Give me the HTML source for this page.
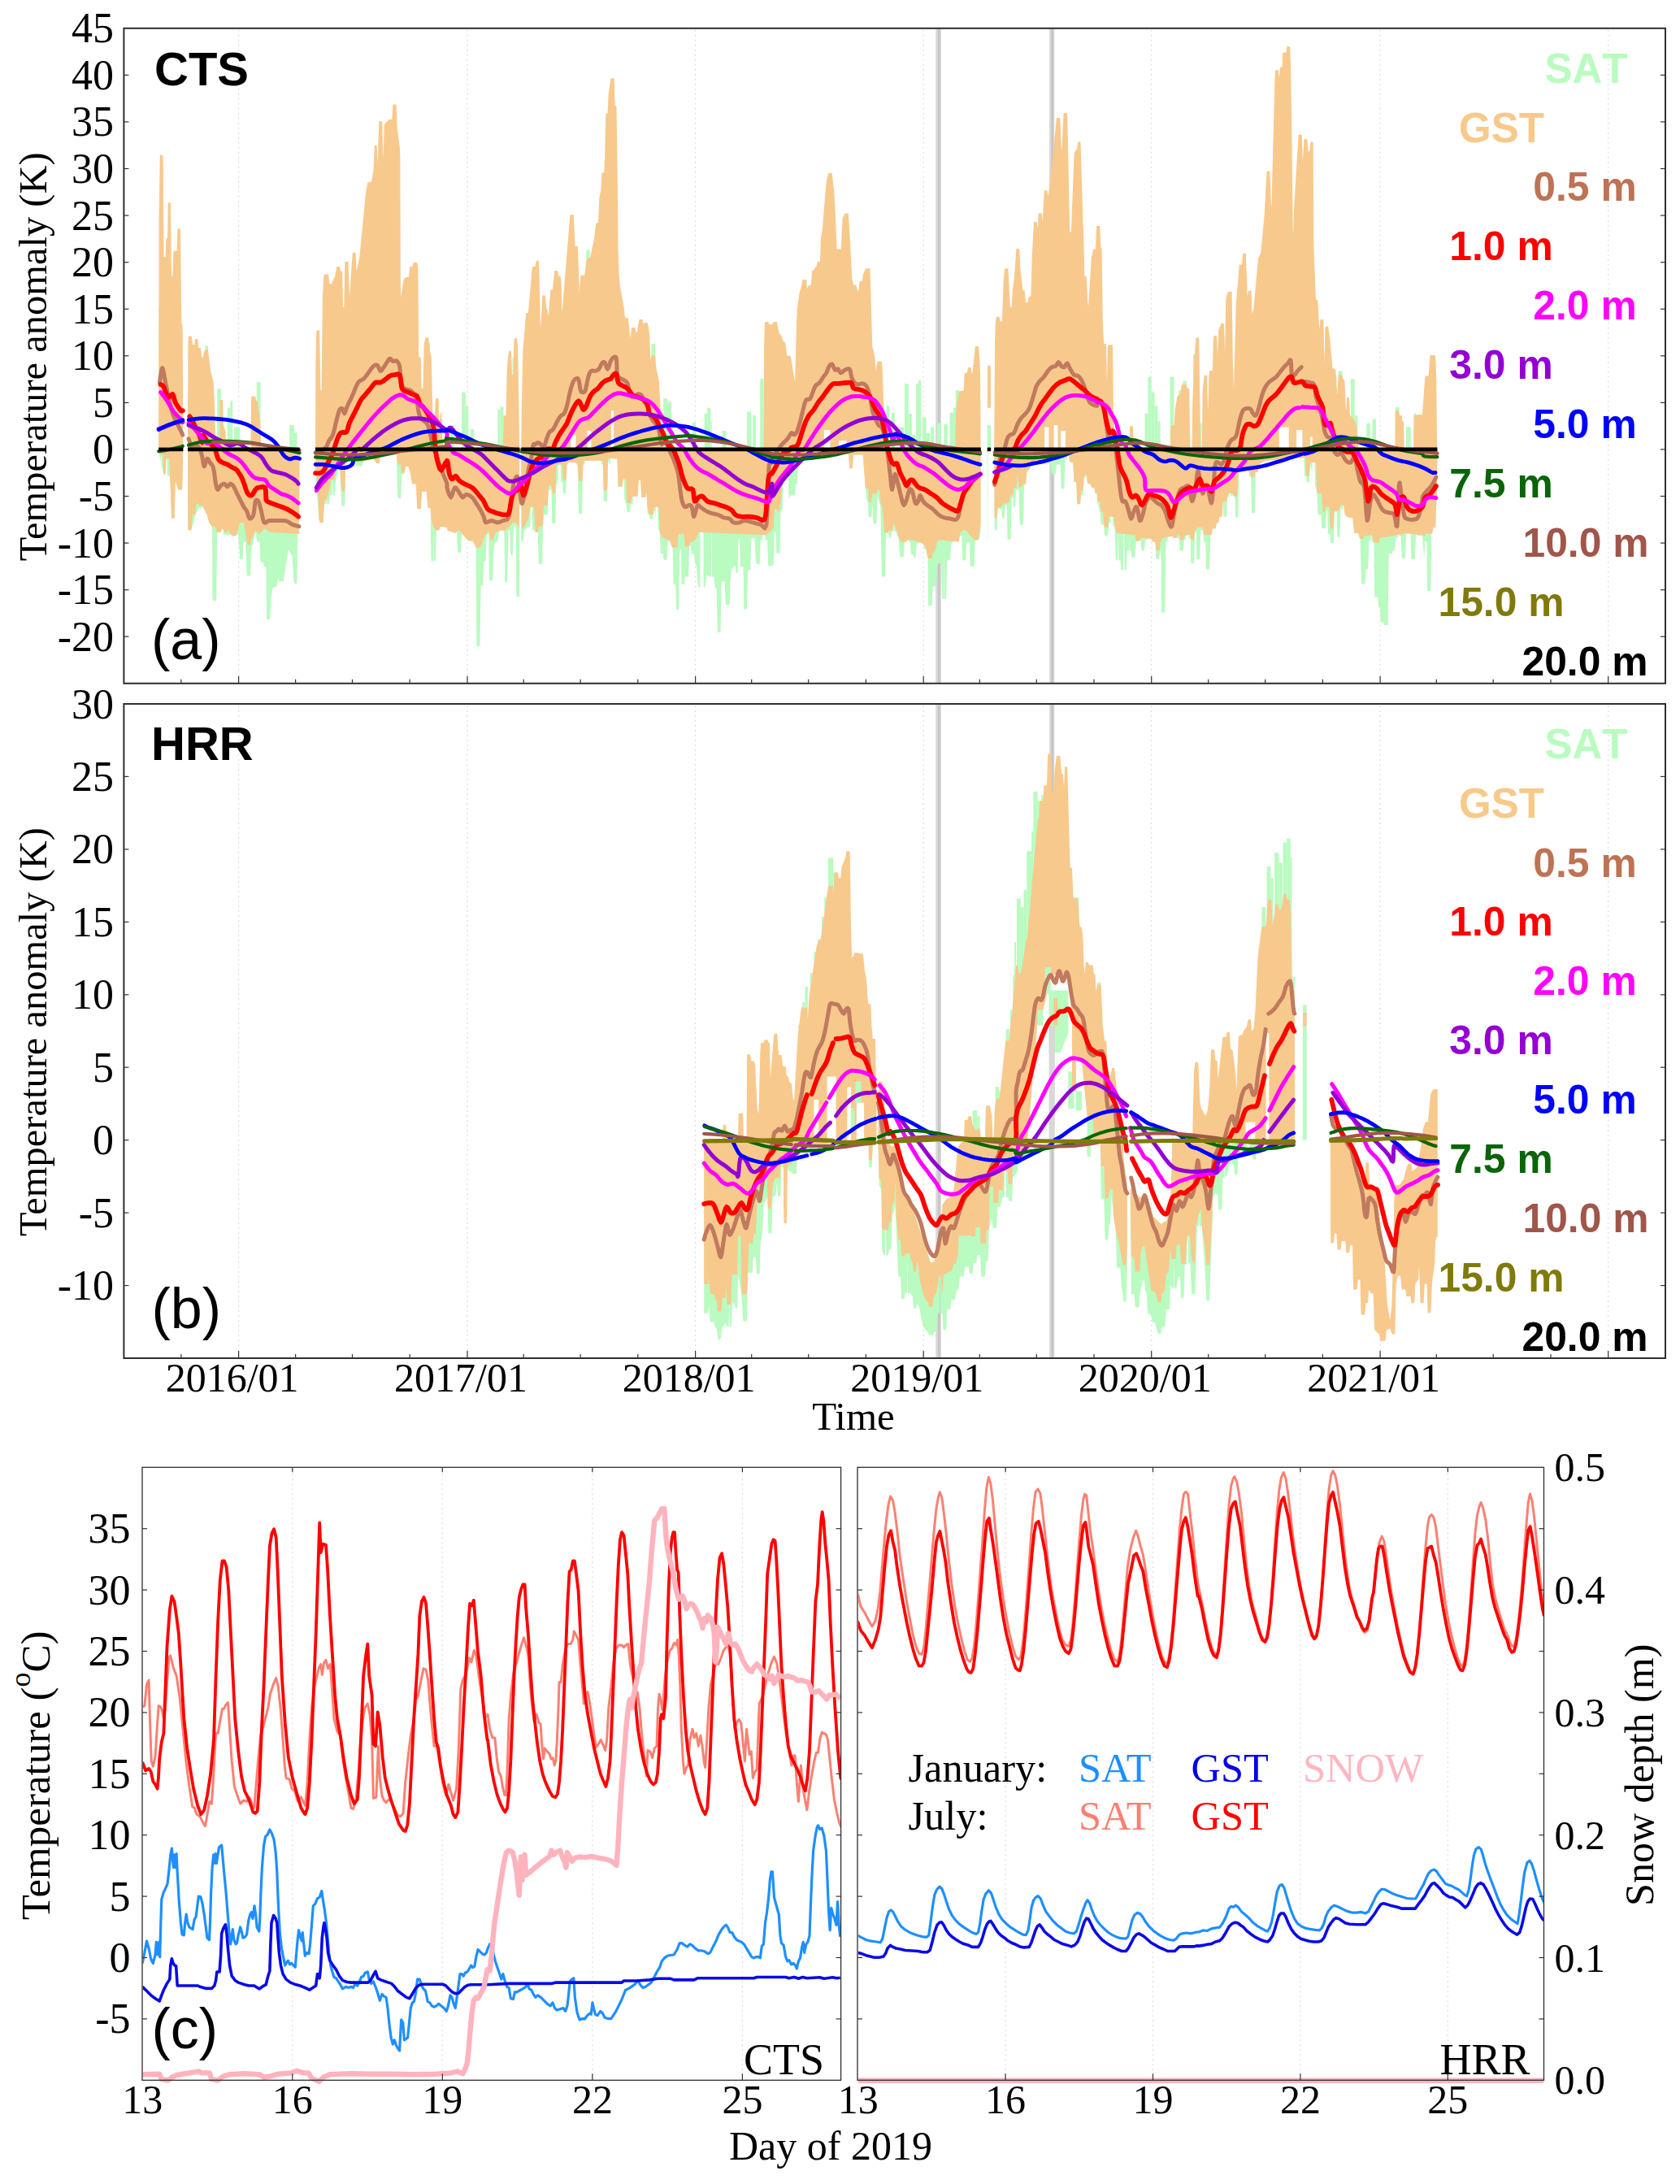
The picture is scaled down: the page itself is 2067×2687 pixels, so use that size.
<!DOCTYPE html>
<html lang="en"><head><meta charset="utf-8"><title>Temperature anomaly figure</title>
<style>html,body{margin:0;padding:0;background:#fff}svg{display:block}</style></head>
<body>
<svg width="2067" height="2687" viewBox="0 0 2067 2687" role="img" aria-label="Temperature anomaly time series for CTS and HRR sites">
<rect width="2067" height="2687" fill="#fff"/>
<line x1="293.6" y1="36.8" x2="293.6" y2="838.8" stroke="#dedede" stroke-width="1.2" stroke-dasharray="2,4"/>
<line x1="575" y1="36.8" x2="575" y2="838.8" stroke="#dedede" stroke-width="1.2" stroke-dasharray="2,4"/>
<line x1="855.6" y1="36.8" x2="855.6" y2="838.8" stroke="#dedede" stroke-width="1.2" stroke-dasharray="2,4"/>
<line x1="1136.2" y1="36.8" x2="1136.2" y2="838.8" stroke="#dedede" stroke-width="1.2" stroke-dasharray="2,4"/>
<line x1="1416.7" y1="36.8" x2="1416.7" y2="838.8" stroke="#dedede" stroke-width="1.2" stroke-dasharray="2,4"/>
<line x1="1698.1" y1="36.8" x2="1698.1" y2="838.8" stroke="#dedede" stroke-width="1.2" stroke-dasharray="2,4"/>
<line x1="1978.7" y1="36.8" x2="1978.7" y2="838.8" stroke="#dedede" stroke-width="1.2" stroke-dasharray="2,4"/>
<rect x="1151.2" y="35.8" width="6.7" height="804" fill="#dadada"/>
<rect x="1153.9" y="35.8" width="2.8" height="804" fill="#c6c6c6"/>
<rect x="1291" y="35.8" width="6.3" height="804" fill="#dadada"/>
<rect x="1293.3" y="35.8" width="2.8" height="804" fill="#c6c6c6"/>
<g id="data_a">
<path d="M195.2,552.9 L225.2,552.9 L225.2,555.5 L224.4,596.5 L224,602.4 L219.2,602.4 L216,591.5 L215.6,596.2 L215.2,610 L209.6,595.4 L208.4,586.2 L208,585.6 L206,584.9 L205.6,564.3 L204.4,564.3 L203.6,584.1 L201.2,583.3 L198.8,572.8 L198.4,559.5 L198,559.5 L197.6,567.5 L195.6,558.7 L195.2,552.9Z M231,552.9 L368.6,552.9 L368.6,552.9 L368.2,657.1 L366.2,657.1 L365.4,717.9 L362.2,717.9 L361.8,716.4 L359.4,684.3 L355,676.6 L354.6,677.3 L348.6,715.5 L344.2,715.5 L341.8,709.9 L340.6,721.3 L340.2,722.6 L335.8,722.6 L333.4,735.3 L332.2,761.9 L328.2,761.9 L327.4,699.3 L327,697.6 L325,697.6 L323.8,691.7 L320.6,691.7 L319.4,666.7 L317,666.7 L316.6,666.3 L314.2,655.1 L309,677.8 L308.2,704.8 L307.8,708.3 L303.8,708.3 L303.4,702.3 L302.2,666.7 L299.8,666.7 L299.4,670.4 L298.6,688.1 L295.4,688.1 L293,659 L292.6,657.2 L287,659.5 L284.6,659.1 L284.2,657.7 L283,656.6 L282.6,658.7 L275,657.5 L274.6,651.3 L273.8,650 L271.4,654.8 L269.8,654.8 L269.4,655.5 L267.4,654.9 L267,667.4 L266.2,738.4 L265.8,739.3 L261.8,739.3 L261.4,733.8 L261,656.8 L260.6,647.6 L257,642.2 L254.6,633 L249.8,623.7 L247.8,622.7 L247.4,627.2 L245.4,624.1 L245,624.3 L240.6,633.1 L237,647.2 L236.6,647.9 L231.4,652.3 L231,651.3Z M388,552.9 L639.2,552.9 L639.2,734 L635.6,734 L635.2,727.1 L634.8,654.5 L634.4,647.6 L632,647.6 L630.8,683.3 L628.4,683.3 L628,677.1 L627.6,652.4 L625.6,652.4 L625.2,654.9 L624.4,708.5 L624,716.2 L621.2,716.2 L620.4,652.4 L614.4,652.4 L612,666.1 L611.6,666.7 L608.8,666.7 L608.4,668.4 L607.2,680.4 L606,714.3 L602,714.3 L601.2,657.9 L600.8,657.1 L598.8,657.1 L598.4,663.1 L597.6,690.5 L595.6,690.5 L595.2,691.7 L594.4,716.7 L594,720.2 L591.6,720.2 L590.4,795.2 L586.4,795.2 L585.6,666.7 L580.8,666.5 L568.4,655 L568,657.3 L567.2,678.3 L566.8,679.8 L563.2,679.8 L562,654.6 L561.6,652.4 L550.4,652.4 L550,648.8 L547.6,649.5 L547.2,648.4 L541.6,647.9 L540.8,651.1 L540.4,651.4 L537.2,652.3 L536.8,655.7 L535.6,690.5 L533.6,690.5 L533.2,648.2 L532.8,690.5 L530.8,690.5 L530.4,683.5 L529.6,624.8 L526,620.5 L524.8,604.8 L519.2,604.8 L518.4,611.3 L512.4,604 L512,597.7 L511.6,595.2 L507.2,595.2 L504.8,581.2 L502.4,573.9 L499.2,573.8 L497.6,582.1 L496.8,582.1 L496.4,584.7 L494.4,582.3 L493.2,613.1 L489.6,613.1 L489.2,609.2 L488,559.5 L485.6,560 L485.2,559.5 L468,561.9 L467.6,563.1 L447.6,566.7 L445.2,573.8 L438,573 L437.6,567.3 L428,567.1 L427.6,569.8 L425.6,569.2 L425.2,571.2 L424.4,616.2 L424,622.6 L420.4,622.6 L418,574.5 L417.6,572.5 L412.8,593.9 L412,607.9 L411.6,609.5 L409.6,609.5 L409.2,590.5 L408.8,590.5 L408.4,609.5 L406,609.5 L404.8,619.9 L404.4,620.2 L402.4,620.2 L402,614 L401.6,615.3 L401.2,620.2 L399.2,620.2 L397.6,642.8 L392.4,639.3 L388.4,587.3 L388,552.9Z M641.3,552.9 L1206.5,552.9 L1206.5,655.6 L1204.9,663.6 L1204.5,664.3 L1202.5,664.8 L1202.1,664.3 L1201.7,665 L1199.7,665.4 L1198.5,697.1 L1194.1,697.1 L1193.7,693.6 L1192.9,668 L1192.5,666.7 L1189.3,666.7 L1188.9,670.2 L1188.1,689.2 L1184.5,689.3 L1184.1,683.2 L1183.3,658.4 L1172.9,666.7 L1170.5,668.8 L1170.1,671.4 L1168.9,689.3 L1165.3,689.3 L1164.1,736.9 L1162.1,736.9 L1161.7,665.1 L1161.3,736.9 L1159.3,736.9 L1158.9,730.1 L1158.1,693.1 L1157.7,692.9 L1154.9,692.9 L1152.9,695.2 L1151.7,721.4 L1147.7,721.4 L1146.5,745.2 L1142.1,745.2 L1141.7,696.1 L1141.3,686.3 L1139.3,676.3 L1136.9,674.5 L1136.5,670.1 L1135.7,669 L1130.5,667.3 L1130.1,669.6 L1127.7,667.9 L1126.5,685.7 L1124.5,685.7 L1124.1,685 L1123.3,682.1 L1121.3,682.1 L1120.9,681 L1120.1,666.7 L1118.1,666.7 L1117.7,664.3 L1116.9,664.3 L1115.7,665.3 L1115.3,666.7 L1112.9,666.7 L1111.7,685.2 L1107.3,685.2 L1105.7,663.5 L1102.5,653.9 L1102.1,653.6 L1100.1,653.6 L1099.7,643.4 L1099.3,653.6 L1097.3,653.6 L1096.1,661.9 L1094.5,661.9 L1094.1,661.1 L1092.9,656.1 L1092.5,656.1 L1090.1,657.1 L1088.9,709.5 L1084.9,709.5 L1083.3,623.7 L1079.7,610.2 L1078.5,644 L1074.5,644 L1074.1,639.2 L1073.3,619.6 L1072.5,634 L1072.1,636.2 L1068.9,636.2 L1068.5,633.6 L1068.1,619.2 L1065.7,612.8 L1065.3,601.2 L1064.9,601.2 L1061.7,559.5 L1050.1,559.5 L1049.3,570.1 L1045.3,559.7 L1042.9,559.8 L1042.5,558.4 L984.5,563.6 L984.1,566.4 L982.1,566.6 L980.9,595.2 L979.3,595.2 L978.9,597.5 L978.1,609.5 L972.9,609.5 L970.5,613.4 L970.1,579 L964.5,580.9 L964.1,582.3 L963.3,588.3 L962.9,625.8 L960.5,629.7 L959.7,671.1 L959.3,680.5 L955.3,680.5 L954.9,662.2 L954.5,654.8 L952.5,654.8 L951.7,695.2 L950.1,695.2 L949.7,696.4 L945.3,696.4 L944.1,665.7 L943.7,664.3 L941.7,664.3 L941.3,658.3 L938.5,658.3 L938.1,664.3 L936.1,664.3 L935.7,664.7 L934.9,689.7 L934.5,694 L930.9,693.8 L929.7,688.8 L928.5,661.9 L924.5,661.9 L924.1,669.6 L923.3,701.2 L920.1,701.2 L918.9,749.5 L915.3,749.5 L914.9,712.7 L914.5,697.6 L911.3,697.6 L910.9,695.7 L910.1,665.7 L909.7,661.9 L908.9,661.9 L908.5,665.1 L907.7,701.1 L907.3,704.8 L905.3,704.8 L904.9,698 L904.5,695.5 L900.1,699.9 L898.5,716.5 L897.7,741.5 L897.3,744 L892.9,744 L891.7,715.5 L887.7,715.5 L886.5,778.1 L882.9,778.1 L881.7,723.8 L879.7,723.8 L878.5,709.5 L876.1,709.5 L875.7,655.6 L875.3,655.6 L874.9,709.5 L872.9,709.5 L869.3,707.3 L868.9,709.1 L867.7,722.6 L865.7,722.6 L865.3,655.1 L861.7,654.9 L861.3,722.6 L859.3,722.6 L858.9,720.7 L856.9,696.9 L854.9,690.9 L853.7,682 L853.3,681 L851.3,681 L850.9,680.4 L850.1,672.4 L849.7,671.4 L848.1,671.4 L847.3,703.2 L846.9,709.5 L842.9,709.5 L841.7,719 L838.9,719 L838.5,712.6 L838.1,676.6 L837.7,676.2 L836.5,676.2 L836.1,683.2 L835.3,745.2 L834.9,750 L832.1,750 L831.3,719 L828.9,719 L828.5,715.7 L827.7,677.7 L827.3,673.3 L825.3,670.2 L824.9,667.2 L824.1,665.1 L823.7,667.8 L821.7,664.7 L821.3,667.6 L820.5,688.2 L820.1,688.8 L816.9,688.8 L816.5,687.4 L815.7,681 L812.9,681 L811.7,656.3 L809.7,648.2 L809.3,623.8 L806.9,623.8 L806.5,635.2 L804.5,627.1 L804.1,628.7 L803.3,638.8 L799.7,638.8 L798.9,634 L798.5,633.1 L796.5,631.9 L796.1,618.6 L795.3,605.8 L794.9,606.8 L794.1,611.6 L793.7,611.9 L789.3,611.9 L788.1,590.6 L785.7,590.7 L784.5,610.7 L778.9,610.7 L778.5,620.5 L776.5,619.2 L776.1,620.1 L775.3,629.1 L774.9,629.8 L771.7,629.8 L771.3,628.3 L770.5,619.3 L768.1,613.5 L767.7,589.3 L766.9,589.3 L766.5,590.6 L765.3,598.8 L761.7,598.5 L760.5,595.7 L759.7,570.7 L759.3,564.3 L750.9,564.3 L750.5,572.3 L748.1,566.7 L747.3,608.4 L746.9,616.7 L742.9,616.7 L741.7,571.4 L739.7,571.4 L739.3,566.7 L719.7,566.7 L719.3,571.4 L717.3,571.4 L716.1,632.1 L712.1,632.1 L710.5,571.4 L708.5,571.4 L708.1,569 L699.7,569 L699.3,571.4 L697.3,571.4 L696.1,607.1 L692.9,607.1 L692.5,596.4 L692.1,592.9 L690.1,593.5 L689.7,571.4 L686.9,571.4 L686.5,594.6 L684.5,595.2 L684.1,604.8 L683.3,644 L679.3,644 L678.5,602.4 L675.3,602.4 L674.9,605 L673.7,633.3 L669.3,633.3 L668.9,636.3 L668.1,652.3 L667.3,687.2 L666.9,694 L662.9,694 L661.7,654.7 L654.9,650.9 L654.5,623.8 L652.9,623.8 L652.5,649.3 L650.1,647.7 L645.3,652.3 L644.1,663.8 L643.7,664.6 L641.7,666.6 L641.3,672.5Z M1214.7,552.9 L1217.5,552.9 L1217.9,501.7 L1219.1,501.7 L1219.1,501.7 L1217.9,501.7 L1217.5,552.9 L1215.5,552.9 L1215.1,664.3 L1214.7,664.3Z M1223.2,552.9 L1768.4,552.9 L1768.4,552.9 L1768,616.7 L1761.2,655.8 L1760.4,720.3 L1760,727.1 L1756,727.1 L1755.6,671.1 L1755.2,665.7 L1753.2,665.7 L1752.4,683.8 L1752,684.3 L1750,659.5 L1742,658.3 L1740.8,688.1 L1736.4,688.1 L1735.6,657.1 L1733.2,657.1 L1732.8,656.4 L1732.4,657.1 L1730,657.1 L1729.2,682.1 L1728.8,686.9 L1724.8,686.9 L1723.6,659.6 L1721.6,660.3 L1721.2,657.2 L1720,657.4 L1719.6,661 L1717.2,661.9 L1716,677.4 L1714,677.4 L1712.8,681 L1708.8,681 L1708.4,696.8 L1707.6,769 L1703.6,769 L1703.2,768.5 L1702.4,765.5 L1698.8,765.5 L1698,747.6 L1696.4,747.6 L1696,745 L1695.2,734.5 L1691.2,734.5 L1690.4,667.8 L1687.6,666.2 L1687.2,658.4 L1686.8,658.5 L1686.4,665.5 L1684.4,664.4 L1683.2,700 L1680.8,700 L1680.4,701.5 L1679.6,717.1 L1679.2,718.6 L1675.6,718.6 L1675.2,717.1 L1673.6,663.9 L1671.6,660.6 L1671.2,656 L1668.8,655.9 L1665.6,650 L1664.4,638 L1664,636.9 L1659.6,636.9 L1654.8,632.6 L1653.2,621.4 L1652.4,621.4 L1652,627.9 L1649.6,623.9 L1648.4,660.7 L1645.6,660.7 L1645.2,658.2 L1644.8,632.2 L1644.4,629.8 L1642,629.8 L1640.8,667.9 L1637.2,667.9 L1636.8,660.1 L1636.4,657.1 L1634,657.1 L1633.2,628.6 L1632,628.6 L1630.8,650 L1626.4,650 L1626,646.7 L1625.2,633.3 L1621.6,633.3 L1620.4,606.8 L1618,596.5 L1617.6,569 L1614.8,569 L1614.4,581 L1612,570.6 L1610.8,593.3 L1607.6,593 L1607.2,586.6 L1606.8,585.7 L1604.8,585.5 L1604.4,563.2 L1557.2,566.7 L1548.8,571.3 L1548.4,573.1 L1547.6,581 L1547.2,581.1 L1544.8,581 L1544,631 L1540,631 L1539.2,586.9 L1536.8,585.9 L1536.4,579.5 L1526.8,578.6 L1526.4,581.8 L1524.4,581 L1523.2,636.2 L1520,636.2 L1519.6,615.8 L1519.2,611.6 L1516.8,609.6 L1514.4,610.3 L1514,607.1 L1512.8,607.1 L1512.4,611 L1510,611.9 L1509.2,631.9 L1508.8,635.7 L1505.6,635.7 L1505.2,634.4 L1504.8,620.4 L1504.4,620.3 L1495.6,650.2 L1493.6,653 L1493.2,650 L1492,650 L1491.6,651.8 L1491.2,656.4 L1489.2,659.3 L1488,700.5 L1484,700.5 L1483.2,666.7 L1481.2,666.7 L1480.4,652.4 L1477.2,652.4 L1476,688.1 L1472.4,688.1 L1472,661.4 L1471.6,654.8 L1470,654.8 L1469.2,686.8 L1468.8,692.9 L1465.6,692.9 L1465.2,690.4 L1464.8,664.4 L1464.4,662 L1462.4,662.6 L1462,657.9 L1459.2,658.8 L1458.8,663.7 L1456.8,664.2 L1455.6,677.4 L1451.6,677.4 L1450.8,661.9 L1448.8,662.5 L1448.4,659 L1447.6,661.9 L1444,661.8 L1442.8,659.5 L1436.8,660 L1436.4,666.1 L1434.4,666.6 L1433.2,753.6 L1429.2,753.6 L1428.4,678.6 L1427.2,678.6 L1426,688.1 L1422.4,688.1 L1421.6,670.5 L1421.2,666.6 L1418,666 L1416.8,663.4 L1416.4,663.1 L1411.6,662.6 L1411.2,664.7 L1409.2,664.3 L1408,677.4 L1404.4,677.4 L1403.6,664.4 L1397.6,667 L1396.8,683 L1396.4,685.7 L1392.4,685.7 L1392,679 L1391.6,677.4 L1389.6,677.4 L1389.2,657.4 L1388.8,677.4 L1386.8,677.4 L1385.6,701.2 L1383.6,701.2 L1383.2,657.1 L1382.4,657.1 L1382,701.2 L1379.6,701.2 L1378.4,689.3 L1376.4,689.3 L1376,656.5 L1375.6,656.4 L1375.2,689.3 L1373.2,689.3 L1372.8,687.6 L1371.6,652.6 L1371.2,647.5 L1369.2,646.1 L1368.8,635.7 L1366.8,635.7 L1366.4,644.3 L1364.4,642.9 L1363.2,659 L1359.2,659 L1358,645.2 L1354.4,645.2 L1353.6,630.2 L1350,616.7 L1349.6,606.6 L1347.2,603.5 L1346.4,600 L1344.4,599.9 L1342.4,597.4 L1341.6,595.2 L1340.8,595.2 L1337.6,590.8 L1336.8,584.5 L1336,584.5 L1335.6,588.6 L1333.6,586.1 L1333.2,589 L1332.4,609 L1332,609.5 L1330,609.5 L1329.2,619.5 L1328.8,620.6 L1324.8,607.3 L1324.4,596.1 L1324,592.9 L1321.6,592.9 L1320.4,572.3 L1320,569 L1316.8,569 L1314.4,557.7 L1314,557.1 L1313.2,557.1 L1312.8,567.3 L1310.8,560.6 L1310.4,562.9 L1309.6,597.9 L1309.2,601.2 L1306,601.2 L1305.6,597.6 L1304.8,572.6 L1304.4,571.4 L1300,571.4 L1298.8,583.3 L1294.4,583.3 L1294,582.8 L1292.8,570.3 L1290.4,571.1 L1290,569 L1269.2,569 L1266.8,576.9 L1266.4,577.5 L1266,577.6 L1265.6,580.1 L1263.6,580.9 L1263.2,583.1 L1262.4,596.1 L1262,596.4 L1260,596.4 L1259.2,637.8 L1258.8,645.7 L1254.8,645.7 L1253.6,603.4 L1253.2,602.4 L1250,602.4 L1249.2,620.4 L1248.8,623.8 L1247.2,623.8 L1246.4,611.9 L1244.8,611.9 L1243.6,663.8 L1239.6,663.8 L1238.8,621.4 L1236.8,621.4 L1235.6,637.6 L1233.2,637.6 L1232.8,636.2 L1232.4,626.6 L1232,626.2 L1228,626.2 L1227.6,626.7 L1226.8,648.7 L1226.4,652.4 L1224,652.4 L1223.6,646.1 L1223.2,552.9Z" fill="#b9fbc0"/>
<rect x="195.2" y="377.9" width="1.4" height="175.1" fill="#b9fbc0"/>
<rect x="252.4" y="425.5" width="3.6" height="127.5" fill="#b9fbc0"/>
<rect x="267.1" y="478.3" width="4.8" height="74.6" fill="#b9fbc0"/>
<rect x="279.8" y="501.7" width="3.6" height="51.3" fill="#b9fbc0"/>
<rect x="283.3" y="493.3" width="2.9" height="59.6" fill="#b9fbc0"/>
<rect x="288.1" y="525.5" width="7.1" height="27.5" fill="#b9fbc0"/>
<rect x="315.7" y="470.2" width="4.8" height="82.7" fill="#b9fbc0"/>
<rect x="356.2" y="523.1" width="5.7" height="29.8" fill="#b9fbc0"/>
<rect x="361.9" y="532.6" width="3.6" height="20.3" fill="#b9fbc0"/>
<rect x="344" y="549.3" width="4.8" height="3.7" fill="#b9fbc0"/>
<rect x="476.7" y="505.2" width="3.3" height="47.7" fill="#b9fbc0"/>
<rect x="485.7" y="535" width="2.9" height="17.9" fill="#b9fbc0"/>
<rect x="527.1" y="420.7" width="1.9" height="132.2" fill="#b9fbc0"/>
<rect x="554.3" y="523.1" width="4.3" height="29.8" fill="#b9fbc0"/>
<rect x="568.1" y="482.6" width="4.8" height="70.3" fill="#b9fbc0"/>
<rect x="572.9" y="499.3" width="3.3" height="53.7" fill="#b9fbc0"/>
<rect x="579" y="527.9" width="4.3" height="25.1" fill="#b9fbc0"/>
<rect x="612.4" y="504" width="3.1" height="48.9" fill="#b9fbc0"/>
<rect x="615.5" y="500.5" width="4" height="52.5" fill="#b9fbc0"/>
<rect x="630.5" y="439.8" width="1.4" height="113.2" fill="#b9fbc0"/>
<rect x="721.4" y="307.6" width="4.3" height="245.3" fill="#b9fbc0"/>
<rect x="801.4" y="423.1" width="4.8" height="129.8" fill="#b9fbc0"/>
<rect x="816.2" y="490.2" width="4.8" height="62.7" fill="#b9fbc0"/>
<rect x="821" y="494.5" width="5.2" height="58.4" fill="#b9fbc0"/>
<rect x="826.2" y="516" width="1.4" height="37" fill="#b9fbc0"/>
<rect x="851.9" y="519.5" width="4.3" height="33.4" fill="#b9fbc0"/>
<rect x="866.7" y="508.8" width="3.6" height="44.1" fill="#b9fbc0"/>
<rect x="870.2" y="501.7" width="4" height="51.3" fill="#b9fbc0"/>
<rect x="874.3" y="518.3" width="1.4" height="34.6" fill="#b9fbc0"/>
<rect x="888.6" y="530.2" width="4.8" height="22.7" fill="#b9fbc0"/>
<rect x="919" y="506.4" width="5.2" height="46.5" fill="#b9fbc0"/>
<rect x="926.2" y="511.2" width="3.8" height="41.8" fill="#b9fbc0"/>
<rect x="935.2" y="466" width="4.3" height="87" fill="#b9fbc0"/>
<rect x="988.1" y="344" width="4.8" height="208.9" fill="#b9fbc0"/>
<rect x="1090.5" y="499.3" width="3.8" height="53.7" fill="#b9fbc0"/>
<rect x="1096.7" y="507.6" width="4.3" height="45.3" fill="#b9fbc0"/>
<rect x="1107.1" y="525.5" width="4.8" height="27.5" fill="#b9fbc0"/>
<rect x="1112.9" y="471.9" width="4.8" height="81" fill="#b9fbc0"/>
<rect x="1117.6" y="508.8" width="4.3" height="44.1" fill="#b9fbc0"/>
<rect x="1121.9" y="535" width="4.3" height="17.9" fill="#b9fbc0"/>
<rect x="1127.1" y="471.9" width="2.9" height="81" fill="#b9fbc0"/>
<rect x="1130" y="467.9" width="3.3" height="85.1" fill="#b9fbc0"/>
<rect x="1134.8" y="513.6" width="4.8" height="39.4" fill="#b9fbc0"/>
<rect x="1139.5" y="532.6" width="4.8" height="20.3" fill="#b9fbc0"/>
<rect x="1145.2" y="525.5" width="3.8" height="27.5" fill="#b9fbc0"/>
<rect x="1152.9" y="520.7" width="4.8" height="32.2" fill="#b9fbc0"/>
<rect x="1161.4" y="521.9" width="4.3" height="31" fill="#b9fbc0"/>
<rect x="1168.6" y="507.6" width="4.3" height="45.3" fill="#b9fbc0"/>
<rect x="1172.9" y="501.7" width="3.3" height="51.3" fill="#b9fbc0"/>
<rect x="1175.7" y="480.2" width="4.8" height="72.7" fill="#b9fbc0"/>
<rect x="1214.8" y="523.1" width="4.3" height="29.8" fill="#b9fbc0"/>
<rect x="1291" y="513.6" width="2.9" height="39.4" fill="#b9fbc0"/>
<rect x="1301.4" y="505.2" width="3.3" height="47.7" fill="#b9fbc0"/>
<rect x="1311" y="511.2" width="1.9" height="41.8" fill="#b9fbc0"/>
<rect x="1408.6" y="508.8" width="3.8" height="44.1" fill="#b9fbc0"/>
<rect x="1412.4" y="463.6" width="4.3" height="89.4" fill="#b9fbc0"/>
<rect x="1416.7" y="482.6" width="3.8" height="70.3" fill="#b9fbc0"/>
<rect x="1420.5" y="499.3" width="3.8" height="53.7" fill="#b9fbc0"/>
<rect x="1424.3" y="518.3" width="3.3" height="34.6" fill="#b9fbc0"/>
<rect x="1439.5" y="463.6" width="4.8" height="89.4" fill="#b9fbc0"/>
<rect x="1450" y="480.2" width="3.8" height="72.7" fill="#b9fbc0"/>
<rect x="1455.2" y="468.8" width="4.8" height="84.1" fill="#b9fbc0"/>
<rect x="1468.1" y="436.2" width="2.4" height="116.8" fill="#b9fbc0"/>
<rect x="1476.2" y="520.7" width="2.4" height="32.2" fill="#b9fbc0"/>
<rect x="1646.7" y="456.4" width="4.8" height="96.5" fill="#b9fbc0"/>
<rect x="1661.9" y="466.4" width="4.8" height="86.5" fill="#b9fbc0"/>
<rect x="1666.7" y="511.2" width="3.8" height="41.8" fill="#b9fbc0"/>
<rect x="1681.4" y="520.7" width="4.3" height="32.2" fill="#b9fbc0"/>
<rect x="1688.6" y="516" width="4.3" height="37" fill="#b9fbc0"/>
<rect x="1716.7" y="501.2" width="4.8" height="51.8" fill="#b9fbc0"/>
<rect x="1730" y="525.5" width="5.7" height="27.5" fill="#b9fbc0"/>
<rect x="1739.5" y="508.8" width="3.3" height="44.1" fill="#b9fbc0"/>
<rect x="1690" y="515.5" width="2.6" height="37.4" fill="#b9fbc0"/>
<rect x="1717.1" y="500.9" width="4" height="52.1" fill="#b9fbc0"/>
<rect x="1729.9" y="525.6" width="5.5" height="27.3" fill="#b9fbc0"/>
<path d="M195.2,552.9 L195.6,267 L196.8,191 L200.4,191 L200.8,206 L201.6,316 L203.6,316 L204.4,293.3 L206,293.3 L206.8,249.3 L210,249.3 L210.8,325.3 L211.2,339.8 L212,339.8 L212.4,339.1 L213.2,313.1 L213.6,308.8 L217.6,308.8 L218.4,281.4 L222,281.4 L223.2,386.1 L223.6,399.3 L224.4,399.3 L224.8,411.6 L225.2,540.6 L225.2,555.5 L224.4,596.5 L224,602.4 L219.2,602.4 L216,591.5 L215.6,596.2 L214.8,636.2 L214.4,638.1 L211.2,638.1 L210.8,633.3 L208.4,565.9 L208,564.3 L204.4,564.3 L203.6,583.3 L201.2,583.3 L200.4,559.5 L197.6,559.5 L195.6,557.5 L195.2,552.9Z M231,538.9 L231.4,421.9 L231.8,413.6 L235.4,413.6 L235.8,414.2 L237,423.2 L237.4,424.3 L239,424.3 L240.2,417.1 L243,417.1 L243.4,417.9 L244.2,426.9 L244.6,427.9 L247,427.9 L248.2,439.8 L249.8,439.8 L251,432.6 L253,430.2 L255.8,429.1 L259,456.1 L262.6,469.8 L263,474.8 L265.8,552.9 L270.2,552.9 L270.6,492.1 L274.2,492.1 L275,523.7 L277.4,530.6 L278.6,552.9 L308.2,552.9 L308.6,548.9 L309,493.9 L309.4,487.4 L314.2,487.4 L315,493.3 L316.6,493.3 L320.2,518.7 L321.4,551.9 L321.8,552.9 L368.6,552.9 L368.6,552.9 L367.8,657.1 L331,654.8 L326.2,650 L319,657.1 L314.2,652.6 L309,664.6 L308.2,669.6 L307.8,670.2 L305,670.2 L304.6,669.4 L299.8,642.9 L295.4,642.9 L290.6,659.2 L290.2,659.5 L287,659.5 L283.4,657.2 L280.6,652.6 L280.2,652.7 L277.4,655.9 L273.8,650 L271.4,654.8 L266.6,654.6 L264.2,647.6 L260.6,647.6 L257.4,643.2 L254.6,633 L249.8,623.7 L241.8,619.3 L241.4,619.5 L240.6,631.5 L240.2,633.3 L237,633.3 L236.6,634.7 L235.8,650.7 L235.4,652.4 L231.8,652.4 L231.4,646.5 L231,563.5Z M388,552.9 L388.4,446.3 L389.2,410.3 L389.6,406.4 L393.2,406.4 L394.4,480.2 L395.6,480.2 L396.8,367.3 L398.4,340.3 L398.8,337.4 L404,337.4 L404.4,338.8 L405.2,348.8 L405.6,349.3 L407.6,349.3 L412,340.4 L414.4,327.9 L418,327.9 L419.2,333.8 L421.2,333.8 L422,377.9 L423.2,377.9 L424.4,321.9 L428.4,321.9 L430,364.8 L433.6,313.9 L434,310.7 L437.6,310.7 L438.4,330.6 L438.8,333.5 L442.4,315.8 L450,237.4 L452.4,224.3 L455.6,224.3 L456.8,223.4 L457.2,222.8 L459.2,210.8 L459.6,206.9 L460.8,179 L463.6,179 L464.8,200.3 L466,156.3 L466.4,149.3 L470,149.3 L470.4,156.1 L471.2,189.7 L471.6,192.6 L472.8,152.7 L478.8,146.9 L482,146.9 L482.4,146.5 L483.2,131.1 L483.6,128.6 L487.6,128.6 L488.8,157.9 L492,183.6 L492.4,194.6 L492.8,346.6 L493.2,365.8 L496.8,343.2 L500,341 L502.8,341 L504.4,327.9 L506.8,327.9 L507.2,327.7 L508.4,323.7 L508.8,323.1 L512.4,323.1 L514,325.1 L514.4,339.2 L515.2,435.2 L515.6,439.8 L517.6,439.8 L518,447.4 L518.4,468.7 L518.8,477.9 L520.4,477.9 L521.6,424.6 L523.2,416 L523.6,415.2 L526.8,415.2 L527.2,415.8 L528.8,431.2 L530.8,439.2 L532.4,511.5 L533.6,531.5 L534,530.5 L535.6,492.9 L536,490.2 L539.2,490.2 L539.6,492.7 L540.4,518.3 L540.8,517.7 L542,507.6 L543.2,507.6 L544.4,536.4 L545.6,551.4 L546,552.9 L618.8,552.9 L619.6,511.2 L622.4,511.2 L622.8,498.5 L623.6,457.4 L625.2,436.7 L626.8,431.4 L628.8,431.4 L629.2,436.2 L630,461.2 L631.2,461.2 L631.6,453.5 L632.4,418.3 L634,416 L636,416 L636.8,423.6 L637.2,430.6 L639.2,552.9 L639.2,552.9 L638.8,649.7 L634.4,642.9 L630.8,643 L621.2,653.5 L616.8,652.4 L609.6,654.7 L607.2,664.1 L606.8,664.3 L603.6,664.3 L601.2,652.4 L594.4,663.6 L591.6,673.8 L585.6,673.5 L582,665.5 L576.4,665.5 L564.4,652.5 L559.6,655.9 L550.4,652.5 L550,648.8 L541.6,647.9 L540.4,652.4 L535.6,652.2 L532.8,647.4 L531.2,641.4 L529.6,625 L526.4,625 L524.8,604.8 L519.2,604.8 L518,623.6 L517.6,626.2 L513.2,626.2 L512,597.7 L511.6,595.2 L507.2,595.2 L504.8,581.2 L502.4,573.9 L499.2,573.8 L497.6,582.1 L494.4,582.1 L494,581.7 L492.8,571.4 L489.6,571.4 L489.2,570.6 L488,559.5 L468,561.9 L466.8,569.3 L466.4,570.2 L463.2,570.2 L459.6,564.4 L459.2,564.4 L442.8,569 L428.8,566.7 L425.6,568.8 L425.2,570.5 L424.4,600.5 L424,604.8 L420.4,604.8 L418,573.4 L417.6,571.4 L414,571.4 L413.6,573.5 L412,589.5 L411.6,590.5 L407.2,590.5 L404.8,604.5 L401.2,616.6 L399.2,614.5 L397.6,642.9 L393.6,642.9 L393.2,642.2 L392.4,638.2 L390.4,583.3 L388.4,583.3 L388,552.9Z M641.3,552.9 L641.7,507.1 L643.3,431.7 L647.3,385 L649.7,385 L650.1,383.3 L654.9,327.9 L658.5,327.9 L659.7,320.7 L662.5,320.7 L662.9,321.8 L663.7,341.8 L664.9,404.6 L666.1,388.6 L667.3,363.6 L670.9,363.6 L672.1,378.3 L673.7,382.3 L674.5,387.8 L674.9,388.2 L677.3,356.4 L679.7,356.4 L680.1,355.1 L682.1,335.1 L682.5,333.1 L686.1,333.1 L687.3,339.8 L689.3,339.8 L690.1,342.6 L690.5,345.6 L691.3,381.6 L691.7,382.9 L701.3,265.9 L701.7,264.3 L705.7,264.3 L707.7,302.9 L710.9,302.9 L712.9,360.5 L714.1,341.5 L714.5,338.6 L718.1,338.6 L718.9,340.6 L721.3,321.6 L722.9,317.1 L726.1,317.1 L730.9,294.8 L733.3,274.6 L736.1,274.3 L737.3,243.7 L739.3,233.7 L740.5,212.4 L743.3,212.4 L744.1,194.2 L745.3,139.8 L747.3,139.8 L747.7,137.6 L748.5,116.6 L751.3,97 L751.7,96.2 L755.7,96.2 L756.5,124.3 L756.9,130.2 L758.5,130.2 L759.7,209 L760.5,304.9 L761.7,339.1 L762.9,351.9 L767.7,378.6 L768.9,389.6 L769.3,391 L772.5,391 L772.9,391.4 L775.3,415.5 L777.3,402.9 L781.3,402.9 L782.5,408.8 L784.1,408.8 L785.3,399 L786.5,393.6 L786.9,392.9 L790.5,393 L791.7,398.4 L792.1,398.8 L792.9,396.9 L796.5,396.9 L798.1,402.9 L799.3,413.9 L800.5,444.3 L801.3,438.3 L801.7,437.4 L806.1,437.4 L807.7,454.4 L809.7,462.4 L810.9,470.4 L815.7,552.6 L939.3,552.9 L940.1,426.6 L940.9,397.8 L941.3,396 L945.3,396.1 L946.5,398.9 L946.9,399.3 L949.7,399.3 L950.1,399.1 L952.1,396 L955.7,396 L958.9,410.5 L961.7,413.4 L963.7,420.3 L966.5,421.8 L968.1,437.4 L972.5,438.1 L972.9,438.4 L978.1,470.5 L980.1,394.9 L980.9,378.9 L983.7,359.5 L985.7,354.1 L987.3,344.5 L991.7,344.5 L992.9,355.1 L994.5,351.6 L998.1,350.4 L998.9,335.4 L999.3,332.6 L1001.3,332.6 L1002.9,329 L1004.5,328 L1004.9,327 L1005.7,322 L1008.9,321.9 L1010.1,291.6 L1011.7,283.6 L1016.5,225 L1018.9,213.7 L1019.3,213.1 L1023.7,213.1 L1026.1,234.2 L1027.7,258.9 L1029.3,301.4 L1029.7,306.4 L1034.5,306.4 L1034.9,303.3 L1036.5,271.3 L1036.9,267.8 L1039.7,262.4 L1043.7,262.4 L1044.9,278.6 L1048.5,343.6 L1050.1,350.5 L1053.3,350.5 L1054.9,357.6 L1056.5,357.6 L1057.7,345.7 L1060.9,345.7 L1062.1,337 L1065.3,330.2 L1070.1,330.2 L1070.5,331.1 L1073.3,426.6 L1076.1,437.1 L1077.7,455.9 L1079.3,445.9 L1079.7,444.5 L1084.5,444.5 L1084.9,445.9 L1085.7,453.9 L1088.5,533.2 L1090.5,552.9 L1174.9,552.9 L1176.5,504.3 L1176.9,497.7 L1180.1,481.4 L1185.7,480.2 L1186.5,462.6 L1186.9,458.8 L1189.7,458.8 L1190.1,458.1 L1190.9,452.5 L1191.3,452.1 L1194.5,452.1 L1194.9,453.5 L1195.7,461.1 L1196.9,455.3 L1199.7,428.1 L1200.1,426 L1204.1,426 L1205.3,441.3 L1206.1,461.3 L1206.5,521.6 L1206.5,644.2 L1203.7,663.6 L1203.3,664.3 L1198.9,664.3 L1188.1,652.4 L1184.5,652.4 L1180.9,657.6 L1179.7,666.7 L1156.1,664.3 L1152.9,666.6 L1150.9,676.6 L1147.7,680.8 L1146.5,686.5 L1146.1,686.9 L1141.7,686.9 L1139.3,673.9 L1135.7,669 L1124.1,664.4 L1116.9,664.3 L1114.1,666.7 L1108.1,666.7 L1099.7,643.4 L1099.3,645.1 L1098.5,652.4 L1094.1,652.7 L1092.9,654.7 L1088.1,654.8 L1085.7,623.8 L1083.3,618.5 L1082.5,604.5 L1082.1,602.4 L1080.1,602.4 L1078.5,607.1 L1073.3,607.4 L1071.7,617.9 L1069.3,617.9 L1068.9,615.3 L1068.1,601.3 L1064.9,601.2 L1061.7,559.5 L1050.1,559.5 L1048.9,576.2 L1045.3,576.2 L1044.1,559.1 L1043.7,558.3 L972.9,566.6 L972.5,567.9 L971.3,578.6 L964.5,580.9 L964.1,582.3 L959.7,626.2 L959.3,628.6 L956.1,628.3 L955.3,626.3 L952.9,626.2 L951.7,650 L950.1,650 L949.7,652.6 L942.9,658.3 L859.7,654.8 L855.7,664.4 L848.9,667.8 L847.7,672.3 L847.3,672.6 L842.9,672.6 L841.7,657.6 L841.3,657.1 L834.9,657.1 L834.5,657.5 L833.3,673.8 L827.3,673.6 L823.7,664.2 L816.9,662 L812.1,657.3 L810.5,623.8 L804.9,623.8 L803.7,632.3 L803.3,633.3 L798.9,633.3 L796.5,624.1 L795.3,605.8 L794.9,606.8 L794.1,611.6 L793.7,611.9 L789.3,611.9 L788.1,590.6 L785.7,590.7 L784.5,610.7 L777.7,610.7 L777.3,611.3 L776.1,619 L771.7,619 L771.3,615.8 L770.1,589.3 L766.9,589.3 L766.5,590.6 L765.3,598.8 L760.5,598.8 L759.7,570.7 L759.3,564.3 L748.1,564.3 L747.3,597.1 L746.9,603.6 L742.9,603.6 L741.7,567.7 L741.3,566.7 L718.1,566.7 L717.7,570 L716.5,591.7 L712.1,591.7 L710.5,569 L697.7,569 L696.5,589.2 L696.1,590.5 L692.9,590.5 L691.7,572 L691.3,571.4 L684.9,571.4 L684.5,572.1 L683.3,607.1 L680.1,607.1 L679.7,606.6 L678.5,597.6 L675.3,597.6 L674.9,599.6 L673.7,621.4 L669.3,621.4 L668.9,624.7 L667.7,647.6 L663.3,647.6 L661.7,654.8 L658.5,654.8 L657.3,627.9 L656.9,623.8 L652.5,623.8 L649.7,638.7 L645.3,647.5 L641.7,652 L641.3,552.9Z M1214.7,552.9 L1215.1,449.8 L1218.7,449.8 L1219.1,461.2 L1219.1,501.7 L1215.1,501.7 L1214.7,552.9Z M1223.2,552.9 L1224,422.1 L1224.8,398.9 L1225.6,390.9 L1226,389.8 L1229.2,389.8 L1229.6,390.1 L1230.8,395.1 L1231.2,395.7 L1232.8,395.7 L1234.8,344.1 L1236,332.1 L1236.4,330.2 L1240.4,330.2 L1242.8,376.5 L1243.2,377.9 L1244.4,377.9 L1244.8,377 L1245.6,359 L1247.6,344.6 L1250.4,306.7 L1250.8,306 L1254,306 L1254.4,308.9 L1255.2,329.3 L1258.4,356 L1258.8,357.6 L1260.8,357.6 L1262,371.9 L1264.4,371.9 L1264.8,371.6 L1265.6,365.6 L1266,364.8 L1268.4,364.8 L1269.6,319.4 L1272,273.1 L1275.6,273.1 L1276.4,280 L1276.8,279.8 L1277.6,262.8 L1278,262.4 L1281.6,262.4 L1282,263.5 L1282.8,272.5 L1284.8,234.5 L1288.4,234.5 L1289.6,241.6 L1292,224.3 L1300,145 L1304,145 L1304.4,147.8 L1306,183.6 L1306.4,183.2 L1308.4,142.6 L1308.8,139 L1313.2,139 L1316,276.9 L1316.4,286.1 L1318,285.1 L1321.2,198 L1322,187.2 L1325.2,182.7 L1326,176.1 L1326.4,174.5 L1329.2,174.5 L1329.6,176.7 L1332.4,273.5 L1333.2,289.5 L1334.4,339.8 L1336.4,339.8 L1336.8,342.4 L1338.4,371.4 L1338.8,375.4 L1339.2,375.6 L1342.8,316.7 L1345.2,306.6 L1348,306.4 L1349.2,277.9 L1353.2,277.9 L1354.4,304.2 L1355.6,306.2 L1356.8,395 L1358,421 L1358.4,423.1 L1360.8,423.1 L1362,470.5 L1362.8,428.5 L1363.2,425.3 L1364.8,424.3 L1368.8,424.3 L1369.2,438.2 L1370,511.2 L1371.6,552.9 L1389.6,552.9 L1390,524.3 L1394,524.3 L1394.8,552.9 L1440,552.9 L1440.4,527.9 L1440.8,523.1 L1444.4,523.1 L1444.8,522.2 L1445.6,504.2 L1448.4,488.2 L1448.8,487.2 L1452.4,484.8 L1453.6,474.8 L1454,473.1 L1459.2,473.1 L1459.6,473.3 L1460.8,477.3 L1461.2,477.9 L1463.2,477.9 L1464.4,552.9 L1466.4,552.9 L1466.8,537.9 L1467.2,497.4 L1468.8,448.5 L1471.2,417.9 L1471.6,415.5 L1475.2,415.5 L1477.2,552.9 L1478.8,552.9 L1479.6,481.8 L1481.6,461.7 L1485.2,461.7 L1486,501.3 L1486.4,503.5 L1487.6,459.5 L1488.4,456.5 L1488.8,456 L1491.6,456 L1492,452 L1492.8,418.4 L1493.2,414.9 L1494,413.1 L1496.8,413.1 L1497.2,414.7 L1498,437.1 L1499.2,406.1 L1502.4,398.1 L1506,398.1 L1507.2,435.5 L1508,375.5 L1508.4,367.1 L1509.6,362.2 L1511.6,358.8 L1515.6,358.8 L1516.8,443.5 L1518,477.5 L1520.8,373.4 L1524.8,325.5 L1528,325.5 L1529.2,311.7 L1532.8,311.7 L1534.8,364.6 L1536,358.6 L1536.4,357.6 L1539.2,357.6 L1539.6,359.9 L1540.4,383.9 L1540.8,385.2 L1542.4,380 L1548,318 L1551.2,311.6 L1555.6,265.1 L1558.4,214 L1558.8,210.5 L1562,210.5 L1562.4,211 L1564,252.4 L1564.4,254.8 L1568.4,100 L1569.2,86.2 L1572.8,86.2 L1573.6,94.5 L1574,94 L1574.8,82.6 L1577.6,82.6 L1578,68.3 L1578.4,64.8 L1582.4,64.6 L1583.2,58.2 L1583.6,57.1 L1586.8,57.1 L1587.2,58.7 L1588,80.1 L1589.2,149.5 L1590.8,284.5 L1591.2,286.1 L1592,257.1 L1597.6,165.7 L1601.6,165.5 L1602,169.1 L1602.8,199.5 L1604.4,171.2 L1608.4,171.2 L1609.6,186.2 L1611.2,186.2 L1611.6,184.1 L1612.4,174.5 L1615.6,174.5 L1616.4,303.2 L1618.8,364 L1619.2,368.4 L1621.2,369.4 L1621.6,373.6 L1623.2,404.4 L1623.6,402.8 L1624.4,393.3 L1628.4,393.3 L1629.6,447.7 L1630.4,405.7 L1630.8,401.7 L1634,401.7 L1634.4,402.7 L1636.8,422.7 L1639.6,452.9 L1642.8,454 L1644,461.7 L1645.2,486.4 L1646.8,461.2 L1651.2,461.2 L1651.6,462.3 L1652.4,467.1 L1654,467.1 L1654.4,469.6 L1656,504.5 L1656.4,504.5 L1657.2,489 L1660,489 L1660.8,507.6 L1661.2,511.4 L1664.4,513.8 L1668.8,522.6 L1671.6,552.9 L1716.4,552.9 L1716.8,505.2 L1721.2,505.2 L1722,511.2 L1724.4,511.2 L1724.8,511.8 L1725.2,517.8 L1725.6,518.3 L1726.8,518.3 L1727.2,526.6 L1727.6,552.9 L1739.2,552.9 L1739.6,511.2 L1742.8,511.2 L1743.6,510 L1750,510 L1753.2,465.1 L1753.6,462.4 L1757.6,462.4 L1759.6,437.1 L1765.2,437.1 L1765.6,437.8 L1766.4,441.5 L1767.2,468 L1768,542.6 L1768.4,552.9 L1768.4,552.9 L1768,614.4 L1767.2,614.4 L1766.4,649.2 L1763.6,649.2 L1763.2,649.7 L1762.4,656.1 L1762,656.6 L1754,656.8 L1752.4,660 L1752,660 L1750,658.3 L1731.2,656 L1697.6,662 L1696.4,667.9 L1690.4,667.6 L1688,658.3 L1678.8,659.5 L1677.2,663.1 L1674,663.1 L1671.2,656 L1666.4,656 L1666,654 L1664.4,638 L1664,636.9 L1659.6,636.9 L1654.8,633.4 L1653.2,621.4 L1649.2,621.4 L1647.6,628.6 L1641.6,628.6 L1640.4,650.5 L1637.2,650.5 L1636.8,648.1 L1635.6,623.8 L1631.2,623.8 L1630.8,624.8 L1630,629.8 L1627.6,629.5 L1626,607.1 L1620.8,607.1 L1620.4,605.1 L1619.2,573.1 L1618.8,569 L1612,569 L1610.8,585.7 L1607.2,585.7 L1606,563.1 L1557.2,566.7 L1548.8,571.3 L1548.4,573.1 L1547.6,581 L1544.4,581 L1543.2,586.9 L1539.6,586.9 L1539.2,586.4 L1538,579.7 L1524,578.6 L1523.6,583.3 L1522.4,610.3 L1522,610.7 L1518,610.5 L1516.8,607.5 L1516.4,607.1 L1511.2,607.1 L1510.8,608.2 L1509.6,616.2 L1509.2,616.7 L1504.8,616.7 L1503.6,635.7 L1500.8,635.7 L1500.4,636.3 L1499.6,642.3 L1499.2,642.9 L1496.8,642.9 L1495.6,650 L1492,650 L1490.4,658.3 L1481.2,658.3 L1480.8,657.1 L1479.6,648.8 L1473.6,649 L1470.4,653 L1469.2,663 L1468.8,664.3 L1465.2,664 L1464.4,658 L1464,657.2 L1457.2,659.5 L1456,664.1 L1455.6,664.3 L1452,664.3 L1450.8,658.3 L1448.8,658.3 L1448.4,659 L1447.6,661.9 L1444,661.8 L1442.8,659.5 L1430.8,662.1 L1427.6,666.9 L1426.8,675.9 L1426.4,677.4 L1422.8,677.4 L1421.6,668.2 L1421.2,666.7 L1418,666.4 L1416.8,663.4 L1416.4,663.1 L1404,661.9 L1403.6,662.4 L1402.4,665.4 L1397.6,665.3 L1396.8,659.3 L1396.4,658.3 L1374,656 L1373.6,655.2 L1371.6,648.2 L1370.4,635.7 L1364.4,635.7 L1363.2,648.8 L1358.8,648.8 L1358.4,646.5 L1357.2,630.5 L1356.8,629.8 L1354.4,629.8 L1353.2,616.7 L1350,616.7 L1349.6,607.1 L1347.6,607 L1346.4,600 L1342.8,599.8 L1341.6,595.2 L1338.4,595.2 L1338,594.4 L1336.8,584.5 L1334,584.5 L1332.8,602.4 L1330,604.8 L1329.2,617.8 L1328.8,620.2 L1325.6,620.2 L1325.2,619.1 L1324.4,596.1 L1324,592.9 L1321.6,592.9 L1320.4,572.3 L1320,569 L1316.8,569 L1314.4,557.7 L1314,557.1 L1292,557.1 L1290.4,569 L1269.2,569 L1266.8,576.9 L1266.4,577.5 L1263.6,578.5 L1263.2,580.1 L1262,594.1 L1261.6,595.2 L1258.8,595.2 L1258.4,595.7 L1257.2,598.7 L1253.6,600 L1252,582 L1250.4,600 L1247.6,600.2 L1246.4,609.5 L1243.2,609.5 L1242.8,609.9 L1241.6,617.9 L1233.2,620.6 L1232,623.8 L1227.6,624.1 L1226.8,635.1 L1226.4,636.9 L1223.6,636.9 L1223.2,552.9Z" fill="#f8c98d"/>
<rect x="702.4" y="535" width="6" height="17.9" fill="#fff"/>
<rect x="722.6" y="530.2" width="4.8" height="22.7" fill="#fff"/>
<rect x="751.9" y="505.2" width="3.3" height="47.7" fill="#fff"/>
<rect x="1013.8" y="529" width="7.6" height="23.9" fill="#fff"/>
<rect x="1032.1" y="542.1" width="9.5" height="10.8" fill="#fff"/>
<rect x="1285.2" y="525.5" width="5.2" height="27.5" fill="#fff"/>
<rect x="1296.7" y="523.1" width="4.8" height="29.8" fill="#fff"/>
<rect x="1305.2" y="530.2" width="5.7" height="22.7" fill="#fff"/>
<rect x="1573.8" y="525.5" width="11.9" height="27.5" fill="#fff"/>
<rect x="1595.2" y="529" width="7.1" height="23.9" fill="#fff"/>
<rect x="1611.9" y="537.4" width="2.9" height="15.6" fill="#fff"/>
<path d="M196.4,470.7 L197.1,466.2 L198,459.9 L198.8,455.2 L199.4,453.1 L199.8,452.6 L200.5,454 L201.3,458.1 L202.4,464.1 L203.6,470.7 L205.1,477.7 L206.7,485.2 L208.3,492.1 L209.7,498.2 L211,503.8 L212.4,508.8 L214.2,513.3 L216.1,517.3 L217.9,520.7 L219.2,523.4 L220.3,525.7 L221.4,527.9 L222.7,530.5 L223.9,533.1 L224.8,535" fill="none" stroke="#c07a5e" stroke-width="5" stroke-linejoin="round" stroke-linecap="round"/>
<path d="M232.1,539.8 L232.8,541.7 L233.6,544.3 L234.5,546.9 L235.3,549.4 L236,551.7 L236.9,552.9 L238,551.6 L239.2,549.1 L240.5,547.6 L242,547.9 L243.7,549.1 L245.2,551.2 L246.6,554.2 L247.8,558 L248.8,561.9 L249.6,566.6 L250.4,571.4 L251.2,573.8 L252.3,571.7 L253.5,567.2 L254.8,564.3 L256,564.8 L257.1,566.9 L258.3,569 L259.6,570.5 L260.8,571.9 L261.9,573.8 L262.7,576.5 L263.3,579.8 L263.8,583.3 L264.4,587.3 L264.9,591.5 L265.5,595.2 L266.2,598.4 L266.9,601.1 L267.9,602.4 L268.9,601.6 L270.1,599.5 L271.4,597.6 L273,596.4 L274.6,595.5 L276.2,595.2 L277.5,596.3 L278.6,597.9 L279.8,598.8 L281,597.9 L282.1,596.3 L283.3,595.2 L284.5,595.4 L285.7,596.3 L286.9,597.6 L288.1,599.6 L289.2,602 L290.5,604.8 L292,607.8 L293.6,611 L295.2,614.3 L296.9,617.6 L298.5,621 L300,623.8 L301.3,625.6 L302.4,626.8 L303.6,628.6 L304.7,631.9 L305.9,635.8 L307.1,638.1 L308.7,638 L310.4,636.3 L311.9,633.3 L312.8,628 L313.5,621.4 L314.3,616.7 L315.4,615 L316.6,615.2 L317.9,616.7 L319,619.7 L320.2,624 L321.4,628.6 L322.5,633.8 L323.6,639.2 L325,642.9 L326.7,643.2 L328.6,641.7 L331,640.5 L333.8,640.3 L337,640.4 L340.5,640.5 L344.4,640.5 L348.7,640.5 L352.4,641 L355.1,642.2 L357.2,643.8 L359.5,645.2 L362.5,646.3 L365.7,647.1 L367.9,647.6" fill="none" stroke="#c07a5e" stroke-width="5" stroke-linejoin="round" stroke-linecap="round"/>
<path d="M388.1,557.1 L391.4,555.9 L396.1,554 L400,551.7 L402.1,548.7 L403.4,545.3 L404.8,542.1 L406.3,540 L407.9,538.2 L409.5,535 L411.2,529.3 L412.8,522.2 L414.3,516 L415.6,511.1 L416.7,507 L417.9,504 L419.1,502.6 L420.3,502.3 L421.4,502.9 L422.3,504.9 L423,507.7 L423.8,508.8 L424.8,506.9 L426,503.2 L427.4,499.3 L429.1,495.7 L431.2,491.8 L433.3,487.4 L435.6,481.7 L438.1,475.6 L440.5,470.7 L442.9,468.4 L445.2,467.5 L447.6,466 L450.1,463 L452.6,459.5 L454.8,456.4 L456.5,454 L458,452 L459.5,450.5 L461.2,449.4 L462.8,448.9 L464.3,449.3 L465.6,451.4 L466.7,454.5 L467.9,456.4 L469,456.2 L470.1,454.7 L471.4,452.9 L473,450.7 L474.6,448.1 L476.2,445.7 L477.5,443.6 L478.6,441.8 L479.8,441 L480.9,441.7 L482.1,443.3 L483.3,444.5 L484.9,444.4 L486.6,443.8 L488.1,444 L489.5,445.4 L490.7,447.6 L491.7,450.5 L492.2,454.4 L492.5,459 L492.9,463.6 L493.5,467.9 L494.2,472.2 L495.2,475.5 L496.6,477.4 L498.3,478.3 L500,479 L501.6,479.5 L503.2,479.7 L504.8,480.2 L506.4,481.4 L508,482.9 L509.5,485 L510.8,487.6 L512,490.8 L513.1,494.5 L513.9,499.2 L514.6,504.4 L515.5,508.8 L516.5,511.8 L517.6,514 L519,516 L520.9,517.5 L523.1,518.9 L525,520.7 L526.3,523.1 L527.4,526 L528.6,530.2 L530.1,537 L531.8,545.1 L533.3,551.7 L534.6,555.1 L535.8,557.1 L536.9,559.5 L538.1,563.2 L539.2,567.3 L540.5,571.4 L542,575.4 L543.6,579.4 L545.2,583.3 L547,587.6 L548.8,591.8 L550,595.2 L550.2,597.1 L549.8,598.1 L550,600 L551.2,604.3 L553,609.4 L554.8,611.9 L556.3,609.1 L557.9,603.6 L559.5,600 L561.1,600.3 L562.7,602.4 L564.3,604.8 L565.9,607.4 L567.5,610.2 L569,611.9 L570.5,611.2 L572,609.4 L573.8,608.3 L576.1,608.9 L578.7,610.2 L581,611.9 L582.7,614 L584.2,616.5 L585.7,619 L587.3,621.3 L588.9,623.6 L590.5,626.2 L592.2,629.3 L593.8,632.6 L595.2,635.7 L596,638.6 L596.6,641.3 L597.6,642.9 L599.6,642.6 L602.2,641.3 L604.8,640.5 L607.1,641.1 L609.5,642.2 L611.9,642.9 L614.3,642.5 L616.7,641.6 L619,640.5 L621.6,639.9 L624.1,639.2 L626.2,635.7 L627.6,627.5 L628.7,616.7 L629.8,607.1 L631,600.2 L632.1,594.6 L633.3,590.5 L634.6,587.6 L635.8,586.2 L636.9,586.9 L637.8,590.6 L638.5,596.4 L639.3,602.4 L640.1,608.6 L640.9,615 L641.7,619 L642.4,619.6 L643.2,617.7 L644,614.3 L645.2,608.9 L646.5,601.9 L647.6,595.2 L648.5,589.4 L649.2,583.9 L650,578.6 L651.1,573.7 L652.4,569.1 L653.6,564.3 L654.5,558.3 L655.2,552.1 L656,547.6 L656.7,546.3 L657.5,546.7 L658.3,546.9 L659.4,546.1 L660.7,545 L661.9,544.5 L663.1,544.9 L664.3,545.8 L665.5,546.9 L666.7,548.5 L667.9,550.3 L669,550.5 L670.2,547.9 L671.4,543.7 L672.6,539.8 L673.8,536.6 L675,533.7 L676.2,531.4 L677.4,530.3 L678.6,529.9 L679.8,529 L681,527.4 L682.1,525.3 L683.3,523.1 L684.5,520.7 L685.7,518.2 L686.9,516 L688.1,514.1 L689.3,512.5 L690.5,511.2 L691.7,510.5 L692.9,510 L694,508.8 L695.2,506.4 L696.4,503.3 L697.6,499.3 L698.8,494.1 L700,488.1 L701.2,482.6 L702.4,478 L703.6,474 L704.8,470.7 L706,468.4 L707.1,466.8 L708.3,466 L709.6,465.5 L710.8,465.6 L711.9,467.1 L712.8,471 L713.5,476.2 L714.3,480.2 L715,482 L715.8,482.6 L716.7,482.6 L717.8,482.7 L719,482.3 L720.2,480.2 L721.4,475.4 L722.6,469 L723.8,463.6 L725,460.2 L726.1,457.9 L727.4,456.4 L728.9,456 L730.5,456.3 L732.1,456.4 L733.8,456 L735.4,455.3 L736.9,454 L738.2,451.8 L739.3,449 L740.5,446.9 L741.7,445.7 L742.9,445.2 L744,445.7 L745.2,448.4 L746.4,452.2 L747.6,454 L748.8,452 L750,448 L751.2,444.5 L752.4,442.4 L753.6,440.7 L754.8,439.8 L756,439 L757.3,438.9 L758.3,441 L758.8,446.9 L759,454.9 L759.5,461.2 L760.8,464 L762.6,465.1 L764.3,466 L765.9,466.8 L767.5,467.5 L769,468.3 L770.4,469.5 L771.6,470.9 L772.6,473.1 L773.5,476.8 L774.2,481.4 L775,485 L776,487.1 L777.2,488.2 L778.6,488.6 L780.4,487.7 L782.5,486.1 L784.5,485 L786.2,484.8 L787.8,485.1 L789.3,486.2 L790.5,488.5 L791.6,491.6 L792.9,494.5 L794.4,496.9 L796.2,499.2 L797.6,501.7 L798.6,504.8 L799.3,508.3 L800,511.2 L800.7,513.1 L801.5,514.5 L802.4,516 L803.5,517.5 L804.7,519.1 L806,520.7 L807.2,522.1 L808.4,523.5 L809.5,525.5 L810.4,528.2 L811.2,531.5 L811.9,535 L812.6,539.4 L813.3,544 L814.3,546.9 L815.7,546.1 L817.4,543.6 L819,542.9 L820.7,545.8 L822.3,550.6 L823.8,554.8 L825.1,557.4 L826.2,559.5 L827.4,561.9 L828.6,564.8 L829.8,568 L831,571.4 L832.2,575 L833.4,578.7 L834.5,583.3 L835.4,589.3 L836.2,596.1 L836.9,602.4 L837.7,607.8 L838.4,612.6 L839.3,616.7 L840.3,619.9 L841.5,622.4 L842.9,623.8 L844.4,623.5 L846.1,622.2 L847.6,621.4 L848.9,621.5 L850.1,622.1 L851.2,623.8 L852.1,627.8 L852.8,632.8 L853.6,635.7 L854.4,634.7 L855.2,631.7 L856,628.6 L856.7,625.8 L857.5,623.1 L858.3,621.4 L859.4,621.5 L860.6,622.6 L861.9,623.8 L863.3,624.9 L864.9,626.1 L866.7,627.4 L868.8,628.6 L871.2,629.9 L873.8,631 L876.9,631.8 L880.2,632.5 L883.3,633.3 L885.9,634.5 L888.2,635.8 L890.5,636.9 L892.9,637.3 L895.4,637.5 L897.6,638.1 L899.3,639.6 L900.7,641.5 L902.4,642.9 L904.6,643.3 L907.1,643.2 L909.5,642.9 L911.8,642.1 L914.1,641 L916.7,640.5 L919.7,640.9 L922.9,641.9 L926.2,642.9 L929.5,643.7 L932.7,644.5 L935.7,645.2 L938.4,647.7 L940.9,650 L942.9,646.4 L944,632.2 L944.7,612.2 L945.2,595.2 L945.6,584.5 L945.9,576.8 L946.4,571.4 L947.4,569.3 L948.7,569.6 L950,569 L951.2,566.3 L952.4,562.7 L953.6,559.5 L954.7,557.3 L955.9,555.5 L957.1,553.6 L958.6,551.4 L960.1,549.2 L961.9,546.9 L964.2,544.6 L966.8,542.2 L969,539.8 L970.9,537 L972.4,534.3 L973.8,532.6 L975.1,533 L976.2,534.4 L977.4,535 L978.6,534.2 L979.8,532.6 L981,530.2 L982.1,526.9 L983.3,522.7 L984.5,518.3 L985.7,513.7 L986.9,508.7 L988.1,504 L989.2,499.5 L990.4,495.2 L991.7,492.1 L993.2,491.2 L994.9,491.5 L996.4,491 L997.7,488.7 L998.9,485.7 L1000,482.6 L1001.1,479.7 L1002.3,476.7 L1003.6,474.3 L1005.1,472.9 L1006.7,472 L1008.3,470.7 L1010,468.5 L1011.6,465.9 L1013.1,463.6 L1014.4,461.9 L1015.5,460.6 L1016.7,458.8 L1017.9,456.1 L1019,452.9 L1020.2,450.5 L1021.4,448.9 L1022.6,448 L1023.8,448.1 L1025,450.1 L1026.2,453.1 L1027.4,455.2 L1028.6,455.2 L1029.8,454.3 L1031,454 L1032.1,455.5 L1033.2,457.6 L1034.5,458.8 L1036,458.1 L1037.6,456.6 L1039.3,455.2 L1041.3,454.3 L1043.5,453.6 L1045.2,454 L1046.3,456.5 L1046.9,460.2 L1047.6,463.6 L1048.7,466.3 L1049.9,468.8 L1051.2,470.7 L1052.7,472 L1054.3,472.7 L1056,473.1 L1057.5,472.8 L1059.1,472.2 L1060.7,471.9 L1062.3,472.2 L1064,472.9 L1065.5,474.3 L1066.8,476.5 L1068,479.4 L1069,482.6 L1069.9,485.9 L1070.7,489.5 L1071.4,493.3 L1072.2,497.7 L1072.9,502.2 L1073.8,506.4 L1074.9,510 L1076.1,513.1 L1077.4,516 L1078.6,518.7 L1079.8,521.2 L1081,523.1 L1082.1,524 L1083.3,524.3 L1084.5,525.5 L1085.8,528 L1087,531.4 L1088.1,535 L1089,538.6 L1089.7,542.4 L1090.5,546.9 L1091.3,552.2 L1092.1,558.2 L1092.9,564.3 L1093.7,570.5 L1094.4,576.9 L1095.2,583.3 L1096,591.1 L1096.7,598.9 L1097.6,602.4 L1098.7,597.7 L1100,588.8 L1101.2,583.3 L1102.4,584.9 L1103.6,589.9 L1104.8,595.2 L1106,599.9 L1107.1,604.9 L1108.3,609.5 L1109.5,614.4 L1110.7,619 L1111.9,621.4 L1113.1,620.6 L1114.3,617.7 L1115.5,614.3 L1116.7,610.1 L1117.9,605.5 L1119,602.4 L1120.2,601.7 L1121.4,602.6 L1122.6,604.8 L1123.8,609.3 L1125,615.1 L1126.2,619 L1127.4,619.7 L1128.7,618.4 L1129.8,616.7 L1130.6,614.1 L1131.3,611 L1132.1,609.5 L1133.2,610.9 L1134.4,613.9 L1135.7,616.7 L1137.1,618.4 L1138.7,619.9 L1140.5,621.4 L1142.7,622.9 L1145.1,624.4 L1147.6,626.2 L1150,628.5 L1152.4,631.1 L1154.8,633.3 L1157.1,634.9 L1159.5,636 L1161.9,636.9 L1164.3,637.5 L1166.7,637.8 L1169,638.1 L1171.6,638.8 L1174.1,639.4 L1176.2,639.3 L1177.7,638.1 L1178.8,636.2 L1179.8,633.3 L1180.6,629.1 L1181.3,623.9 L1182.1,619 L1183.2,614.9 L1184.4,611 L1185.7,607.1 L1187.2,603 L1188.8,598.9 L1190.5,595.2 L1192.1,592.3 L1193.7,589.9 L1195.2,588.1 L1196.8,586.9 L1198.3,586.3 L1200,585.7 L1202.1,584.8 L1204.4,584 L1206,583.3" fill="none" stroke="#c07a5e" stroke-width="5" stroke-linejoin="round" stroke-linecap="round"/>
<path d="M1223.8,596.4 L1224.7,592.5 L1226.1,586.9 L1227.4,581 L1228.5,574.5 L1229.7,567.6 L1231,561.9 L1232.5,558.3 L1234.2,555.8 L1235.7,552.9 L1237,548.5 L1238.1,543.7 L1239.3,539.8 L1240.4,537.5 L1241.6,536.1 L1242.9,535 L1244.4,534.4 L1246,534 L1247.6,532.6 L1249.2,529.2 L1250.8,524.7 L1252.4,520.7 L1254,517.9 L1255.6,515.6 L1257.1,513.6 L1258.7,511.9 L1260.3,510.5 L1261.9,508.8 L1263.5,506.9 L1265.1,504.7 L1266.7,501.7 L1268.3,497.3 L1269.9,492.2 L1271.4,487.4 L1272.7,483.1 L1273.8,479 L1275,475.5 L1276.5,472.7 L1278.1,470.4 L1279.8,468.3 L1281.3,466.7 L1282.9,465.2 L1284.5,463.6 L1286.1,461.3 L1287.7,458.7 L1289.3,456.4 L1290.9,454.5 L1292.5,452.9 L1294,451.7 L1295.7,451.1 L1297.3,451 L1298.8,450.5 L1300.1,448.8 L1301.2,446.7 L1302.4,445.7 L1303.6,446.7 L1304.8,448.8 L1306,450.5 L1307.1,451.4 L1308.3,451.8 L1309.5,451.7 L1310.7,450.1 L1311.9,447.8 L1313.1,446.9 L1314.2,448.4 L1315.4,451.2 L1316.7,454 L1318.2,456.6 L1319.8,459.3 L1321.4,461.2 L1323,461.9 L1324.6,461.9 L1326.2,462.4 L1327.8,463.8 L1329.4,465.7 L1331,468.3 L1332.6,471.9 L1334.2,476 L1335.7,480.2 L1337,484.5 L1338.1,488.7 L1339.3,492.1 L1340.3,494.3 L1341.4,495.8 L1342.9,496.9 L1345.2,498.2 L1348,499.2 L1350,499.3 L1350.4,497.7 L1349.9,495.2 L1350,493.3 L1351.3,492.6 L1353.1,492.5 L1354.8,493.3 L1356.1,495.2 L1357.3,498 L1358.3,501.7 L1359.2,506.6 L1360,512.5 L1360.7,518.3 L1361.5,524.2 L1362.3,530 L1363.1,535 L1363.9,539.3 L1364.7,542.8 L1365.5,544.5 L1366.2,543.1 L1367,539.8 L1367.9,538.1 L1369,539.1 L1370.3,541.6 L1371.4,545.2 L1372.3,549.9 L1373.1,555.6 L1373.8,561.9 L1374.6,568.7 L1375.4,576 L1376.2,583.3 L1377,590.8 L1377.8,598.3 L1378.6,604.8 L1379.3,609.9 L1380.1,613.9 L1381,616.7 L1382.1,617.2 L1383.3,616.4 L1384.5,616.7 L1385.7,619 L1386.9,622.5 L1388.1,626.2 L1389.3,630.8 L1390.5,635.6 L1391.7,638.1 L1392.9,636.3 L1394,632.2 L1395.2,628.6 L1396.4,625.8 L1397.6,623.6 L1398.8,623.8 L1400,628.7 L1401.2,635.9 L1402.4,640.5 L1403.6,640.1 L1404.8,637.1 L1406,633.3 L1407.1,628.8 L1408.2,623.5 L1409.5,619 L1411,615.8 L1412.7,613.3 L1414.3,611.9 L1415.9,611.9 L1417.5,613 L1419,614.3 L1420.6,615.8 L1422.2,617.5 L1423.8,619 L1425.4,619.8 L1427,620.4 L1428.6,621.4 L1430.2,623.2 L1431.7,625.5 L1433.3,628.6 L1435,633.2 L1436.6,638.5 L1438.1,642.9 L1439.4,646 L1440.5,648.1 L1441.7,647.6 L1442.9,642.9 L1444,635.6 L1445.2,628.6 L1446.4,622.6 L1447.6,616.8 L1448.8,611.9 L1450,607.9 L1451.1,604.8 L1452.4,602.4 L1453.9,601.1 L1455.5,600.5 L1457.1,600 L1458.8,598.9 L1460.5,597.7 L1461.9,597.6 L1462.9,599.1 L1463.6,601.7 L1464.3,604.8 L1465,609.3 L1465.8,614.3 L1466.7,616.7 L1467.8,615 L1469,610.7 L1470.2,604.8 L1471.5,595.7 L1472.7,585 L1473.8,578.6 L1474.6,579.5 L1475.4,584.7 L1476.2,590.5 L1477.3,596.6 L1478.5,603.4 L1479.8,607.1 L1481,605.3 L1482.1,600.5 L1483.3,597.6 L1484.5,598.5 L1485.7,601.2 L1486.9,604.8 L1488.1,610.2 L1489.4,616.5 L1490.5,619 L1491.4,615.5 L1492.1,608.3 L1492.9,600 L1493.6,590.2 L1494.4,579.4 L1495.2,571.4 L1496.3,568.5 L1497.6,568.5 L1498.8,569 L1500,569.8 L1501.2,571 L1502.4,571.4 L1503.6,570.7 L1504.8,569.2 L1506,566.7 L1507.1,562.5 L1508.2,557.2 L1509.5,552.4 L1511.1,548.4 L1512.7,544.8 L1514.3,542.1 L1515.6,540.9 L1516.7,540.4 L1517.9,539.8 L1519,538.8 L1520.2,537.6 L1521.4,535 L1522.6,530.1 L1523.8,524 L1525,518.3 L1526.2,513.7 L1527.4,509.6 L1528.6,506.4 L1529.7,504.5 L1530.8,503.5 L1532.1,502.9 L1534,502.4 L1536.2,502.3 L1538.1,502.9 L1539.5,504.5 L1540.6,506.9 L1541.7,508.8 L1542.9,510.3 L1544,511.4 L1545.2,511.2 L1546.4,509.1 L1547.6,505.6 L1548.8,501.7 L1550,497.1 L1551.2,492 L1552.4,487.4 L1553.5,483.8 L1554.7,480.7 L1556,477.9 L1557.5,475.2 L1559.1,472.7 L1560.7,470.7 L1562.3,469.3 L1563.9,468.2 L1565.5,467.1 L1567.1,466 L1568.7,464.9 L1570.2,463.6 L1571.8,461.8 L1573.4,459.7 L1575,457.6 L1576.6,455.6 L1578.2,453.6 L1579.8,451.7 L1581.4,449.9 L1583,448.4 L1584.5,446.9 L1585.9,444.8 L1587.1,442.9 L1588.1,443.3 L1588.6,448.4 L1588.8,455.8 L1589.3,461.2 L1590.3,462.7 L1591.6,462.2 L1592.9,461.2 L1594,460 L1595.1,458.2 L1596.4,456.4 L1598.1,454.7 L1599.9,452.9 L1601.2,451.7" fill="none" stroke="#c07a5e" stroke-width="5" stroke-linejoin="round" stroke-linecap="round"/>
<path d="M1606,469.5 L1607.5,469.8 L1609.8,470.2 L1611.9,470.7 L1613.7,471 L1615.3,471.4 L1616.7,473.1 L1617.6,477.1 L1618.3,482.4 L1619,487.4 L1620.1,491.5 L1621.4,495.4 L1622.6,499.3 L1623.8,503 L1625,506.7 L1626.2,511.2 L1627.4,517.5 L1628.6,524.5 L1629.8,530.2 L1630.9,533.7 L1632.1,535.8 L1633.3,537.4 L1634.9,538.1 L1636.6,538.4 L1638.1,539.8 L1639,543.6 L1639.6,548.6 L1640.5,552.9 L1641.9,555.9 L1643.6,558.2 L1645.2,559.5 L1646.8,559 L1648.3,557.4 L1650,557.1 L1651.9,559.7 L1653.9,563.6 L1656,566.7 L1658,568.3 L1660,569.2 L1661.9,569 L1663.6,566.5 L1665.2,562.9 L1666.7,561.9 L1667.9,565.8 L1669.1,572.3 L1670.2,578.6 L1671.4,583.8 L1672.5,588.7 L1673.8,592.9 L1675.4,594.5 L1677,595.4 L1678.6,600 L1679.9,613.3 L1681,630.3 L1682.1,640.5 L1683.3,637.5 L1684.5,627.7 L1685.7,619 L1686.9,614.1 L1688,610.3 L1689.3,608.3 L1690.8,609 L1692.5,611.6 L1694,614.3 L1695.3,616.6 L1696.4,619 L1697.6,621.4 L1699,624 L1700.6,626.5 L1702.4,628.6 L1704.6,629.7 L1707.1,630.3 L1709.5,631 L1711.7,631.3 L1713.7,631.7 L1715.5,633.3 L1716.9,639.7 L1718,647.4 L1719,647.6 L1719.9,632.7 L1720.7,610.4 L1721.4,595.2 L1722.2,593.9 L1722.9,599.7 L1723.8,607.1 L1724.9,615.6 L1726.1,625.7 L1727.4,633.3 L1728.4,636.6 L1729.5,637.6 L1731,638.1 L1733.1,638.9 L1735.6,639.4 L1738.1,639.3 L1740.6,639.1 L1743,638.4 L1745.2,635.7 L1747.2,629.2 L1748.8,620.8 L1750,614.3 L1750.3,611.9 L1750.1,611.5 L1750.4,610.8 L1751.7,608.8 L1753.3,606.5 L1755,604.4 L1756.6,602.7 L1758.1,601.3 L1759.6,599.8 L1760.9,598.1 L1762.1,596.3 L1763.3,594.3 L1764.6,591.7 L1766,588.9 L1766.9,587" fill="none" stroke="#c07a5e" stroke-width="5" stroke-linejoin="round" stroke-linecap="round"/>
<path d="M197.6,473.1 L198.5,473.4 L199.9,474.1 L201.2,475.5 L202.4,478.3 L203.6,482 L204.8,485 L205.9,486.9 L207.1,488.1 L208.3,488.6 L209.7,487.4 L211.1,485.5 L212.4,485 L213.5,487.3 L214.4,491.1 L215.5,494.5 L216.6,496.8 L217.8,498.7 L219,500.5 L220.3,502.3 L221.5,504 L222.6,505.2 L223.5,505.6 L224.3,505.4 L224.8,505.2" fill="none" stroke="#ff0000" stroke-width="5.8" stroke-linejoin="round" stroke-linecap="round"/>
<path d="M233.3,512.4 L233.9,513.1 L234.7,514.2 L235.7,516 L237.1,518.7 L238.8,522.1 L240.5,525.5 L242.1,528.7 L243.7,531.8 L245.2,535 L246.6,538.9 L247.8,542.7 L248.8,544.5 L249.3,542.4 L249.4,538.1 L250,535.7 L251.3,537 L253,540.1 L254.8,542.9 L256.7,544.7 L258.9,546.2 L260.7,547.6 L262.1,548.7 L263.3,549.7 L264.3,551.2 L265.2,553.7 L265.9,556.7 L266.7,559.5 L267.4,561.8 L268.1,563.8 L269,565.5 L270.4,566.9 L272,568 L273.8,569 L275.7,569.9 L277.7,570.6 L279.8,571.4 L281.8,572.6 L283.8,573.9 L285.7,575 L287.4,575.8 L289,576.5 L290.5,577.4 L291.8,578.7 L292.9,580.4 L294,582.1 L295.2,583.9 L296.4,585.8 L297.6,588.1 L298.8,591 L300,594.3 L301.2,597.6 L302.3,601.1 L303.5,604.5 L304.8,607.1 L306.3,608.8 L307.9,609.7 L309.5,609.5 L311.2,607.7 L312.8,604.8 L314.3,602.4 L315.4,601.1 L316.4,600.4 L317.9,600 L320.5,599.3 L323.8,598.9 L326.2,600 L327,604.1 L327.1,609.8 L327.4,614.3 L328.2,616.3 L329.2,617.1 L331,617.9 L333.7,619 L337.1,620.2 L340.5,621.4 L343.7,622.6 L347,623.8 L350,625 L352.6,626.1 L354.9,627.3 L357.1,628.6 L359.7,630.2 L362.2,631.9 L364.3,633.3 L365.7,634.4 L366.6,635.2 L367.1,635.7" fill="none" stroke="#ff0000" stroke-width="5.8" stroke-linejoin="round" stroke-linecap="round"/>
<path d="M388.1,582.1 L389.3,582.2 L391.1,582.3 L392.9,582.1 L394.4,581.7 L396,581.1 L397.6,579.8 L399.1,577.6 L400.6,574.9 L402.4,571.4 L404.7,567.1 L407.2,562.2 L409.5,557.1 L411.3,552 L412.8,546.8 L414.3,542.1 L415.8,538.3 L417.3,535 L419,532.6 L421.4,532 L424,532.2 L426.2,531.4 L427.6,528.5 L428.6,524.6 L429.8,520.7 L431.3,517.5 L432.9,514.3 L434.5,511.2 L436.1,508 L437.7,504.8 L439.3,501.7 L440.8,498.4 L442.4,495.1 L444,492.1 L445.9,489.6 L448,487.3 L450,485 L452,482.6 L454,480.2 L456,477.9 L457.9,475.2 L459.9,472.6 L461.9,470.7 L463.9,470.3 L465.9,470.7 L467.9,470.7 L469.8,469.8 L471.8,468.6 L473.8,467.1 L475.8,465.5 L477.8,463.7 L479.8,462.4 L481.7,461.7 L483.7,461.4 L485.7,461.2 L487.8,460.6 L489.9,460.1 L491.7,461.2 L492.7,465.2 L493.4,470.9 L494,475.5 L494.7,477.9 L495.4,479.2 L496.4,480.2 L498.2,481.2 L500.4,481.9 L502.4,482.6 L504,483.4 L505.5,484.2 L507.1,485 L509.1,485.5 L511.2,486.1 L513.1,487.4 L514.4,490.2 L515.5,493.8 L516.7,496.9 L518.1,498.6 L519.6,499.7 L521.4,501.7 L523.7,505.1 L526.3,509.3 L528.6,513.6 L530.4,517 L532,520.4 L533.3,525.5 L534.3,533.6 L535,543.2 L535.7,551.7 L536.4,557.6 L537.1,562.3 L538.1,566.7 L539.4,571.7 L541,576.5 L542.9,578.6 L545.2,575.4 L547.9,569.6 L550,566.7 L551.1,569.7 L551.7,575.7 L552.4,581 L553.4,584.6 L554.6,587.6 L556,589.3 L557.5,588.7 L559.2,586.7 L560.7,585.7 L561.9,586.7 L563.1,588.7 L564.3,590.5 L565.8,591.8 L567.4,593 L569,594 L570.5,594.9 L572,595.6 L573.8,596.4 L576.1,597.5 L578.7,598.7 L581,600 L582.7,601.5 L584.2,603 L585.7,604.8 L587.3,606.7 L588.9,608.7 L590.5,610.7 L592.1,612.6 L593.7,614.4 L595.2,616.7 L596.7,619.8 L598.2,623.3 L600,626.2 L602.2,627.9 L604.7,628.9 L607.1,629.8 L609.5,630.7 L611.9,631.5 L614.3,632.1 L616.8,632.8 L619.2,633.2 L621.4,633.3 L623.2,633.4 L624.8,633.1 L626.2,631 L627.5,625.4 L628.6,618 L629.8,611.9 L631,608.5 L632.1,606.3 L633.3,604.8 L634.5,603.8 L635.7,603.4 L636.9,602.4 L638.1,599.6 L639.3,596.2 L640.5,595.2 L641.7,599.3 L642.9,605.7 L644,609.5 L645.2,608.3 L646.4,604.4 L647.6,600 L648.8,595.5 L650,590.5 L651.2,585.7 L652.4,581.3 L653.6,577.2 L654.8,573.8 L656,571.3 L657.1,569.4 L658.3,567.9 L659.5,566.4 L660.6,565.3 L661.9,564.3 L663.3,563.7 L664.9,563.2 L666.7,561.9 L668.9,558.9 L671.4,555.1 L673.8,552.4 L676,552.1 L678,553 L679.8,552.9 L681.1,550.8 L682.1,547.7 L683.3,544.5 L684.8,541.3 L686.5,538 L688.1,535 L689.7,532.4 L691.3,530.1 L692.9,527.9 L694.4,525.7 L696,523.4 L697.6,520.7 L699.2,517 L700.8,512.8 L702.4,508.8 L704,505.3 L705.6,502.1 L707.1,499.3 L708.8,496.6 L710.4,494.3 L711.9,493.3 L713.2,494.5 L714.4,496.9 L715.5,499.3 L716.3,501.3 L717,503.2 L717.9,504 L718.9,503.4 L720.1,501.8 L721.4,499.3 L722.9,495.6 L724.6,491.2 L726.2,487.4 L727.8,484.9 L729.4,483 L731,481.4 L732.5,480.1 L734.1,479.1 L735.7,477.9 L737.3,476 L738.9,473.8 L740.5,471.9 L742,470.5 L743.6,469.3 L745.2,468.3 L747.2,467.5 L749.3,466.9 L751.2,466 L752.6,464.4 L753.7,462.6 L754.8,461.2 L756,460.1 L757.2,459.4 L758.3,460 L759.1,463 L759.8,467.2 L760.7,470.7 L762.1,472.5 L763.8,473.4 L765.5,474.3 L767.1,475.1 L768.7,475.8 L770.2,476.7 L771.5,477.7 L772.6,478.8 L773.8,480.2 L775.3,482.2 L776.9,484.4 L778.6,486.2 L780.5,487.2 L782.5,487.9 L784.5,488.6 L786.5,489.2 L788.5,489.9 L790.5,491 L792.6,492.5 L794.7,494.3 L796.4,496.9 L797.4,500.8 L798.1,505.3 L798.8,508.8 L799.9,510.2 L801.1,510.6 L802.4,511.2 L803.9,512.4 L805.5,513.9 L807.1,516 L808.7,518.8 L810.3,522.1 L811.9,525.5 L813.5,528.6 L815.1,531.6 L816.7,535 L818.3,539.2 L820,543.7 L821.4,546.9 L822.3,547.8 L822.9,547.4 L823.8,547.6 L825.3,549.1 L827,551.2 L828.6,553.6 L829.9,556.1 L831,559 L832.1,561.9 L833.3,564.8 L834.5,567.9 L835.7,571.4 L836.9,576 L838.1,581.1 L839.3,585.7 L840.5,589.4 L841.7,592.5 L842.9,595.2 L844,597.7 L845.1,599.7 L846.4,601.2 L848.4,601.5 L850.6,601.2 L852.4,602.4 L853.4,606.9 L853.9,612.8 L854.8,616.7 L856.2,616.4 L857.8,613.9 L859.5,611.9 L861.1,611 L862.6,610.4 L864.3,610.7 L866.1,612.3 L868,614.7 L870.2,616.7 L872.9,617.7 L875.8,618.4 L878.6,619 L881,619.8 L883.4,620.6 L885.7,621.4 L888.1,622.2 L890.5,622.9 L892.9,623.8 L895.3,624.8 L897.8,626 L900,627.4 L901.7,629.3 L903.1,631.5 L904.8,633.3 L906.9,634.5 L909.3,635.2 L911.9,635.7 L914.9,635.8 L918.2,635.7 L921.4,635.7 L924.6,636 L927.8,636.4 L931,636.9 L934.4,638.4 L937.8,640.1 L940.5,639.3 L942,634.5 L942.7,627.2 L943.3,619 L944,609.3 L944.6,598.7 L945.2,590.5 L946,586.3 L946.8,584.5 L947.6,583.3 L948.5,582.5 L949.4,582.2 L950,582.1 L950,582.4 L949.7,582.7 L950,582.1 L951.2,580 L953,577 L954.8,573.8 L956.3,570.6 L957.9,567.3 L959.5,564.3 L961,561.6 L962.5,559.2 L964.3,557.1 L966.7,555.7 L969.3,554.6 L971.4,553.6 L972.4,552.5 L972.8,551.4 L973.8,550.5 L975.9,550 L978.6,549.7 L981,548.1 L982.7,544.6 L984.2,539.9 L985.7,535 L987.3,530.1 L988.9,525.2 L990.5,520.7 L992,517.1 L993.6,514 L995.2,511.2 L997.1,508.7 L999.2,506.5 L1001.2,504 L1003.2,500.9 L1005.2,497.5 L1007.1,494.5 L1008.8,492.4 L1010.3,490.6 L1011.9,488.6 L1013.8,485.9 L1015.9,482.9 L1017.9,480.2 L1019.6,477.9 L1021.2,475.9 L1022.6,474.3 L1023.8,473.1 L1024.9,472.4 L1026.2,471.9 L1028,471.8 L1030.1,471.9 L1032.1,471.9 L1034.1,471.7 L1036.1,471.4 L1038.1,471.2 L1040.2,471 L1042.2,470.8 L1044,470.7 L1045.5,470.6 L1046.6,470.6 L1047.6,471.2 L1048.4,473 L1049,475.4 L1050,477.4 L1051.7,478.3 L1053.8,478.7 L1056,479 L1057.9,479.5 L1059.9,480 L1061.9,480.7 L1064,481.9 L1066,483.4 L1067.9,485 L1069.2,486.4 L1070.3,487.8 L1071.4,489.8 L1072.6,492.6 L1073.7,496 L1075,499.3 L1076.5,502.2 L1078.2,505.1 L1079.8,507.6 L1081,509.6 L1082.2,511.4 L1083.3,513.6 L1084.6,516.4 L1085.8,519.6 L1086.9,523.1 L1087.8,527 L1088.6,531.1 L1089.3,535 L1089.7,538.3 L1090,541.4 L1090.5,544.5 L1091.1,547.8 L1091.9,551.2 L1092.9,554.8 L1094,558.9 L1095.2,563.2 L1096.4,566.7 L1097.6,569 L1098.8,570.5 L1100,571.4 L1101.2,571 L1102.4,570 L1103.6,570.2 L1104.7,573 L1105.9,577 L1107.1,581 L1108.7,584.3 L1110.4,587.5 L1111.9,590.5 L1113.2,593.5 L1114.3,596.3 L1115.5,597.6 L1116.7,596.4 L1117.9,593.8 L1119,591.7 L1120.2,590.7 L1121.4,590.3 L1122.6,590.5 L1123.8,591.6 L1124.9,593.4 L1126.2,595.2 L1127.6,596.9 L1129.1,598.6 L1131,600 L1133.2,600.9 L1135.6,601.5 L1138.1,602.4 L1140.5,603.8 L1142.9,605.5 L1145.2,607.1 L1147.6,608.6 L1150,610.1 L1152.4,611.9 L1154.8,614.2 L1157.1,616.8 L1159.5,619 L1161.9,620.9 L1164.3,622.4 L1166.7,623.8 L1169.1,625.2 L1171.6,626.4 L1173.8,627.4 L1175.6,628.4 L1177.2,629.1 L1178.6,628.6 L1179.9,626.3 L1181,622.8 L1182.1,619 L1183.3,615.1 L1184.4,610.8 L1185.7,607.1 L1187.2,604.4 L1188.8,602.2 L1190.5,600 L1192.1,597.5 L1193.7,595.1 L1195.2,592.9 L1196.8,591.1 L1198.3,589.6 L1200,588.1 L1202.1,586.3 L1204.4,584.6 L1206,583.3" fill="none" stroke="#ff0000" stroke-width="5.8" stroke-linejoin="round" stroke-linecap="round"/>
<path d="M1223.8,592.9 L1225,589.2 L1226.8,583.9 L1228.6,578.6 L1230.2,573.6 L1231.7,568.7 L1233.3,564.3 L1234.7,560.5 L1236.2,557.2 L1238.1,554.8 L1241.1,553.9 L1244.6,553.9 L1247.6,552.9 L1249.6,549.8 L1251,545.8 L1252.4,542.1 L1254,539.4 L1255.6,537.1 L1257.1,535 L1258.7,533.4 L1260.2,532.1 L1261.9,530.2 L1263.8,527.4 L1265.8,524.1 L1267.9,520.7 L1269.8,517.6 L1271.8,514.5 L1273.8,511.2 L1275.8,507.3 L1277.8,503.1 L1279.8,499.3 L1281.7,496.2 L1283.7,493.6 L1285.7,491 L1287.7,488.1 L1289.7,485.3 L1291.7,482.6 L1293.7,480.1 L1295.6,477.6 L1297.6,475.5 L1299.6,473.6 L1301.6,472 L1303.6,470.7 L1305.6,469.7 L1307.5,469 L1309.5,468.3 L1311.5,467.3 L1313.5,466.3 L1315.5,466 L1317.4,466.6 L1319.4,467.9 L1321.4,469.5 L1323.8,471.4 L1326.2,473.5 L1328.6,475.5 L1330.6,477.1 L1332.6,478.6 L1334.5,480.2 L1336.5,482.2 L1338.5,484.3 L1340.5,486.2 L1342.5,487.6 L1344.6,488.8 L1346.4,489.8 L1347.9,490.3 L1349.2,490.6 L1350,491 L1350.1,491.3 L1349.8,491.7 L1350,492.1 L1351.3,492.6 L1353.1,493.2 L1354.8,494.5 L1356.1,496.7 L1357.3,499.5 L1358.3,502.9 L1359.2,507 L1360,511.7 L1360.7,516 L1361.5,519.5 L1362.3,522.6 L1363.1,525.5 L1363.8,528.4 L1364.6,531 L1365.5,532.6 L1366.6,532.3 L1367.9,530.9 L1369,530.2 L1369.9,531 L1370.7,532.6 L1371.4,535 L1372.3,538.6 L1373.1,543 L1373.8,546.9 L1374.3,549.5 L1374.6,551.6 L1375,554.8 L1375.7,559.9 L1376.5,566.1 L1377.4,571.4 L1378.4,575.1 L1379.6,578 L1381,581 L1382.5,584 L1384.2,586.9 L1385.7,590.5 L1387,595.1 L1388.1,600.4 L1389.3,604.8 L1390.4,608 L1391.6,610.5 L1392.9,611.9 L1394.4,611.6 L1396.1,610.1 L1397.6,609.5 L1398.9,610.5 L1400,612.3 L1401.2,614.3 L1402.3,617 L1403.5,620 L1404.8,621.4 L1406.3,620.1 L1408,617.1 L1409.5,614.3 L1410.7,611.9 L1411.8,609.7 L1413.1,608.3 L1414.9,608.2 L1416.9,608.8 L1419,609.5 L1421.4,610.1 L1423.9,610.9 L1426.2,611.9 L1428.3,613.2 L1430.3,614.8 L1432.1,616.7 L1433.9,618.7 L1435.4,620.9 L1436.9,623.8 L1438.2,628.5 L1439.3,633.9 L1440.5,636.9 L1441.7,635.8 L1442.9,632.4 L1444,628.6 L1445.2,624.8 L1446.3,620.6 L1447.6,616.7 L1449.1,613.1 L1450.7,609.9 L1452.4,607.1 L1454.3,605.1 L1456.3,603.6 L1458.3,602.4 L1460.4,601.2 L1462.4,600.4 L1464.3,600 L1466,600.8 L1467.6,602.1 L1469,602.4 L1470.3,600.7 L1471.5,597.9 L1472.6,595.2 L1473.8,592.6 L1475,590.2 L1476.2,589.3 L1477.3,591.3 L1478.4,594.9 L1479.8,597.6 L1481.6,598 L1483.7,597.4 L1485.7,597.6 L1487.4,600.2 L1489,603.5 L1490.5,604.8 L1491.7,601.9 L1492.8,597 L1494,592.9 L1495.5,590.7 L1497.2,589.4 L1498.8,588.1 L1500.4,586.6 L1502,585.1 L1503.6,583.3 L1505.2,581.2 L1506.8,578.8 L1508.3,576.2 L1509.6,573.3 L1510.8,570.1 L1511.9,566.7 L1512.9,562.5 L1513.8,558.1 L1515.5,554.8 L1518.4,554 L1522,554.3 L1525,552.9 L1526.6,547.9 L1527.5,541.1 L1528.6,535 L1530.1,530.2 L1531.7,526 L1533.3,523.1 L1534.9,521.8 L1536.5,521.6 L1538.1,521.9 L1539.7,522.6 L1541.3,523.7 L1542.9,524.3 L1544.4,524.2 L1546,523.5 L1547.6,521.9 L1549.2,519 L1550.8,515.2 L1552.4,511.2 L1554,507.1 L1555.6,502.9 L1557.1,499.3 L1558.6,496.5 L1560.1,494.3 L1561.9,492.1 L1564.2,490.1 L1566.7,488.2 L1569,486.2 L1571.1,483.9 L1573.1,481.6 L1575,479 L1577,476.3 L1579.1,473.4 L1581,470.7 L1582.7,468.4 L1584.3,466.3 L1585.7,464.8 L1587,463.7 L1588.2,463.2 L1589.3,463.6 L1590,465.6 L1590.7,468.6 L1591.7,470.7 L1593.4,471.1 L1595.6,470.7 L1597.6,470.2 L1599.3,469.8 L1600.9,469.4 L1602.4,469.5 L1603.6,470.8 L1604.6,472.8 L1606,474.3 L1607.8,474.9 L1609.8,475.2 L1611.9,475.5 L1614,475.6 L1616.1,475.7 L1617.9,476.7 L1618.9,478.9 L1619.5,482 L1620.2,485 L1621.3,487.8 L1622.6,490.6 L1623.8,493.3 L1625,495.7 L1626.3,498.1 L1627.4,501.7 L1628.2,507.8 L1628.9,515.2 L1629.8,520.7 L1630.9,522.9 L1632.1,523.3 L1633.3,523.1 L1634.6,522.2 L1635.8,520.8 L1636.9,520.7 L1637.7,523 L1638.4,526.6 L1639.3,530.2 L1640.4,533.4 L1641.6,536.6 L1642.9,539.8 L1644,543.2 L1645.1,546.6 L1646.4,549.3 L1647.9,550.8 L1649.5,551.6 L1651.2,552.4 L1653,553.6 L1655,554.9 L1657.1,556 L1659.5,556.1 L1661.9,556 L1664.3,557.1 L1666.4,560.4 L1668.4,564.9 L1670.2,569 L1671.9,572.2 L1673.5,575.1 L1675,578.6 L1676.6,582.6 L1678.3,587.2 L1679.8,592.9 L1681,601.6 L1682.2,611.4 L1683.3,616.7 L1684.4,613.5 L1685.5,605.8 L1686.9,600 L1688.7,598.5 L1690.8,598.9 L1692.9,600 L1694.8,601.9 L1696.8,604.7 L1698.8,607.1 L1700.7,608.9 L1702.7,610.4 L1704.8,611.9 L1707.1,613.5 L1709.7,615.1 L1711.9,616.7 L1713.8,618 L1715.3,619.3 L1716.7,621.4 L1717.6,626 L1718.3,631.4 L1719,633.3 L1720.1,628.7 L1721.3,620.5 L1722.6,614.3 L1724.2,611.7 L1725.8,611 L1727.4,611.9 L1728.6,615.1 L1729.6,619.8 L1731,623.8 L1732.8,626.1 L1734.8,627.6 L1736.9,628.6 L1738.8,629.1 L1740.8,629.1 L1742.9,628.6 L1745.3,627.6 L1747.9,626.1 L1750,623.8 L1751.3,620.3 L1752.1,616 L1753.2,612.6 L1754.9,610.9 L1756.8,610 L1758.7,608.9 L1760.3,607.2 L1761.8,605.3 L1763.3,603.4 L1764.7,601.4 L1766,599.4 L1766.9,597.9" fill="none" stroke="#ff0000" stroke-width="5.8" stroke-linejoin="round" stroke-linecap="round"/>
<path d="M197.6,482.6 L198.9,484.1 L200.6,486.3 L202.4,488.6 L204,490.8 L205.6,493.2 L207.1,495.7 L208.7,498.5 L210.3,501.4 L211.9,504 L213.5,506.3 L215.1,508.2 L216.7,510 L218.3,511.7 L219.9,513.2 L221.4,514.8 L222.8,516.5 L224,518.3 L224.8,519.5" fill="none" stroke="#ff00ff" stroke-width="5" stroke-linejoin="round" stroke-linecap="round"/>
<path d="M232.1,520.7 L234.3,522.9 L237.5,526 L240.5,529 L242.9,531.8 L245.3,534.6 L247.6,537.4 L250,540.6 L252.4,543.8 L254.8,545.7 L257.1,545.3 L259.5,543.6 L261.9,542.9 L264.3,544.2 L266.7,546.5 L269,548.8 L271.4,550.8 L273.8,552.9 L276.2,554.8 L278.6,556.5 L281,558.1 L283.3,559.5 L285.7,560.7 L288.1,561.8 L290.5,563.1 L292.9,564.8 L295.2,566.7 L297.6,569 L300,572 L302.4,575.4 L304.8,578.6 L307.1,581.7 L309.5,584.6 L311.9,586.9 L314.3,588.2 L316.7,588.8 L319,589.3 L321.5,589.6 L324,589.7 L326.2,590.5 L327.9,592.5 L329.3,595.2 L331,597.6 L333.2,599.4 L335.6,600.9 L338.1,602.4 L340.5,604.1 L342.9,605.7 L345.2,607.1 L347.6,608.1 L350,608.7 L352.4,609.5 L354.7,610.5 L357.1,611.7 L359.5,613.1 L362.3,615.1 L365.1,617.4 L367.1,619" fill="none" stroke="#ff00ff" stroke-width="5" stroke-linejoin="round" stroke-linecap="round"/>
<path d="M389.3,603.6 L391.4,600.7 L394.4,596.7 L397.6,592.9 L400.7,589.8 L403.9,586.8 L407.1,583.3 L410.3,578.9 L413.5,574 L416.7,569 L419.8,564.2 L423,559.4 L426.2,554.8 L429.4,550.4 L432.5,546.2 L435.7,542.1 L438.9,538.1 L442.1,534.2 L445.2,530.2 L448.4,526.2 L451.6,522.2 L454.8,518.3 L457.9,514.6 L461.1,511.1 L464.3,507.6 L467.5,504.3 L470.6,501.1 L473.8,498.1 L477.1,495.1 L480.3,492.1 L483.3,489.8 L486,488.1 L488.4,486.9 L490.5,486.2 L492.2,485.7 L493.6,485.7 L495.2,486.2 L497.4,487.5 L499.7,489.3 L502.4,491 L505.5,492.2 L508.8,493.3 L511.9,494.5 L514.5,495.9 L516.8,497.5 L519,499.3 L521.3,501.4 L523.6,503.8 L526.2,506.4 L529.2,509.3 L532.5,512.5 L535.7,516 L539.1,520 L542.4,524.3 L545.2,527.9 L547.4,529.8 L548.9,530.9 L550,532.6 L550.1,535.5 L549.6,539 L550,542.9 L551.9,547.4 L554.5,552.2 L557.1,556 L559.4,557.8 L561.7,558.5 L564.3,559.5 L567.3,561.3 L570.5,563.4 L573.8,565.5 L577,567.4 L580.2,569.4 L583.3,571.4 L586.5,573.6 L589.7,576 L592.9,578.6 L596,581.6 L599.2,584.8 L602.4,588.1 L605.6,591.4 L608.7,594.6 L611.9,597.6 L615.2,600.4 L618.5,602.8 L621.4,604.8 L623.7,606.1 L625.6,606.9 L627.4,607.1 L629,606.9 L630.5,606.1 L632.1,604.8 L634,602.7 L636,600.1 L638.1,597.6 L640.4,595.6 L642.8,593.8 L645.2,591.7 L647.6,589 L650,586.1 L652.4,583.3 L654.7,581 L657,578.7 L659.5,576.2 L662.5,573.2 L665.8,569.9 L669,566.7 L672.2,563.3 L675.3,559.9 L678.6,557.1 L682.1,555.6 L685.8,554.6 L689.3,552.9 L692.3,549.8 L695,546 L697.6,542.1 L700.1,538.2 L702.4,534.2 L704.8,530.2 L707.2,526.3 L709.7,522.5 L711.9,519.5 L713.6,517.8 L715,516.8 L716.7,516 L718.9,515.2 L721.3,514.7 L723.8,513.6 L726.1,511.6 L728.4,509.2 L731,506.4 L734,503.4 L737.2,500.1 L740.5,496.9 L743.7,493.9 L746.8,491 L750,488.6 L753.2,486.5 L756.3,484.8 L759.5,483.8 L762.7,483.7 L765.9,484.3 L769,485 L772.2,485.7 L775.4,486.5 L778.6,487.4 L781.7,488.1 L784.9,488.9 L788.1,489.8 L791.4,490.8 L794.6,491.9 L797.6,493.3 L800.2,495 L802.5,496.9 L804.8,499.3 L807.1,502.1 L809.5,505.3 L811.9,508.8 L814.3,512.6 L816.7,516.7 L819,520.7 L821.4,524.7 L823.8,528.7 L826.2,532.6 L828.6,536.8 L831,540.9 L833.3,544.5 L835.7,546.9 L838.1,548.8 L840.5,551.2 L842.9,554.9 L845.2,559.1 L847.6,563.1 L850,566.6 L852.4,569.8 L854.8,572.6 L857.1,574.9 L859.3,576.8 L861.9,578.6 L864.8,580.2 L868,581.6 L871.4,583.3 L875.2,585.5 L879.3,588 L883.3,590.5 L887.3,592.9 L891.3,595.2 L895.2,597.6 L899.2,600.1 L903.2,602.6 L907.1,604.8 L911.1,606.6 L915.1,608.1 L919,609.5 L923.1,610.8 L927.2,611.9 L931,613.1 L934.4,614.4 L937.7,615.7 L940.5,616.7 L942.8,617.5 L944.8,618 L946.4,616.7 L947.9,611.6 L949.2,604.6 L950,600 L950,600.6 L949.6,603.6 L950,604.8 L951.9,601.9 L954.5,597.3 L957.1,592.9 L959.4,589.6 L961.7,586.6 L964.3,583.3 L967.3,579.7 L970.5,575.8 L973.8,571.4 L977.1,565.7 L980.4,559.4 L983.3,554.8 L985.5,553.4 L987.3,553.8 L989.3,552.9 L991.8,549.4 L994.7,544.6 L997.6,539.8 L1000.7,535 L1003.9,530.2 L1007.1,525.5 L1010.3,520.9 L1013.5,516.5 L1016.7,512.4 L1019.8,508.5 L1023,505 L1026.2,501.7 L1029.4,498.6 L1032.5,495.8 L1035.7,493.3 L1038.9,491.3 L1042.1,489.8 L1045.2,488.6 L1048.4,487.8 L1051.6,487.5 L1054.8,487.4 L1057.9,487.6 L1061.1,488 L1064.3,488.6 L1067.6,489.1 L1070.9,489.9 L1073.8,491 L1076.1,492.5 L1077.9,494.5 L1079.8,496.9 L1081.8,499.7 L1083.8,502.9 L1085.7,506.4 L1087.4,510.2 L1088.9,514.3 L1090.5,518.3 L1092.1,522.3 L1093.7,526.3 L1095.2,530.2 L1096.5,535 L1097.7,539.7 L1098.8,542.1 L1099.9,540 L1101,535.5 L1102.4,533.3 L1104.2,535.8 L1106.3,540.5 L1108.3,545.2 L1110.3,549.3 L1112.2,553.4 L1114.3,557.1 L1116.6,560.3 L1119,563 L1121.4,565.5 L1123.8,567.8 L1126.2,569.8 L1128.6,571.4 L1131,572.6 L1133.3,573.3 L1135.7,574.3 L1138.1,575.6 L1140.5,577.1 L1142.9,578.6 L1145.2,580.1 L1147.6,581.6 L1150,583.3 L1152.4,585.2 L1154.8,587.3 L1157.1,589.3 L1159.5,591.3 L1161.9,593.3 L1164.3,595.2 L1166.7,597 L1169,598.6 L1171.4,600 L1173.8,601.1 L1176.2,602 L1178.6,602.4 L1181,602.1 L1183.3,601.2 L1185.7,600 L1188.1,598.3 L1190.5,596.2 L1192.9,594 L1195.3,592 L1197.7,590 L1200,588.1 L1202.3,586.2 L1204.5,584.5 L1206,583.3" fill="none" stroke="#ff00ff" stroke-width="5" stroke-linejoin="round" stroke-linecap="round"/>
<path d="M1223.8,581 L1225.7,580.1 L1228.3,578.9 L1231,577.4 L1233.3,575.7 L1235.7,573.8 L1238.1,571.4 L1240.4,568.5 L1242.8,565.2 L1245.2,561.9 L1247.9,558.9 L1250.7,555.9 L1253.6,552.9 L1256.3,549.8 L1259,546.7 L1261.9,543.3 L1265,539.6 L1268.2,535.6 L1271.4,531.4 L1274.6,527.1 L1277.8,522.7 L1281,518.3 L1284.1,514.2 L1287.3,510.2 L1290.5,506.4 L1293.7,503 L1296.8,499.8 L1300,496.9 L1303.2,494.2 L1306.3,491.8 L1309.5,489.8 L1312.7,488.3 L1315.9,487.3 L1319,486.7 L1322.2,486.4 L1325.4,486.4 L1328.6,486.7 L1331.8,487.1 L1335.1,487.7 L1338.1,488.6 L1340.7,489.7 L1343.1,491 L1345.2,492.1 L1347.2,493.1 L1348.9,494 L1350,494.5 L1350.1,494.6 L1349.6,494.4 L1350,494.5 L1351.9,495.1 L1354.6,495.8 L1357.1,496.9 L1359.3,498.2 L1361.2,499.7 L1363.1,501.7 L1364.8,504.2 L1366.3,507.1 L1367.9,510 L1369.5,512.6 L1371.1,515.3 L1372.6,518.3 L1373.9,521.9 L1375,526 L1376.2,530.2 L1377.3,535.2 L1378.5,540.5 L1379.8,544.5 L1381.3,546.1 L1382.9,546.3 L1384.5,547.6 L1386,551 L1387.5,555.4 L1389.3,559.5 L1391.5,562.9 L1394,566 L1396.4,569 L1398.9,572.2 L1401.4,575.4 L1403.6,578.6 L1405.5,581.6 L1407.1,584.6 L1408.3,588.1 L1408.8,593 L1408.8,598.4 L1409.5,602.4 L1411.4,603.8 L1413.9,603.7 L1416.7,603.6 L1419.7,603.6 L1423,603.5 L1426.2,603.6 L1429.2,603.7 L1432.1,604.1 L1434.5,604.8 L1436.4,606 L1437.8,607.5 L1439.3,609.5 L1440.8,612.5 L1442.4,615.8 L1444,617.9 L1445.9,617.6 L1447.9,616.1 L1450,614.3 L1452.3,612.4 L1454.7,610.2 L1457.1,608.3 L1459.5,606.9 L1461.9,605.7 L1464.3,604.8 L1466.7,604.2 L1469,603.9 L1471.4,603.6 L1473.8,603.2 L1476.2,602.8 L1478.6,602.4 L1481,601.9 L1483.3,601.5 L1485.7,601.2 L1488.1,601.2 L1490.6,601.4 L1492.9,601.2 L1494.9,600.3 L1496.8,599 L1498.8,597.6 L1501.1,596.1 L1503.5,594.5 L1506,592.9 L1508.4,591.3 L1510.9,589.8 L1513.1,588.1 L1514.8,586.2 L1516.3,584.2 L1517.9,582.1 L1519.7,580.2 L1521.7,578.4 L1523.8,576.2 L1526.1,573.7 L1528.5,571 L1531,567.9 L1533.4,563.8 L1535.9,559.4 L1538.1,556 L1539.8,554.3 L1541.2,553.6 L1542.9,552.9 L1545.1,551.8 L1547.5,550.8 L1550,549.3 L1552.4,547.2 L1554.8,544.7 L1557.1,542.1 L1559.5,539.5 L1561.9,536.6 L1564.3,533.8 L1566.7,531 L1569,528.3 L1571.4,525.5 L1573.8,522.7 L1576.2,519.9 L1578.6,517.1 L1581,514.3 L1583.3,511.4 L1585.7,508.8 L1588.1,506.5 L1590.6,504.4 L1592.9,502.9 L1595.1,502.1 L1597.3,501.8 L1598.8,501.7" fill="none" stroke="#ff00ff" stroke-width="5" stroke-linejoin="round" stroke-linecap="round"/>
<path d="M1602.4,500.5 L1604.9,500.7 L1608.4,500.9 L1611.9,501.2 L1615.3,501.4 L1618.6,501.6 L1621.4,502.1 L1623.4,503.1 L1624.8,504.5 L1626.2,506.4 L1627.8,509.2 L1629.4,512.6 L1631,516 L1632.5,519 L1634,522.1 L1635.7,525.5 L1637.7,529.4 L1639.7,533.5 L1641.7,537.4 L1643.3,541.3 L1644.9,545 L1646.4,546.9 L1647.9,545.4 L1649.3,542.2 L1651.2,540.5 L1653.7,541.9 L1656.5,544.7 L1659.5,547.6 L1662.7,549.9 L1666.1,552.2 L1669,554.8 L1671.3,557.8 L1673.2,561 L1675,564.3 L1676.7,567.4 L1678.3,570.5 L1679.8,573.8 L1681,577.5 L1682.1,581.3 L1683.3,584.5 L1684.7,587 L1686.1,588.9 L1688.1,590.5 L1691,591.4 L1694.4,592 L1697.6,592.9 L1700.2,594.3 L1702.5,595.9 L1704.8,597.6 L1707.2,599.2 L1709.6,600.8 L1711.9,602.4 L1714.1,603.9 L1716.1,605.4 L1717.9,607.1 L1719.1,609.6 L1720.1,612.3 L1721.4,614.3 L1723.5,615 L1726.1,615.1 L1728.6,615.5 L1731,616.5 L1733.3,617.8 L1735.7,619 L1738.1,620.4 L1740.5,621.8 L1742.9,622.6 L1745.4,622.8 L1747.8,622.4 L1750,621.4 L1751.5,619.4 L1752.7,616.7 L1754.1,614.4 L1755.8,613.1 L1757.6,612.2 L1759.6,611.7 L1762.2,611.8 L1765,612.2 L1766.9,612.6" fill="none" stroke="#ff00ff" stroke-width="5" stroke-linejoin="round" stroke-linecap="round"/>
<path d="M195.2,527.9 L197.7,526.9 L201.2,525.6 L204.8,524.3 L207.9,523.1 L211,521.8 L214.3,520.7 L218.1,519.7 L222,518.9 L224.8,518.3" fill="none" stroke="#9400d3" stroke-width="5" stroke-linejoin="round" stroke-linecap="round"/>
<path d="M232.1,523.1 L235.7,524.3 L240.7,526.1 L245.2,527.9 L248.7,529.4 L251.7,530.9 L254.8,532.6 L257.9,534.6 L261.1,536.6 L264.3,538.6 L267.5,540.2 L270.6,541.8 L273.8,543.3 L277,545.2 L280.2,547.1 L283.3,548.1 L286.5,547.4 L289.7,545.8 L292.9,545.2 L296,546.6 L299.2,549 L302.4,551.2 L305.6,552.8 L308.7,554.3 L311.9,556 L315.2,557.7 L318.5,559.6 L321.4,561.9 L323.7,564.9 L325.5,568.3 L327.4,571.4 L329.3,574.2 L331.3,576.6 L333.3,578.6 L335.5,579.7 L337.9,580.3 L340.5,581 L343.6,581.7 L346.9,582.5 L350,583.3 L352.6,584.4 L354.9,585.6 L357.1,586.9 L359.7,588.4 L362.2,590.1 L364.3,591.7 L365.7,593.1 L366.6,594.4 L367.1,595.2" fill="none" stroke="#9400d3" stroke-width="5" stroke-linejoin="round" stroke-linecap="round"/>
<path d="M389.3,600 L390.8,597.4 L392.9,593.8 L395.2,590.5 L397.4,587.9 L399.8,585.6 L402.4,583.3 L405.4,581 L408.6,578.6 L411.9,576.2 L415.1,573.8 L418.3,571.4 L421.4,569 L424.6,566.8 L427.8,564.5 L431,561.9 L434.3,558.5 L437.7,554.9 L440.5,552.4 L442.2,552.1 L443.5,553 L445.2,552.9 L448.1,550.7 L451.4,547.6 L454.8,544.5 L457.9,541.7 L461.1,538.9 L464.3,536.2 L467.5,533.7 L470.6,531.3 L473.8,529 L477,526.9 L480.2,524.9 L483.3,523.1 L486.5,521.3 L489.7,519.7 L492.9,518.3 L496,517.2 L499.2,516.2 L502.4,515.5 L505.6,515 L508.7,514.8 L511.9,514.8 L515.1,514.8 L518.3,515 L521.4,515.5 L524.6,516.2 L527.8,517.2 L531,518.3 L534.1,519.7 L537.3,521.3 L540.5,523.1 L543.8,525.3 L547.2,527.7 L550,529 L551.8,528.2 L553,526.4 L554.8,526.2 L557.6,529.2 L560.9,533.8 L564.3,538.1 L567.5,541.6 L570.6,544.8 L573.8,547.6 L577,549.9 L580.2,551.7 L583.3,553.6 L586.5,555.4 L589.7,557.3 L592.9,559.5 L596,562.4 L599.2,565.7 L602.4,569 L605.6,572.2 L608.7,575.4 L611.9,578.6 L615.3,582 L618.6,585.4 L621.4,588.1 L623.3,589.9 L624.6,591 L626.2,591.7 L628.2,592.1 L630.5,592.2 L633.3,591.7 L636.9,590.5 L641.1,588.8 L645.2,586.9 L649.2,585.1 L653.2,583.1 L657.1,581 L661.1,578.6 L665.1,576.1 L669,573.8 L673,571.7 L677,569.8 L681,567.9 L684.9,565.9 L688.9,563.9 L692.9,561.9 L696.8,560.1 L700.8,558.2 L704.8,556 L708.7,553.1 L712.7,549.8 L716.7,546.4 L720.6,542.9 L724.6,539.2 L728.6,535.7 L732.5,532.4 L736.5,529.2 L740.5,526.2 L744.4,523.2 L748.4,520.4 L752.4,517.9 L756.3,515.6 L760.3,513.5 L764.3,511.9 L768.3,510.8 L772.2,510 L776.2,509.5 L780.2,509.2 L784.1,509 L788.1,509 L792.1,509.2 L796,509.5 L800,510 L804,510.8 L807.9,511.9 L811.9,513.1 L815.9,514.5 L819.8,516 L823.8,517.9 L827.9,520 L831.9,522.4 L835.7,525 L839.2,527.6 L842.3,530.3 L845.2,533.3 L847.8,536.7 L850.1,540.3 L852.4,544 L854.7,548.1 L857,552.3 L859.5,556 L862.5,558.7 L865.8,561 L869,563.1 L872.2,565.2 L875.4,567.1 L878.6,569 L881.7,571 L884.9,572.9 L888.1,575 L891.3,577.3 L894.4,579.7 L897.6,582.1 L900.8,584.6 L904,587 L907.1,589.3 L910.3,591.4 L913.5,593.5 L916.7,595.2 L919.8,596.6 L923,597.6 L926.2,598.8 L929.4,600.4 L932.5,602.1 L935.7,603.6 L939.1,605 L942.4,606.2 L945.2,606 L947.4,602.4 L948.9,597.4 L950,595.2 L950.1,599.4 L949.6,606.5 L950,610.7 L951.9,609.1 L954.5,604.5 L957.1,600 L959.4,596.4 L961.7,592.9 L964.3,589.3 L967.3,585.7 L970.5,582.1 L973.8,578.6 L977,575.3 L980.2,572.2 L983.3,569 L986.5,565.8 L989.7,562.6 L992.9,559.5 L996,556.6 L999.2,553.7 L1002.4,551.2 L1005.6,549.1 L1008.7,547.2 L1011.9,545.2 L1015.1,542.9 L1018.3,540.5 L1021.4,538.1 L1024.6,535.7 L1027.8,533.2 L1031,531 L1034.1,528.8 L1037.3,526.9 L1040.5,525 L1043.7,523.3 L1046.8,521.7 L1050,520.2 L1053.2,518.9 L1056.3,517.7 L1059.5,516.7 L1062.7,515.9 L1065.9,515.2 L1069,514.8 L1072.2,514.4 L1075.4,514.2 L1078.6,514.3 L1081.8,514.7 L1085.1,515.3 L1088.1,516.2 L1090.7,517.3 L1092.9,518.6 L1095.2,520.2 L1097.6,522.3 L1100,524.8 L1102.4,527.4 L1104.8,530.1 L1107.1,532.9 L1109.5,535.7 L1111.9,538.5 L1114.3,541.4 L1116.7,544 L1119,546.6 L1121.4,548.9 L1123.8,551.2 L1126.1,553.4 L1128.4,555.4 L1131,557.1 L1134,558.5 L1137.4,559.6 L1140.5,560.7 L1143,561.9 L1145.3,563 L1147.6,564.3 L1150,565.7 L1152.4,567.2 L1154.8,569 L1157.1,571.3 L1159.5,573.7 L1161.9,576.2 L1164.3,578.7 L1166.7,581.1 L1169,583.3 L1171.4,585.2 L1173.8,586.8 L1176.2,588.1 L1178.6,589 L1181,589.7 L1183.3,590 L1185.7,590 L1188.1,589.7 L1190.5,589.3 L1192.8,588.7 L1195.1,587.8 L1197.6,586.9 L1200.6,585.7 L1203.7,584.3 L1206,583.3" fill="none" stroke="#9400d3" stroke-width="5" stroke-linejoin="round" stroke-linecap="round"/>
<path d="M1223.8,581 L1225.7,580.3 L1228.3,579.5 L1231,578.6 L1233.3,577.8 L1235.7,577.1 L1238.1,576.2 L1240.7,575 L1243.4,573.6 L1245.2,572.6" fill="none" stroke="#9400d3" stroke-width="5" stroke-linejoin="round" stroke-linecap="round"/>
<path d="M195.2,528.6 L197.7,527.3 L201.2,525.5 L204.8,523.8 L207.9,522.5 L211,521.4 L214.3,520.2 L218.1,518.9 L222,517.6 L224.8,516.7" fill="none" stroke="#0000ff" stroke-width="4.8" stroke-linejoin="round" stroke-linecap="round"/>
<path d="M232.1,516.7 L235.6,516.1 L240.5,515.3 L245.2,514.8 L249.3,514.6 L253.2,514.6 L257.1,514.8 L261,514.9 L264.9,515.1 L269,515.5 L273.6,515.9 L278.5,516.4 L283.3,517.1 L288.3,518.1 L293.2,519.1 L297.6,520.2 L301.1,521.3 L304.1,522.4 L307.1,523.8 L310.3,525.6 L313.5,527.7 L316.7,529.8 L319.8,531.7 L323,533.7 L326.2,535.7 L329.5,537.6 L332.7,539.5 L335.7,541.7 L338.4,544.3 L340.7,547.1 L342.9,550 L344.6,552.9 L346.1,555.8 L347.6,558.3 L349.2,560.3 L350.8,561.9 L352.4,563.1 L353.9,564 L355.5,564.6 L357.1,564.8 L359.1,564.3 L361.1,563.6 L363.1,563.1 L365.2,563.3 L367.2,563.9 L368.6,564.3" fill="none" stroke="#0000ff" stroke-width="4.8" stroke-linejoin="round" stroke-linecap="round"/>
<path d="M388.1,571.4 L390.4,571.3 L393.7,571.3 L397.6,571.4 L402.1,572.1 L407.1,573 L411.9,573.8 L416.1,574.7 L420.1,575.6 L423.8,575.7 L427.4,574.9 L430.8,573.3 L433.3,571.4 L434.4,569.1 L434.7,566.5 L435.7,564.3 L438.2,562.9 L441.4,561.9 L445.2,560.7 L449.6,559.2 L454.6,557.6 L459.5,556 L464.5,554.4 L469.4,552.8 L473.8,551.2 L477.2,549.6 L480.2,548.1 L483.3,546.4 L487.1,544.5 L491.2,542.4 L495.2,540.5 L499.2,538.8 L503.2,537.2 L507.1,535.7 L511.1,534.4 L515.1,533.1 L519,532.1 L522.8,531.4 L526.5,530.9 L531,530.5 L537.5,530.2 L544.8,530 L550,529.8 L551,529.2 L549.8,528.5 L550,528.6 L553.1,529.7 L557.5,531.5 L561.9,533.3 L565.9,534.9 L569.8,536.4 L573.8,538.1 L577.8,540 L581.7,542.1 L585.7,544 L589.7,545.8 L593.7,547.4 L597.6,548.8 L601.6,550.1 L605.6,551.2 L609.5,552.4 L613.5,553.6 L617.5,554.8 L621.4,556 L625.4,557.1 L629.4,558.2 L633.3,559.5 L637.5,561.1 L641.6,562.7 L645.2,564.3 L647.9,565.6 L650,566.9 L652.4,567.9 L655.3,568.6 L658.5,569.2 L661.9,569.5 L665.7,569.6 L669.8,569.4 L673.8,569 L677.8,568.4 L681.7,567.5 L685.7,566.7 L689.6,566 L693.5,565.3 L697.6,564.3 L702.2,562.9 L707.1,561.2 L711.9,559.5 L716.7,557.8 L721.4,556.1 L726.2,554.3 L731,552.5 L735.7,550.7 L740.5,548.8 L745.2,546.9 L750,544.9 L754.8,542.9 L759.5,540.8 L764.3,538.8 L769,536.9 L773.8,535.2 L778.6,533.6 L783.3,532.1 L788.1,530.7 L792.9,529.3 L797.6,528.1 L802.5,526.9 L807.3,525.9 L811.9,525 L816,524.3 L819.9,523.7 L823.8,523.3 L827.8,523.3 L831.7,523.5 L835.7,523.8 L839.7,524.3 L843.7,524.9 L847.6,525.7 L851.6,526.7 L855.6,527.8 L859.5,529 L863.5,530.4 L867.5,531.8 L871.4,533.3 L875.4,534.9 L879.4,536.5 L883.3,538.1 L887.3,539.8 L891.3,541.6 L895.2,543.3 L899.2,545 L903.2,546.5 L907.1,548.1 L911.1,549.6 L915.1,551.1 L919,552.9 L923,555 L927,557.3 L931,559.5 L935.1,561.7 L939.2,563.8 L942.9,565.5 L945.9,566.6 L948.3,567.4 L950,567.9 L950,568 L949.2,567.9 L950,567.9 L953.7,568.3 L959,568.9 L964.3,569 L968.9,568.6 L973.5,567.8 L978.6,566.7 L984.6,565.3 L991.1,563.7 L997.6,561.9 L1004,560 L1010.3,558 L1016.7,556 L1023.2,553.9 L1029.7,551.9 L1035.7,550 L1040.8,548.3 L1045.4,546.7 L1050,545.2 L1054.8,544 L1059.5,542.8 L1064.3,541.7 L1069,540.4 L1073.8,539.2 L1078.6,538.1 L1083.5,537.2 L1088.4,536.4 L1092.9,535.7 L1096.4,535.1 L1099.4,534.7 L1102.4,534.5 L1105.6,534.8 L1108.7,535.3 L1111.9,536.2 L1115.1,537.4 L1118.3,538.8 L1121.4,540.5 L1124.6,542.4 L1127.8,544.5 L1131,546.4 L1134.1,548.1 L1137.3,549.7 L1140.5,551.2 L1143.7,552.5 L1146.8,553.7 L1150,554.8 L1153.2,555.6 L1156.3,556.4 L1159.5,557.1 L1162.7,557.9 L1165.9,558.7 L1169,559.5 L1172.2,560.4 L1175.4,561.4 L1178.6,562.4 L1181.7,563.4 L1184.9,564.4 L1188.1,565.5 L1191.3,566.7 L1194.5,567.9 L1197.6,569 L1200.8,570 L1203.8,570.9 L1206,571.4" fill="none" stroke="#0000ff" stroke-width="4.8" stroke-linejoin="round" stroke-linecap="round"/>
<path d="M1223.8,569 L1226.9,569.7 L1231.3,570.6 L1235.7,571.4 L1239.7,572 L1243.7,572.4 L1247.6,572.6 L1251.6,572.8 L1255.6,572.8 L1259.5,572.6 L1263.5,572 L1267.5,571.1 L1271.4,570.2 L1275.4,569.5 L1279.4,568.7 L1283.3,567.9 L1287.3,566.8 L1291.3,565.5 L1295.2,564.3 L1299.2,563.1 L1303.2,562 L1307.1,560.7 L1311.1,559.2 L1315.1,557.6 L1319,556 L1323.1,554.3 L1327.2,552.7 L1331,551.2 L1334.3,549.9 L1337.4,548.8 L1340.5,547.6 L1344,546.3 L1347.5,545 L1350,544 L1350.3,543.9 L1349.5,544.2 L1350,544 L1353.1,543.1 L1357.5,541.7 L1361.9,540.5 L1365.9,539.5 L1369.8,538.7 L1373.8,538.1 L1378,537.7 L1382.1,537.5 L1385.7,538.1 L1388.4,540 L1390.7,542.8 L1392.9,545.2 L1395.1,547 L1397.4,548.4 L1400,550 L1403,552 L1406.3,554.1 L1409.5,556 L1412.8,557.2 L1416,558.2 L1419,559.5 L1421.6,561.5 L1423.9,563.7 L1426.2,565.5 L1428.6,566.7 L1431,567.5 L1433.3,567.9 L1435.7,567.5 L1438.1,566.6 L1440.5,566.2 L1442.9,566.3 L1445.2,566.9 L1447.6,567.9 L1450.1,569.7 L1452.6,571.9 L1454.8,573.8 L1456.5,575.1 L1458,576 L1459.5,576.2 L1460.9,575.2 L1462.3,573.6 L1464.3,572.6 L1467,573 L1470.3,574 L1473.8,575 L1477.6,575.7 L1481.7,576.3 L1485.7,576.7 L1489.6,576.8 L1493.5,576.7 L1497.6,576.7 L1502.4,576.8 L1507.4,577.1 L1511.9,577.4 L1515.3,577.9 L1518.3,578.4 L1521.4,578.6 L1525.2,578.2 L1529.3,577.4 L1533.3,576.7 L1537.3,576.1 L1541.3,575.6 L1545.2,575 L1549.2,574.3 L1553.2,573.5 L1557.1,572.6 L1561.1,571.5 L1565.1,570.3 L1569,569 L1573,567.9 L1577,566.7 L1581,565.5 L1585,564.1 L1589.1,562.7 L1592.9,561.4 L1596.6,560.2 L1600,559.1 L1602.4,558.3" fill="none" stroke="#0000ff" stroke-width="4.8" stroke-linejoin="round" stroke-linecap="round"/>
<path d="M1604.8,558.3 L1607.2,557.8 L1610.8,557 L1614.3,556 L1617.5,554.6 L1620.6,553 L1623.8,551.2 L1627,549.3 L1630.2,547.3 L1633.3,545.2 L1636.6,543.1 L1639.9,541 L1642.9,539.3 L1645.3,538.3 L1647.5,537.8 L1650,537.6 L1652.9,537.8 L1656.1,538.4 L1659.5,539.3 L1663.3,540.7 L1667.4,542.4 L1671.4,544 L1675.5,545.3 L1679.5,546.5 L1683.3,547.6 L1686.8,548.7 L1689.9,549.7 L1692.9,551.2 L1695.3,553.4 L1697.5,556 L1700,558.3 L1702.9,559.9 L1706.1,561.1 L1709.5,562.4 L1713.4,563.9 L1717.5,565.4 L1721.4,566.7 L1724.8,567.4 L1727.9,568 L1731,568.6 L1734.1,569.4 L1737.3,570.4 L1740.5,571.4 L1743.8,572.6 L1747.1,573.8 L1750,575 L1752.2,576 L1754.1,576.8 L1755.9,577.8 L1758.1,579.1 L1760.4,580.5 L1762.3,581.5 L1763.9,581.7 L1765.2,581.6 L1766,581.5" fill="none" stroke="#0000ff" stroke-width="4.8" stroke-linejoin="round" stroke-linecap="round"/>
<path d="M195.2,555.2 L199,554.6 L204.4,553.8 L209.5,552.9 L214,551.9 L218.2,550.8 L221.4,550 L223.3,549.4 L224.2,549.1 L224.8,548.8" fill="none" stroke="#0a640a" stroke-width="4.2" stroke-linejoin="round" stroke-linecap="round"/>
<path d="M232.1,547.6 L235.6,546.6 L240.5,545.2 L245.2,544 L249.1,543.4 L252.9,543.1 L257.1,542.9 L262.3,542.8 L267.9,542.8 L273.8,542.9 L280,542.9 L286.4,543.1 L292.9,543.3 L299.2,543.8 L305.6,544.4 L311.9,545.2 L318.3,546.3 L324.6,547.5 L331,548.8 L337.3,550.1 L343.7,551.5 L350,552.9 L356.9,554.4 L363.8,556 L368.6,557.1" fill="none" stroke="#0a640a" stroke-width="4.2" stroke-linejoin="round" stroke-linecap="round"/>
<path d="M388.1,562.4 L394.3,562.9 L403.1,563.6 L411.9,564.3 L419.8,564.9 L427.8,565.4 L435.7,565.5 L443.7,564.8 L451.6,563.7 L459.5,562.4 L467.5,560.8 L475.4,559 L483.3,557.1 L491.3,555.2 L499.2,553.2 L507.1,551.2 L515.3,549.1 L523.4,547 L531,545.2 L538.4,543.8 L545.2,542.7 L550,541.7 L550.5,540.6 L548.9,539.6 L550,539.3 L556.2,540 L565,541.4 L573.8,542.9 L581.7,544 L589.7,545.1 L597.6,546.4 L605.6,547.9 L613.5,549.6 L621.4,551.2 L629.4,552.8 L637.3,554.5 L645.2,556 L653.2,557.3 L661.1,558.6 L669,559.5 L677,560.2 L684.9,560.6 L692.9,560.7 L700.8,560.6 L708.7,560.2 L716.7,559.5 L724.6,558.6 L732.5,557.5 L740.5,556 L748.4,553.8 L756.3,551.2 L764.3,548.8 L772.2,546.6 L780.2,544.6 L788.1,542.9 L796,541.4 L804,540.3 L811.9,539.3 L820.3,538.3 L828.7,537.5 L835.7,536.9 L840.6,536.5 L844.1,536.2 L847.6,536.2 L851.1,536.4 L854.7,536.9 L859.5,537.6 L866.6,538.7 L875,540.1 L883.3,541.7 L891.3,543.4 L899.2,545.4 L907.1,547.6 L915.3,550.3 L923.4,553.2 L931,556 L938.4,558.5 L945.2,560.8 L950,562.4 L950.5,562.8 L948.9,562.4 L950,562.4 L956.2,563.1 L965,564.1 L973.8,564.8 L981.7,564.8 L989.7,564.4 L997.6,563.8 L1005.6,563 L1013.5,562 L1021.4,560.7 L1029.4,559.1 L1037.3,557.2 L1045.2,555.2 L1053.4,553.1 L1061.5,550.8 L1069,548.8 L1075.9,547.2 L1082.3,545.9 L1088.1,544.8 L1093.2,543.9 L1097.8,543.2 L1102.4,542.9 L1107.1,542.7 L1111.9,542.9 L1116.7,543.3 L1121.6,544.2 L1126.5,545.4 L1131,546.4 L1134.1,547.2 L1136.8,548 L1140.5,548.8 L1146.1,549.9 L1152.8,551.2 L1159.5,552.4 L1165.9,553.4 L1172.2,554.4 L1178.6,555.2 L1185.3,556 L1192.1,556.6 L1197.6,557.1 L1201.5,557.6 L1204.2,558.1 L1206,558.3" fill="none" stroke="#0a640a" stroke-width="4.2" stroke-linejoin="round" stroke-linecap="round"/>
<path d="M1223.8,559.5 L1230,560.3 L1238.8,561.5 L1247.6,562.4 L1255.6,562.9 L1263.5,563.2 L1271.4,563.1 L1279.4,562.6 L1287.3,561.8 L1295.2,560.7 L1303.4,559.3 L1311.6,557.6 L1319,556 L1325.2,554.4 L1330.6,552.8 L1335.7,551.2 L1341.2,549.4 L1346.4,547.6 L1350,546.4 L1350.5,546.6 L1349.5,547.4 L1350,547.6 L1353.6,546.8 L1358.8,545.4 L1364.3,544 L1369.7,542.8 L1375.3,541.7 L1381,541 L1386.7,540.8 L1392.4,541 L1397.6,541.7 L1401.9,543 L1405.7,544.7 L1409.5,546.4 L1413.4,548.1 L1417.3,549.7 L1421.4,551.2 L1426,552.4 L1430.9,553.3 L1435.7,554.3 L1440.3,555.3 L1444.9,556.2 L1450,557.1 L1455.8,558.1 L1462.2,559.1 L1469,560 L1476.6,560.9 L1484.7,561.7 L1492.9,562.4 L1500.8,563 L1508.7,563.5 L1516.7,563.8 L1524.8,564 L1532.9,564 L1540.5,563.8 L1547.2,563.4 L1553.4,562.7 L1559.5,561.9 L1565.7,560.9 L1571.9,559.7 L1578.6,558.3 L1586.4,556.8 L1594.8,555.2 L1602.4,553.6 L1608.5,552 L1613.8,550.4 L1619,548.8 L1624.7,547.2 L1630.3,545.5 L1635.7,544 L1640.6,542.7 L1645.1,541.4 L1650,540.5 L1655.4,539.8 L1661,539.4 L1666.7,539.3 L1672.3,539.5 L1678,540.1 L1683.3,541 L1688.3,542.2 L1692.9,543.6 L1697.6,545.2 L1702.4,547 L1707.1,548.8 L1711.9,550.5 L1716.7,551.9 L1721.4,553.2 L1726.2,554.3 L1731.1,555.2 L1736.1,556 L1740.5,556.7 L1744.3,557.2 L1747.5,557.7 L1750,558.3 L1750.8,559.3 L1750.8,560.4 L1752.3,561.3 L1757.2,561.8 L1763.7,562.1 L1768.4,562.2" fill="none" stroke="#0a640a" stroke-width="4.2" stroke-linejoin="round" stroke-linecap="round"/>
<path d="M261.9,544 L273.4,544.2 L289.3,544.4 L302.4,544.8 L308.7,545.2 L312.2,545.7 L316.7,546.4 L323.7,547.5 L331.9,548.7 L340.5,550 L350.6,551.3 L361.1,552.6 L368.6,553.6" fill="none" stroke="#a0564a" stroke-width="4.2" stroke-linejoin="round" stroke-linecap="round"/>
<path d="M388.1,557.1 L394.3,557.7 L403.1,558.4 L411.9,559 L419.8,559.4 L427.8,559.5 L435.7,559.5 L443.7,559.3 L451.6,558.9 L459.5,558.3 L467.5,557.6 L475.4,556.8 L483.3,556 L491.3,555.2 L499.2,554.4 L507.1,553.6 L515.3,552.8 L523.4,552 L531,551.2 L538.4,550.5 L545.2,549.8 L550,548.8 L550.5,547.2 L548.9,545.3 L550,544 L556.2,544 L565,544.5 L573.8,545.2 L581.7,545.9 L589.7,546.7 L597.6,547.6 L605.6,548.7 L613.5,550 L621.4,551.2 L629.4,552.3 L637.3,553.3 L645.2,554.3 L653.2,555.2 L661.1,556 L669,556.7 L677,557 L684.9,557.1 L692.9,557.1 L700.8,557.1 L708.7,556.9 L716.7,556.7 L724.6,556.3 L732.5,555.9 L740.5,555.2 L748.4,554.4 L756.3,553.4 L764.3,552.4 L772.2,551.2 L780.2,550 L788.1,548.8 L796,547.6 L804,546.3 L811.9,545.2 L819.8,544.3 L827.8,543.5 L835.7,542.9 L843.7,542.3 L851.6,541.8 L859.5,541.7 L867.5,541.9 L875.4,542.5 L883.3,543.3 L891.3,544.5 L899.2,546 L907.1,547.6 L915.3,549.5 L923.4,551.6 L931,553.6 L938.4,555.4 L945.2,557.1 L950,558.3 L950.5,558.6 L948.9,558.4 L950,558.3 L956.2,558.7 L965,559.2 L973.8,559.5 L981.7,559.5 L989.7,559.4 L997.6,559 L1005.6,558.6 L1013.5,557.9 L1021.4,557.1 L1029.4,556.3 L1037.3,555.3 L1045.2,554.3 L1053.2,553.1 L1061.1,551.7 L1069,550.5 L1077,549.3 L1084.9,548.1 L1092.9,547.1 L1101.1,546.3 L1109.4,545.7 L1116.7,545.2 L1122.1,544.9 L1126.5,544.7 L1131,544.8 L1135.5,545.1 L1140.1,545.7 L1145.2,546.4 L1151.1,547.5 L1157.4,548.7 L1164.3,550 L1172.1,551.2 L1180.4,552.5 L1188.1,553.6 L1195.1,554.5 L1201.5,555.4 L1206,556" fill="none" stroke="#a0564a" stroke-width="4.2" stroke-linejoin="round" stroke-linecap="round"/>
<path d="M1223.8,556.7 L1233.1,557.2 L1246.3,557.9 L1259.5,558.3 L1271.9,558.2 L1284.2,557.7 L1295.2,557.1 L1303.8,556.6 L1311,556.1 L1319,555.2 L1330,553.9 L1341.7,552.3 L1350,551.2 L1351.4,551 L1349.4,551.3 L1350,551.2 L1356.2,550.2 L1365,548.9 L1373.8,547.6 L1381.9,546.6 L1390,545.7 L1397.6,545.2 L1404.3,545.3 L1410.5,545.7 L1416.7,546.4 L1422.9,547.4 L1429.2,548.7 L1435.7,550 L1442.6,551.2 L1449.7,552.4 L1457.1,553.6 L1464.9,554.8 L1472.9,556 L1481,557.1 L1488.9,558.1 L1496.8,558.9 L1504.8,559.5 L1512.7,560.1 L1520.6,560.5 L1528.6,560.7 L1536.5,560.5 L1544.4,560.1 L1552.4,559.5 L1560.2,558.8 L1568.1,558 L1576.2,557.1 L1584.9,556.3 L1593.9,555.3 L1602.4,554.3 L1609.8,553.1 L1616.7,551.8 L1623.8,550.5 L1631.7,549.1 L1639.9,547.7 L1647.6,546.4 L1654.4,545.4 L1660.7,544.6 L1666.7,544 L1672.3,543.7 L1677.7,543.7 L1683.3,544 L1689.5,544.9 L1695.9,546.2 L1702.4,547.6 L1708.7,549 L1715.1,550.6 L1721.4,551.9 L1728.1,553 L1734.8,554 L1740.5,554.8 L1744,555.3 L1746.5,555.6 L1750,556 L1756.2,556.5 L1763.3,557.2 L1768.4,557.7" fill="none" stroke="#a0564a" stroke-width="4.2" stroke-linejoin="round" stroke-linecap="round"/>
<line x1="195.2" y1="552.9" x2="225.4" y2="552.9" stroke="#000" stroke-width="4.6"/>
<line x1="231" y1="552.9" x2="368.7" y2="552.9" stroke="#000" stroke-width="4.6"/>
<line x1="388" y1="552.9" x2="639.2" y2="552.9" stroke="#000" stroke-width="4.6"/>
<line x1="641.3" y1="552.9" x2="1206.8" y2="552.9" stroke="#000" stroke-width="4.6"/>
<line x1="1214.7" y1="552.9" x2="1219.2" y2="552.9" stroke="#000" stroke-width="4.6"/>
<line x1="1223.2" y1="552.9" x2="1768.4" y2="552.9" stroke="#000" stroke-width="4.6"/>
</g>
<rect x="152.4" y="34.8" width="1896.6" height="806" fill="none" stroke="#2e2e2e" stroke-width="2.0"/>
<line x1="152.4" y1="783.2" x2="158.4" y2="783.2" stroke="#333" stroke-width="1.2"/>
<line x1="2043" y1="783.2" x2="2049" y2="783.2" stroke="#333" stroke-width="1.2"/>
<text x="140" y="800.7" font-size="52" text-anchor="end" font-family="Liberation Serif, serif" fill="#000">-20</text>
<line x1="152.4" y1="725.7" x2="158.4" y2="725.7" stroke="#333" stroke-width="1.2"/>
<line x1="2043" y1="725.7" x2="2049" y2="725.7" stroke="#333" stroke-width="1.2"/>
<text x="140" y="743.2" font-size="52" text-anchor="end" font-family="Liberation Serif, serif" fill="#000">-15</text>
<line x1="152.4" y1="668.1" x2="158.4" y2="668.1" stroke="#333" stroke-width="1.2"/>
<line x1="2043" y1="668.1" x2="2049" y2="668.1" stroke="#333" stroke-width="1.2"/>
<text x="140" y="685.6" font-size="52" text-anchor="end" font-family="Liberation Serif, serif" fill="#000">-10</text>
<line x1="152.4" y1="610.5" x2="158.4" y2="610.5" stroke="#333" stroke-width="1.2"/>
<line x1="2043" y1="610.5" x2="2049" y2="610.5" stroke="#333" stroke-width="1.2"/>
<text x="140" y="628" font-size="52" text-anchor="end" font-family="Liberation Serif, serif" fill="#000">-5</text>
<line x1="152.4" y1="552.9" x2="158.4" y2="552.9" stroke="#333" stroke-width="1.2"/>
<line x1="2043" y1="552.9" x2="2049" y2="552.9" stroke="#333" stroke-width="1.2"/>
<text x="140" y="570.4" font-size="52" text-anchor="end" font-family="Liberation Serif, serif" fill="#000">0</text>
<line x1="152.4" y1="495.4" x2="158.4" y2="495.4" stroke="#333" stroke-width="1.2"/>
<line x1="2043" y1="495.4" x2="2049" y2="495.4" stroke="#333" stroke-width="1.2"/>
<text x="140" y="512.9" font-size="52" text-anchor="end" font-family="Liberation Serif, serif" fill="#000">5</text>
<line x1="152.4" y1="437.8" x2="158.4" y2="437.8" stroke="#333" stroke-width="1.2"/>
<line x1="2043" y1="437.8" x2="2049" y2="437.8" stroke="#333" stroke-width="1.2"/>
<text x="140" y="455.3" font-size="52" text-anchor="end" font-family="Liberation Serif, serif" fill="#000">10</text>
<line x1="152.4" y1="380.2" x2="158.4" y2="380.2" stroke="#333" stroke-width="1.2"/>
<line x1="2043" y1="380.2" x2="2049" y2="380.2" stroke="#333" stroke-width="1.2"/>
<text x="140" y="397.7" font-size="52" text-anchor="end" font-family="Liberation Serif, serif" fill="#000">15</text>
<line x1="152.4" y1="322.7" x2="158.4" y2="322.7" stroke="#333" stroke-width="1.2"/>
<line x1="2043" y1="322.7" x2="2049" y2="322.7" stroke="#333" stroke-width="1.2"/>
<text x="140" y="340.2" font-size="52" text-anchor="end" font-family="Liberation Serif, serif" fill="#000">20</text>
<line x1="152.4" y1="265.1" x2="158.4" y2="265.1" stroke="#333" stroke-width="1.2"/>
<line x1="2043" y1="265.1" x2="2049" y2="265.1" stroke="#333" stroke-width="1.2"/>
<text x="140" y="282.6" font-size="52" text-anchor="end" font-family="Liberation Serif, serif" fill="#000">25</text>
<line x1="152.4" y1="207.5" x2="158.4" y2="207.5" stroke="#333" stroke-width="1.2"/>
<line x1="2043" y1="207.5" x2="2049" y2="207.5" stroke="#333" stroke-width="1.2"/>
<text x="140" y="225" font-size="52" text-anchor="end" font-family="Liberation Serif, serif" fill="#000">30</text>
<line x1="152.4" y1="149.9" x2="158.4" y2="149.9" stroke="#333" stroke-width="1.2"/>
<line x1="2043" y1="149.9" x2="2049" y2="149.9" stroke="#333" stroke-width="1.2"/>
<text x="140" y="167.4" font-size="52" text-anchor="end" font-family="Liberation Serif, serif" fill="#000">35</text>
<line x1="152.4" y1="92.4" x2="158.4" y2="92.4" stroke="#333" stroke-width="1.2"/>
<line x1="2043" y1="92.4" x2="2049" y2="92.4" stroke="#333" stroke-width="1.2"/>
<text x="140" y="109.9" font-size="52" text-anchor="end" font-family="Liberation Serif, serif" fill="#000">40</text>
<text x="140" y="52.3" font-size="52" text-anchor="end" font-family="Liberation Serif, serif" fill="#000">45</text>
<line x1="222.9" y1="835.8" x2="222.9" y2="840.8" stroke="#333" stroke-width="1.2"/>
<line x1="293.6" y1="831.8" x2="293.6" y2="840.8" stroke="#333" stroke-width="1.2"/>
<line x1="363.6" y1="835.8" x2="363.6" y2="840.8" stroke="#333" stroke-width="1.2"/>
<line x1="433.5" y1="835.8" x2="433.5" y2="840.8" stroke="#333" stroke-width="1.2"/>
<line x1="504.2" y1="835.8" x2="504.2" y2="840.8" stroke="#333" stroke-width="1.2"/>
<line x1="575" y1="831.8" x2="575" y2="840.8" stroke="#333" stroke-width="1.2"/>
<line x1="644.2" y1="835.8" x2="644.2" y2="840.8" stroke="#333" stroke-width="1.2"/>
<line x1="714.1" y1="835.8" x2="714.1" y2="840.8" stroke="#333" stroke-width="1.2"/>
<line x1="784.8" y1="835.8" x2="784.8" y2="840.8" stroke="#333" stroke-width="1.2"/>
<line x1="855.6" y1="831.8" x2="855.6" y2="840.8" stroke="#333" stroke-width="1.2"/>
<line x1="924.7" y1="835.8" x2="924.7" y2="840.8" stroke="#333" stroke-width="1.2"/>
<line x1="994.7" y1="835.8" x2="994.7" y2="840.8" stroke="#333" stroke-width="1.2"/>
<line x1="1065.4" y1="835.8" x2="1065.4" y2="840.8" stroke="#333" stroke-width="1.2"/>
<line x1="1136.2" y1="831.8" x2="1136.2" y2="840.8" stroke="#333" stroke-width="1.2"/>
<line x1="1205.3" y1="835.8" x2="1205.3" y2="840.8" stroke="#333" stroke-width="1.2"/>
<line x1="1275.3" y1="835.8" x2="1275.3" y2="840.8" stroke="#333" stroke-width="1.2"/>
<line x1="1346" y1="835.8" x2="1346" y2="840.8" stroke="#333" stroke-width="1.2"/>
<line x1="1416.7" y1="831.8" x2="1416.7" y2="840.8" stroke="#333" stroke-width="1.2"/>
<line x1="1486.7" y1="835.8" x2="1486.7" y2="840.8" stroke="#333" stroke-width="1.2"/>
<line x1="1556.7" y1="835.8" x2="1556.7" y2="840.8" stroke="#333" stroke-width="1.2"/>
<line x1="1627.4" y1="835.8" x2="1627.4" y2="840.8" stroke="#333" stroke-width="1.2"/>
<line x1="1698.1" y1="831.8" x2="1698.1" y2="840.8" stroke="#333" stroke-width="1.2"/>
<line x1="1767.3" y1="835.8" x2="1767.3" y2="840.8" stroke="#333" stroke-width="1.2"/>
<line x1="1837.2" y1="835.8" x2="1837.2" y2="840.8" stroke="#333" stroke-width="1.2"/>
<line x1="1908" y1="835.8" x2="1908" y2="840.8" stroke="#333" stroke-width="1.2"/>
<line x1="1978.7" y1="831.8" x2="1978.7" y2="840.8" stroke="#333" stroke-width="1.2"/>
<line x1="293.6" y1="868" x2="293.6" y2="1669" stroke="#dedede" stroke-width="1.2" stroke-dasharray="2,4"/>
<line x1="575" y1="868" x2="575" y2="1669" stroke="#dedede" stroke-width="1.2" stroke-dasharray="2,4"/>
<line x1="855.6" y1="868" x2="855.6" y2="1669" stroke="#dedede" stroke-width="1.2" stroke-dasharray="2,4"/>
<line x1="1136.2" y1="868" x2="1136.2" y2="1669" stroke="#dedede" stroke-width="1.2" stroke-dasharray="2,4"/>
<line x1="1416.7" y1="868" x2="1416.7" y2="1669" stroke="#dedede" stroke-width="1.2" stroke-dasharray="2,4"/>
<line x1="1698.1" y1="868" x2="1698.1" y2="1669" stroke="#dedede" stroke-width="1.2" stroke-dasharray="2,4"/>
<line x1="1978.7" y1="868" x2="1978.7" y2="1669" stroke="#dedede" stroke-width="1.2" stroke-dasharray="2,4"/>
<rect x="1151.2" y="867" width="6.7" height="803" fill="#dadada"/>
<rect x="1153.9" y="867" width="2.8" height="803" fill="#c6c6c6"/>
<rect x="1291" y="867" width="6.3" height="803" fill="#dadada"/>
<rect x="1293.3" y="867" width="2.8" height="803" fill="#c6c6c6"/>
<g id="data_b">
<path d="M866.2,1402.7 L1078.6,1402.6 L1078.6,1402.6 L1073.8,1406.5 L1073,1431.5 L1072.6,1436 L1069.4,1436 L1069,1433.2 L1068.6,1410.2 L1068.2,1408.6 L1066.2,1408.6 L1065.8,1404.3 L995.4,1406.1 L995,1408.6 L993,1408.6 L990.6,1411.7 L990.2,1406.7 L983.8,1408 L983.4,1421.8 L981,1425.2 L979.8,1444.3 L975.4,1444.3 L973.8,1441.9 L961.8,1435 L961.4,1435.9 L960.6,1466.9 L960.2,1471.7 L957.4,1471.7 L957,1469.9 L955.8,1454.9 L954.6,1470.6 L950.6,1472.8 L949.4,1517.6 L945.4,1517.6 L944.2,1473 L939.8,1481.8 L939.4,1485.3 L938.2,1513.3 L937.8,1517.5 L935.8,1529.5 L934.6,1566.9 L931,1566.9 L929.8,1546.7 L927,1546.7 L926.6,1548 L925.8,1564 L925.4,1565.7 L921.4,1565.8 L920.2,1567.8 L919,1625.2 L914.6,1625.2 L914.2,1623.7 L912.2,1590.9 L908.2,1568.7 L907,1609.8 L905,1609.8 L904.6,1608.7 L903.8,1603.8 L901,1603.8 L899.8,1632.4 L897.8,1632.4 L897.4,1605 L897,1605 L896.6,1632.4 L894.2,1632.1 L893,1628.1 L892.6,1627.9 L888.2,1633.4 L887,1646.8 L883.4,1649 L882.2,1635.7 L879.8,1631.7 L878.6,1626.6 L873.8,1626.3 L872.6,1609.3 L872.2,1608 L871.4,1615.7 L866.2,1615.7Z M1080.4,1402.6 L1090.4,1402.7 L1090.8,1403.9 L1097.6,1410.9 L1101.2,1408.7 L1101.6,1409.7 L1114.4,1470.7 L1121.6,1482.9 L1145.2,1553.7 L1150,1551.4 L1157.2,1510.3 L1159.6,1482.3 L1164.4,1475.2 L1168.8,1473 L1173.6,1463.8 L1178.4,1412.7 L1178.8,1410.7 L1185.6,1402.8 L1381.6,1402.7 L1382.4,1425.4 L1386.8,1457.8 L1386.8,1561.4 L1385.6,1601.4 L1382.4,1601.4 L1381.6,1593.6 L1379.6,1580.5 L1378.4,1559.8 L1374,1559.8 L1372.8,1515.3 L1367.2,1468.7 L1366,1506.2 L1364.4,1506.2 L1363.2,1525.2 L1359.6,1525.2 L1358.4,1475.2 L1354.8,1475.2 L1353.6,1403.8 L1342.4,1403.8 L1342,1419 L1341.6,1422.9 L1338,1422.9 L1337.6,1422.1 L1337.2,1406.1 L1336.8,1403.8 L1324,1403.8 L1323.6,1404.2 L1319.2,1404.6 L1318.8,1403.9 L1276.4,1406.1 L1276,1410.6 L1274,1410.9 L1271.6,1413.2 L1271.2,1407.1 L1262.4,1410 L1262,1422.8 L1259.6,1425.2 L1257.2,1429.9 L1256.8,1413 L1252.8,1416 L1252.4,1439.5 L1250,1444.3 L1246.4,1448.8 L1246,1454.8 L1245.2,1477.6 L1241.6,1477.6 L1240.4,1472.9 L1238,1472.9 L1237.6,1441 L1236,1441 L1235.6,1472.9 L1233.6,1472.9 L1233.2,1473.5 L1230.8,1484.8 L1227.2,1484.8 L1226,1511 L1221.6,1511 L1220.4,1497 L1216.8,1512.7 L1215.6,1551.4 L1213.2,1551.4 L1212.8,1552.6 L1212,1568.6 L1211.6,1570.5 L1207.2,1570.5 L1206,1544.3 L1202.4,1544.3 L1201.6,1552.1 L1201.2,1553.8 L1197.6,1554.1 L1196.8,1565.1 L1196.4,1566.9 L1193.2,1566.9 L1192.8,1566.4 L1192,1559.4 L1191.6,1558.6 L1187.2,1558.6 L1185.6,1570.5 L1181.2,1570.5 L1180.8,1572 L1179.6,1584 L1179.2,1585.2 L1176.4,1589.2 L1175.2,1599 L1170.8,1599 L1170.4,1599.7 L1169.2,1609.7 L1168.8,1611 L1165.6,1611 L1165.2,1612 L1164.4,1633 L1164,1636 L1160.8,1636 L1160.4,1634.3 L1159.6,1617.3 L1159.2,1615.7 L1157.2,1615.7 L1156.8,1568.9 L1156.4,1569.3 L1156,1615.7 L1154,1615.7 L1153.6,1618.9 L1152.4,1636.9 L1152,1637.4 L1148.8,1639.4 L1147.6,1643.1 L1143.6,1643.1 L1143.2,1642.8 L1142,1639.8 L1135.6,1631.8 L1130.8,1608.3 L1128.4,1604.3 L1128,1604.4 L1127.2,1609.4 L1126.8,1609.8 L1124,1609.8 L1122.8,1594.2 L1119.2,1590.8 L1116.8,1590.7 L1116.4,1541.9 L1116,1590.7 L1114,1590.7 L1112.8,1597.9 L1109.2,1597.9 L1108,1570.5 L1105.6,1570.5 L1105.2,1569.7 L1101.6,1487 L1101.2,1483.2 L1097.6,1497.5 L1096.8,1531.5 L1096.4,1537.1 L1094,1537.1 L1092.8,1544.3 L1090.4,1544.3 L1090,1513.3 L1089.2,1513.3 L1088.8,1544.3 L1086.8,1544.3 L1085.6,1539 L1085.2,1534.2 L1084.4,1472.2 L1084,1462.9 L1081.6,1458.9 L1080.4,1402.6Z M1390.8,1461.7 L1402.4,1472.9 L1411.6,1472.9 L1412,1473.2 L1419.2,1496.8 L1428.4,1506 L1435.6,1501.5 L1440.4,1473.3 L1442,1424.5 L1442.4,1402.7 L1593.2,1402.7 L1593.2,1402.7 L1592.8,1403.8 L1557.2,1407 L1556.8,1406 L1548.8,1405.7 L1548.4,1410.2 L1546.4,1410.9 L1546,1414 L1545.2,1426.4 L1541.6,1426.4 L1540.4,1420.5 L1538,1420.5 L1537.6,1405.3 L1533.6,1405.1 L1533.2,1420.5 L1531.2,1420.5 L1528.8,1421.8 L1528.4,1404.9 L1526,1404.8 L1525.6,1423.8 L1523.6,1425.1 L1523.2,1428.1 L1522.4,1445.1 L1522,1445.5 L1519.2,1445.5 L1518,1432.4 L1515.6,1432.4 L1515.2,1404.4 L1514.8,1404.4 L1514.4,1432.4 L1512,1432.4 L1509.6,1446.2 L1509.2,1446.8 L1507.2,1447.7 L1506.8,1405.3 L1506.4,1448.1 L1504.4,1449 L1503.2,1488.3 L1499.2,1488.3 L1498.4,1470.4 L1495.2,1468.2 L1492.8,1474 L1488,1600.2 L1484.4,1600.2 L1482.4,1559 L1478.4,1508.6 L1476.4,1508.6 L1476,1491.2 L1475.6,1492.2 L1475.2,1508.6 L1473.2,1508.6 L1472.8,1510.4 L1470.4,1591.9 L1466.4,1591.9 L1466,1588 L1464.4,1555 L1464,1552.8 L1462,1553.8 L1461.6,1520.5 L1461.2,1520.5 L1460.8,1522.8 L1460.4,1528.8 L1460,1554.9 L1458,1556 L1457.6,1557 L1456.8,1591 L1456.4,1596.7 L1453.2,1596.7 L1452.8,1595.1 L1452,1573.1 L1451.6,1570.5 L1449.2,1570.5 L1447.6,1584.8 L1445.2,1584.8 L1444.8,1549 L1444.4,1584.8 L1442,1584.8 L1440,1580 L1439.2,1606 L1438.8,1611 L1434.8,1611 L1433.2,1632.4 L1429.6,1632.4 L1428.4,1640.7 L1424.8,1640.7 L1421.2,1627.5 L1417.6,1626.3 L1416.8,1619.3 L1416.4,1618 L1412,1615.8 L1410.8,1591.5 L1409.2,1587.5 L1408,1575.2 L1406.4,1575.2 L1406,1576.1 L1402.4,1591.8 L1401.6,1605.6 L1401.2,1608.6 L1396.8,1608.6 L1395.6,1591.9 L1392,1591.9 L1390.8,1496.7Z M1602.8,1402.7 L1603.2,1262.6 L1607.6,1262.6 L1607.6,1262.6 L1603.2,1262.6 L1602.8,1402.7Z M1636.8,1402.7 L1768.8,1402.7 L1768.8,1402.7 L1636.8,1402.7Z" fill="#b9fbc0"/>
<rect x="982.4" y="1261.4" width="4.3" height="141.2" fill="#b9fbc0"/>
<rect x="987.1" y="1232.9" width="3.3" height="169.8" fill="#b9fbc0"/>
<rect x="990.5" y="1213.8" width="3.3" height="188.9" fill="#b9fbc0"/>
<rect x="996.7" y="1197.1" width="3.3" height="205.5" fill="#b9fbc0"/>
<rect x="1001.4" y="1171" width="3.8" height="231.7" fill="#b9fbc0"/>
<rect x="1006.2" y="1155.5" width="3.8" height="247.2" fill="#b9fbc0"/>
<rect x="1011" y="1128.1" width="3.3" height="274.6" fill="#b9fbc0"/>
<rect x="1014.3" y="1104.3" width="3.3" height="298.4" fill="#b9fbc0"/>
<rect x="1019" y="1055.5" width="6.2" height="347.2" fill="#b9fbc0"/>
<rect x="1025.2" y="1073.3" width="4.8" height="329.3" fill="#b9fbc0"/>
<rect x="1196.7" y="1366.2" width="5.7" height="36.5" fill="#b9fbc0"/>
<rect x="1202.4" y="1373.3" width="3.3" height="29.3" fill="#b9fbc0"/>
<rect x="1224.8" y="1337.1" width="4.3" height="65.5" fill="#b9fbc0"/>
<rect x="1229" y="1342.4" width="1.9" height="60.3" fill="#b9fbc0"/>
<rect x="1237.6" y="1266.2" width="4.3" height="136.5" fill="#b9fbc0"/>
<rect x="1242.9" y="1242.4" width="2.9" height="160.3" fill="#b9fbc0"/>
<rect x="1246.2" y="1199.5" width="1.9" height="203.1" fill="#b9fbc0"/>
<rect x="1248.1" y="1159" width="1.9" height="243.6" fill="#b9fbc0"/>
<rect x="1251" y="1105.5" width="4.8" height="297.2" fill="#b9fbc0"/>
<rect x="1255.7" y="1116.2" width="3.8" height="286.5" fill="#b9fbc0"/>
<rect x="1259.5" y="1094.8" width="3.8" height="307.9" fill="#b9fbc0"/>
<rect x="1263.3" y="1047.1" width="5.7" height="355.5" fill="#b9fbc0"/>
<rect x="1269" y="1023.3" width="2.4" height="379.3" fill="#b9fbc0"/>
<rect x="1271.4" y="973.8" width="5.2" height="428.9" fill="#b9fbc0"/>
<rect x="1276.7" y="985.2" width="4.3" height="417.4" fill="#b9fbc0"/>
<rect x="1281" y="978.1" width="2.4" height="424.6" fill="#b9fbc0"/>
<rect x="1321.4" y="1104.3" width="6.2" height="298.4" fill="#b9fbc0"/>
<rect x="1350" y="1209" width="4.8" height="193.6" fill="#b9fbc0"/>
<rect x="1552.4" y="1116.2" width="4.8" height="286.5" fill="#b9fbc0"/>
<rect x="1558.6" y="1066.2" width="4.8" height="336.5" fill="#b9fbc0"/>
<rect x="1563.3" y="1080.5" width="3.3" height="322.2" fill="#b9fbc0"/>
<rect x="1568.1" y="1049" width="5.2" height="353.6" fill="#b9fbc0"/>
<rect x="1573.3" y="1061.4" width="4.3" height="341.2" fill="#b9fbc0"/>
<rect x="1578.6" y="1036.4" width="4.8" height="366.2" fill="#b9fbc0"/>
<rect x="1583.3" y="1031.7" width="4.3" height="371" fill="#b9fbc0"/>
<rect x="1587.6" y="1054.3" width="1.9" height="348.4" fill="#b9fbc0"/>
<rect x="1590.5" y="1201.9" width="2.4" height="200.8" fill="#b9fbc0"/>
<rect x="1602.9" y="1236.4" width="4.8" height="166.2" fill="#b9fbc0"/>
<path d="M866.2,1402.6 L889,1402.6 L889.4,1388.9 L889.8,1384 L893,1384 L893.4,1386.6 L893.8,1402.2 L894.2,1402.6 L907.8,1402.6 L908.2,1395.4 L908.6,1369.8 L914.2,1369.8 L915,1402.6 L918.2,1402.6 L918.6,1396.3 L919,1307.7 L919.4,1297.1 L922.6,1297.1 L923,1298 L924.2,1305 L924.6,1305.5 L927.4,1305.5 L929,1308.9 L931.8,1364.4 L933,1369.8 L933.4,1368.1 L935.4,1292.7 L936.2,1282.9 L939.4,1282.9 L940.6,1279.3 L944.6,1279.3 L945.8,1282.9 L947,1282.9 L947.8,1326.3 L952.2,1273.3 L952.6,1271.7 L955.8,1271.7 L956.2,1271.8 L957.4,1291.5 L958.6,1298.3 L961.8,1298.3 L963,1311.5 L966.6,1312.6 L967.8,1323.4 L969.8,1324.4 L971.4,1331.5 L973.8,1332.9 L975.8,1352 L977,1354 L981.8,1272 L985,1246.1 L986.6,1239.1 L987,1238.9 L990.6,1239.9 L992.6,1238.9 L993,1241.1 L993.8,1254.1 L995.4,1227.1 L1004.6,1164.6 L1007,1157.1 L1009.8,1155.6 L1019,1090.3 L1025,1090 L1025.8,1099.3 L1026.6,1075.3 L1027,1073.3 L1030.6,1073.3 L1031,1073.7 L1031.8,1079.7 L1032.2,1080.5 L1034.2,1080.5 L1035.8,1066 L1040.2,1055.1 L1041.4,1047.4 L1045.4,1047.1 L1045.8,1054.4 L1047,1140.6 L1047.8,1166.7 L1048.6,1179.2 L1051.4,1172.2 L1056.2,1172.2 L1057,1173.2 L1061.8,1173.3 L1064.2,1196.4 L1065.4,1200.9 L1065.8,1203.4 L1068.2,1235.2 L1071.4,1235.2 L1072.6,1264 L1073.8,1278 L1077,1278.1 L1078.2,1355.6 L1078.6,1402.6 L1078.6,1402.6 L1073.8,1404.5 L1073,1424.1 L1072.6,1427.6 L1069.4,1427.6 L1069,1425.3 L1068.6,1405.7 L1068.2,1404.3 L981,1408.6 L979.8,1425.2 L975,1425.2 L974.6,1426.5 L973.8,1432.4 L969.4,1432.4 L969,1436 L968.2,1497 L967.8,1505 L964.6,1505 L964.2,1491.5 L963.8,1430 L961,1430 L959.4,1449 L955,1449 L952.6,1451.2 L952.2,1452.3 L950.2,1462.3 L949,1487.1 L945,1487.1 L944.6,1480.7 L943.8,1449 L939.4,1449 L939,1449.8 L938.2,1461.8 L937.8,1463.3 L932.6,1463.3 L932.2,1467.6 L929.8,1518.1 L927.4,1518.1 L927,1519.9 L926.2,1529.9 L921.8,1530 L921.4,1530.5 L919,1591.9 L912.6,1591.9 L912.2,1578.3 L911.4,1520.5 L908.2,1520.5 L907,1568.1 L900.6,1568.1 L899.4,1605 L894.6,1605 L894.2,1600.9 L893.8,1582.5 L893,1594.5 L892.6,1596.7 L888.6,1596.7 L887.8,1610.2 L887.4,1613.3 L883,1613.3 L881.8,1599 L879.8,1599 L879.4,1598.1 L878.6,1592.1 L878.2,1591.9 L873.8,1591.8 L872.6,1575.8 L872.2,1574.2 L871.4,1580 L866.2,1580Z M1080.4,1402.6 L1081.2,1330.5 L1085.6,1330.5 L1086.4,1343.7 L1088,1353.7 L1090.4,1401.4 L1090.8,1403.9 L1097.6,1410.9 L1101.2,1408.7 L1101.6,1409.7 L1114.4,1470.7 L1121.6,1482.9 L1145.2,1553.7 L1150,1551.4 L1157.2,1510.3 L1159.6,1482.3 L1164.4,1475.2 L1168.8,1473 L1173.6,1463.8 L1178.4,1412.7 L1178.8,1410.7 L1185.6,1402.8 L1186,1402.6 L1186.8,1378.1 L1190.4,1378.1 L1191.6,1373.3 L1195.2,1373.3 L1196.4,1383.2 L1197.6,1385.2 L1199.2,1390 L1202.4,1390 L1205.6,1387.7 L1207.2,1402.6 L1211.6,1402.6 L1212,1398.5 L1212.8,1363.9 L1213.2,1361.1 L1214.4,1360.2 L1218,1360.2 L1220.4,1373 L1221.6,1402.6 L1222.8,1402.6 L1223.6,1368.3 L1224.8,1356.5 L1226,1352.5 L1226.4,1351.9 L1228.4,1351.9 L1230,1349.5 L1237.2,1280.5 L1241.6,1280.5 L1242,1278.6 L1242.8,1262.6 L1245.2,1247.4 L1250,1187.6 L1251.6,1187.6 L1252,1188.3 L1253.2,1196.3 L1253.6,1197.1 L1255.6,1197.1 L1257.2,1192 L1262,1158.8 L1264,1152.8 L1276.8,1008.7 L1278.4,1004.7 L1279.6,985.2 L1283.2,985.2 L1284.4,966.2 L1288,966.2 L1289.2,927.6 L1293.2,927.6 L1294.4,977.7 L1296,971.7 L1297.6,948.6 L1300,929.8 L1304,929.8 L1304.4,931.3 L1306,950 L1306.4,951.9 L1308,951.9 L1308.8,966 L1309.2,966.6 L1310,943.6 L1313.2,943.6 L1316.4,1059.2 L1316.8,1067.4 L1318.8,1067.4 L1319.2,1071.3 L1320.4,1102.3 L1320.8,1104.4 L1326,1105.4 L1328.4,1137.9 L1328.8,1140.1 L1330.8,1141.1 L1332.4,1152.5 L1333.6,1186.9 L1334.8,1198.9 L1335.6,1185.9 L1336,1184 L1338.8,1184 L1339.2,1184.6 L1340,1187.6 L1344.4,1187.6 L1344.8,1188 L1345.6,1196 L1346,1197.5 L1347.6,1199.5 L1348.4,1217.1 L1348.8,1219.4 L1350,1211.4 L1354.4,1211.4 L1354.8,1212.7 L1356.8,1262.3 L1359.2,1280.5 L1361.2,1280.5 L1361.6,1287.3 L1362.4,1318.6 L1364.4,1323.3 L1366.4,1323.3 L1366.8,1322.4 L1368,1314.4 L1368.4,1313.8 L1371.2,1313.8 L1371.6,1316.8 L1377.6,1380.3 L1381.2,1401.4 L1381.6,1402.6 L1382.4,1425.4 L1386.8,1457.8 L1386.8,1536.3 L1386.4,1545.9 L1385.6,1556.2 L1381.6,1556.2 L1376,1524.9 L1374,1520.9 L1370,1496.7 L1369.2,1468.7 L1368.8,1463.3 L1365.6,1463.3 L1365.2,1463.7 L1364.4,1471.7 L1364,1473 L1359.6,1475.2 L1358.4,1434.8 L1354.8,1434.8 L1353.6,1403.8 L1274,1406.2 L1246,1420.4 L1245.6,1447.4 L1245.2,1456.9 L1240.8,1456.9 L1240.4,1454.4 L1240,1441 L1235.2,1441 L1234.4,1464 L1228.8,1464 L1228,1480 L1222.4,1480 L1222,1464 L1221.6,1460 L1217.6,1460 L1216.8,1513.3 L1213.6,1513.3 L1213.2,1526.3 L1212.8,1530 L1206.8,1530 L1206.4,1528.8 L1206,1512 L1205.6,1510 L1200.8,1510 L1200.4,1511.8 L1200,1521 L1194.8,1521 L1194,1520 L1179.6,1520.5 L1178.4,1545 L1176,1553.9 L1172.8,1556.5 L1171.2,1563.4 L1161.2,1567.9 L1160.8,1570.4 L1159.6,1588.4 L1158.8,1591.3 L1158.4,1587.6 L1157.6,1568.1 L1155.2,1570.8 L1154,1580.8 L1151.6,1592.3 L1148.8,1596.3 L1148.4,1598.6 L1147.6,1607.4 L1143.2,1607.4 L1142.8,1607 L1142,1602 L1141.6,1601.2 L1139.2,1599.2 L1136,1592.5 L1131.6,1573.7 L1130,1558.6 L1128.4,1552.6 L1128,1552.7 L1127.2,1563.7 L1126.8,1564.5 L1124,1564.5 L1122.8,1553.7 L1120.4,1548.7 L1119.2,1542.7 L1118.8,1541.9 L1114,1541.9 L1112.8,1546.6 L1109.2,1544.4 L1108,1525.2 L1105.6,1525.2 L1105.2,1524.9 L1102.8,1499.3 L1101.6,1455.3 L1101.2,1455.9 L1100.4,1477.7 L1097.6,1482.8 L1096.8,1500.8 L1096.4,1503.8 L1094,1503.8 L1092.8,1513.3 L1085.6,1513.3 L1085.2,1511 L1084.4,1461 L1084,1453.3 L1081.6,1449.3 L1080.4,1402.6Z M1390.8,1461.7 L1402.4,1472.9 L1411.6,1472.9 L1412,1473.2 L1419.2,1496.8 L1428.4,1506 L1435.6,1501.5 L1440.4,1473.3 L1442,1424.5 L1442.4,1391 L1442.8,1402.6 L1460.4,1402.6 L1460.8,1396 L1464,1396 L1464.8,1402.6 L1466.8,1402.6 L1467.2,1398.2 L1468.8,1326.8 L1469.2,1317.3 L1470.4,1307.3 L1470.8,1306.7 L1474,1306.7 L1474.4,1309.5 L1476.4,1355.5 L1477.6,1362.5 L1483.2,1373.1 L1485.6,1366.5 L1487.2,1353.6 L1488,1343.6 L1490,1292.4 L1490.4,1291.4 L1494,1291.2 L1494.4,1292.8 L1495.2,1303.8 L1495.6,1304.5 L1497.6,1305.5 L1498.4,1324 L1498.8,1326.6 L1504.4,1275.7 L1508.4,1275.7 L1509.6,1269.8 L1512.8,1269.8 L1514,1290.2 L1516.4,1292.2 L1516.8,1293.5 L1520,1318.6 L1521.2,1338.6 L1521.6,1336 L1523.6,1280.3 L1524,1275.4 L1525.2,1273.4 L1528.4,1273.3 L1530,1268.6 L1533.6,1264.1 L1535.6,1254.9 L1536,1254.3 L1538.8,1254.3 L1539.2,1256.6 L1540,1268.6 L1542.4,1266 L1544.4,1244.3 L1547.6,1176.2 L1552.4,1140 L1556.8,1140 L1557.2,1139.5 L1558.4,1129.5 L1559.6,1106.7 L1564,1106.7 L1564.4,1109.3 L1565.6,1137.3 L1566,1137.5 L1569.6,1112.6 L1572.8,1112.6 L1574,1118.7 L1576,1119.7 L1577.6,1111.5 L1579.2,1099.5 L1582.4,1099.7 L1583.2,1105.7 L1583.6,1106.7 L1586.8,1106.7 L1587.2,1108 L1588,1126 L1589.6,1200.5 L1590.8,1216.5 L1591.2,1218.6 L1592.8,1218.6 L1593.2,1351.1 L1593.2,1402.7 L1592.8,1407.4 L1502.4,1406.2 L1497.6,1411.1 L1492.8,1450.5 L1490.8,1509 L1488,1556.2 L1484.4,1556.2 L1482.4,1532.6 L1478.8,1510 L1477.6,1487.2 L1474,1496.2 L1471.6,1509.9 L1470.4,1552.6 L1466.8,1552.6 L1465.2,1541 L1464.4,1523 L1464,1520.5 L1461.2,1520.5 L1460.8,1522.8 L1458.4,1555 L1453.6,1555 L1453.2,1553.5 L1451.6,1532.6 L1451.2,1530.1 L1447.6,1532.7 L1446.8,1546.7 L1446.4,1549 L1441.6,1549 L1439.6,1537.6 L1438,1563.5 L1434.8,1568 L1433.2,1587.3 L1429.6,1591.8 L1428.4,1602.6 L1424.8,1602.6 L1421.2,1589.5 L1416.8,1588.4 L1416.4,1587.2 L1408,1532.4 L1404.8,1534.7 L1403.6,1542.5 L1402.4,1564.1 L1402,1564.5 L1396.8,1564.5 L1395.2,1549 L1392,1544.4 L1390.8,1484.6Z M1602.8,1402.7 L1603.2,1246 L1607.6,1246 L1607.6,1262.6 L1603.2,1262.6 L1602.8,1402.7Z M1636.8,1402.7 L1655.2,1402.6 L1664.8,1416.9 L1672,1447.7 L1679.2,1457.6 L1680.4,1431.8 L1680.8,1430.3 L1684,1430.3 L1685.2,1459.2 L1685.6,1460.3 L1693.6,1465 L1703.2,1544.8 L1706.8,1603.8 L1710,1623 L1710.4,1623.7 L1712.4,1605.7 L1714,1547.4 L1715.2,1480.8 L1716.4,1457.7 L1722,1457.7 L1726.8,1450.8 L1730.8,1435.8 L1732.8,1431.8 L1736.4,1431.5 L1737.6,1440.1 L1738,1440.8 L1743.6,1436.3 L1749.6,1403.1 L1750.8,1389 L1753.6,1380.5 L1756.8,1380.2 L1757.2,1377.6 L1760,1346.6 L1762.8,1340.8 L1768.8,1339.7 L1768.8,1522.1 L1767.6,1522.1 L1766.4,1525.9 L1766,1530.1 L1765.2,1554.1 L1762,1578.1 L1760.4,1614.7 L1760,1615.2 L1756.8,1615.2 L1756.4,1609 L1755.6,1579.4 L1752.8,1579.4 L1751.6,1603.2 L1747.6,1603.2 L1746,1556.9 L1745.2,1572.9 L1744.8,1575 L1741.6,1579 L1741.2,1581.8 L1740.4,1601.8 L1740,1603.2 L1736.8,1603.2 L1736.4,1602.1 L1735.6,1595.1 L1735.2,1594.9 L1730.4,1594.9 L1729.2,1586.5 L1724.8,1586.5 L1724.4,1584.2 L1723.2,1570.2 L1722.8,1569.8 L1720,1569.8 L1717.6,1578.8 L1716.4,1641.4 L1712.8,1641.4 L1710.4,1634.6 L1710,1634.4 L1706,1636.6 L1704.4,1649.8 L1698.4,1649.8 L1697.2,1641.7 L1691.2,1636.6 L1689.6,1591.3 L1686.4,1591.3 L1684.4,1587.3 L1684,1587.3 L1683.2,1601.3 L1682.8,1603.2 L1680.4,1603.2 L1679.2,1617.6 L1674.8,1617.6 L1674.4,1612.9 L1673.6,1576.9 L1673.2,1574.6 L1670.8,1574.6 L1669.6,1586.5 L1665.2,1586.5 L1664.8,1577.2 L1664,1531.7 L1661.2,1531.7 L1660,1541.2 L1656.4,1541.2 L1655.6,1529.6 L1655.2,1526.9 L1650.8,1526.9 L1649.6,1537.6 L1645.6,1537.6 L1644.4,1517.4 L1642.4,1517.4 L1642,1518.1 L1641.2,1528.1 L1640.8,1529.3 L1637.2,1529.3 L1636.8,1402.7Z" fill="#f8c98d"/>
<path d="M1001.4,1402.6 L1001.4,1353.1 L1007.1,1353.1 L1007.1,1402.6Z" fill="#fff"/>
<path d="M1017.6,1402.6 L1017.6,1324.5 L1028.6,1324.5 L1028.6,1402.6Z" fill="#fff"/>
<path d="M1042.4,1402.6 L1042.4,1337.6 L1047.1,1337.6 L1047.1,1402.6Z" fill="#fff"/>
<path d="M1053.8,1402.6 L1053.8,1356.7 L1063.1,1356.7 L1063.1,1402.6Z" fill="#fff"/>
<path d="M1264.3,1402.6 L1271.4,1318.6 L1276.2,1261.4 L1283.3,1242.4 L1288.1,1223.3 L1292.9,1199.5 L1314.3,1199.5 L1317.9,1247.1 L1321.4,1294.8 L1331,1306.7 L1335.7,1354.3 L1340.5,1402.6Z" fill="#fff"/>
<path d="M1532.4,1402.6 L1532.4,1380.5 L1544.3,1380.5 L1544.3,1402.6Z" fill="#fff"/>
<path d="M1557.6,1402.6 L1557.6,1271 L1561.4,1271 L1561.4,1402.6Z" fill="#fff"/>
<path d="M1046.7,1390 L1046.7,1363.8 L1051.4,1363.8 L1051.4,1390Z" fill="#b9fbc0"/>
<path d="M1052.4,1356.7 L1052.4,1330.5 L1059.5,1330.5 L1059.5,1356.7Z" fill="#b9fbc0"/>
<path d="M1276.2,1261.4 L1276.2,1242.4 L1283.3,1242.4 L1283.3,1261.4Z" fill="#b9fbc0"/>
<path d="M1285.7,1223.3 L1285.7,1190 L1292.9,1190 L1292.9,1223.3Z" fill="#b9fbc0"/>
<path d="M1290.5,1294.8 L1290.5,1218.6 L1314.3,1218.6 L1314.3,1271 L1304.8,1294.8Z" fill="#b9fbc0"/>
<path d="M1314.3,1363.8 L1314.3,1318.6 L1321.4,1318.6 L1321.4,1363.8Z" fill="#b9fbc0"/>
<path d="M1323.8,1366.2 L1323.8,1342.4 L1331,1342.4 L1331,1366.2Z" fill="#b9fbc0"/>
<path d="M1337.6,1402.6 L1337.6,1378.1 L1345.2,1378.1 L1345.2,1402.6Z" fill="#b9fbc0"/>
<path d="M1319,1342.4 L1319,1247.1 L1323.8,1247.1 L1323.8,1342.4Z" fill="#f8c98d"/>
<path d="M1296.4,1261.4 L1296.4,1228.1 L1301.2,1228.1 L1301.2,1261.4Z" fill="#f8c98d"/>
<rect x="1290.6" y="1262" width="7.2" height="140.7" fill="#d8d8d8"/>
<path d="M866.2,1525.2 L866.9,1522.7 L867.8,1519.2 L869,1515.7 L870.5,1512.1 L872.2,1508.7 L873.8,1507.4 L875.4,1509.3 L877,1513.4 L878.6,1518.1 L880.2,1523.4 L881.8,1529.3 L883.3,1534.8 L884.6,1540.3 L885.8,1545.3 L886.9,1546.7 L888.1,1541.9 L889.3,1533.4 L890.5,1525.2 L891.7,1517.5 L892.9,1510.1 L894,1506.2 L895.2,1509 L896.3,1515.3 L897.6,1519.3 L899.1,1518.3 L900.7,1515 L902.4,1511 L904,1506.4 L905.6,1501.2 L907.1,1496.7 L908.4,1492.7 L909.6,1489.3 L910.7,1488.3 L911.9,1491.2 L913.1,1496.5 L914.3,1501.4 L915.5,1505.7 L916.7,1509.7 L917.9,1511 L919,1508.1 L920.1,1502.7 L921.4,1496.7 L922.9,1490.4 L924.6,1483.6 L926.2,1477.6 L927.8,1472.2 L929.5,1467.7 L931,1465.7 L932.3,1468.9 L933.5,1474.7 L934.5,1477.6 L935.4,1475.1 L936.1,1469.6 L936.9,1463.3 L938,1456.5 L939.2,1449 L940.5,1441.9 L942,1435.8 L943.7,1430.3 L945.2,1425.2 L946.5,1421.2 L947.7,1417.6 L948.8,1413.3 L950,1407 L951.3,1400 L952.4,1394.8 L953.2,1392.8 L953.9,1392.7 L954.8,1392.4 L955.9,1391.1 L957.1,1389.6 L958.3,1388.8 L959.5,1389.5 L960.7,1390.8 L961.9,1391.2 L963.1,1389.3 L964.3,1386.6 L965.5,1385.2 L966.7,1387 L967.9,1390.2 L969,1392.4 L970.2,1392.2 L971.4,1391.1 L972.6,1390 L973.8,1389.9 L975,1389.9 L976.2,1388.8 L977.4,1386.2 L978.6,1382.5 L979.8,1378.1 L981,1373.1 L982.1,1367.4 L983.3,1361.4 L984.5,1355.3 L985.7,1349 L986.9,1342.4 L988.1,1334.7 L989.3,1326.7 L990.5,1321 L991.7,1318.8 L992.9,1318.9 L994,1319.8 L995.2,1322.1 L996.4,1325.1 L997.6,1325.7 L998.8,1321.7 L1000,1315.3 L1001.2,1309 L1002.4,1303.8 L1003.6,1298.9 L1004.8,1294.8 L1006,1291.9 L1007.1,1289.7 L1008.3,1287.6 L1009.5,1285.5 L1010.7,1283.4 L1011.9,1280.5 L1013.1,1276.4 L1014.3,1271.6 L1015.5,1266.2 L1016.7,1259.9 L1017.9,1253.1 L1019,1247.1 L1019.8,1242.2 L1020.5,1238.1 L1021.4,1235.2 L1022.8,1234.3 L1024.5,1234.7 L1026.2,1235.2 L1027.8,1235.4 L1029.5,1235.6 L1031,1236.4 L1032.2,1238.1 L1033.4,1240.3 L1034.5,1242.4 L1035.8,1244.4 L1037,1246.3 L1038.1,1247.1 L1038.9,1246.1 L1039.6,1244.1 L1040.5,1242.4 L1041.6,1241.1 L1043,1240.2 L1044,1241.2 L1044.7,1245.2 L1045.2,1251 L1045.7,1256.7 L1046.4,1261.7 L1047.2,1266.6 L1048.1,1271 L1049.1,1274.9 L1050.1,1278.3 L1051.2,1280.5 L1052.3,1280.8 L1053.5,1279.9 L1054.8,1279.3 L1056.3,1279.4 L1058,1279.7 L1059.5,1280.5 L1060.8,1281.6 L1061.9,1283.2 L1063.1,1285.2 L1064.3,1287.9 L1065.6,1291.1 L1066.7,1294.8 L1067.5,1299.2 L1068.3,1304.1 L1069,1309 L1069.8,1313.9 L1070.6,1318.7 L1071.4,1323.3 L1072.2,1327.7 L1073,1331.7 L1073.8,1335.2 L1074.7,1338.2 L1075.6,1340.7 L1076.2,1342.4" fill="none" stroke="#c07a5e" stroke-width="5" stroke-linejoin="round" stroke-linecap="round"/>
<path d="M1080.5,1356.7 L1080.8,1358.6 L1081.4,1361.6 L1082.1,1366.2 L1083.2,1373.2 L1084.5,1381.7 L1085.7,1390 L1086.6,1397.5 L1087.3,1404.7 L1088.1,1411 L1089.2,1415.7 L1090.4,1419.4 L1091.7,1422.9 L1092.9,1427 L1094,1430.9 L1095.2,1432.4 L1096.5,1429.4 L1097.7,1424 L1098.8,1420.5 L1099.6,1420.7 L1100.4,1422.7 L1101.2,1425.2 L1102.3,1427.9 L1103.5,1431.1 L1104.8,1434.8 L1106,1439.1 L1107.1,1443.9 L1108.3,1449 L1109.5,1454.8 L1110.6,1460.8 L1111.9,1465.7 L1113.4,1468.7 L1115,1470.7 L1116.7,1472.9 L1118.3,1475.9 L1119.8,1479.3 L1121.4,1482.4 L1123.1,1484.9 L1124.7,1487.2 L1126.2,1489.5 L1127.5,1491.8 L1128.6,1494.1 L1129.8,1496.7 L1131,1499.5 L1132.1,1502.6 L1133.3,1506.2 L1134.5,1510.7 L1135.7,1515.7 L1136.9,1520.5 L1138.1,1524.7 L1139.2,1528.7 L1140.5,1532.4 L1142,1536 L1143.6,1539.3 L1145.2,1541.9 L1146.9,1544 L1148.5,1545.4 L1150,1545.5 L1151.3,1544 L1152.4,1541.2 L1153.6,1537.1 L1154.8,1531.1 L1156,1524 L1157.1,1518.1 L1158.4,1513.9 L1159.6,1511 L1160.7,1511 L1161.6,1516.6 L1162.3,1525.1 L1163.1,1530 L1164.2,1527.4 L1165.4,1521.2 L1166.7,1515.7 L1167.9,1512.5 L1169,1510 L1170.2,1508.6 L1171.4,1509.3 L1172.5,1511 L1173.8,1511 L1175.3,1507.4 L1176.9,1502 L1178.6,1496.7 L1180.2,1491.7 L1181.7,1486.8 L1183.3,1482.4 L1184.9,1478.8 L1186.5,1475.7 L1188.1,1472.9 L1189.7,1470.3 L1191.3,1468 L1192.9,1465.7 L1194.4,1463.2 L1195.9,1460.6 L1197.6,1458.6 L1199.9,1457.1 L1202.5,1456.1 L1204.8,1456.2 L1206.6,1458 L1208.1,1461 L1209.5,1463.3 L1210.8,1465.2 L1211.9,1466.5 L1213.1,1465.7 L1214.3,1461.5 L1215.5,1455.1 L1216.7,1449 L1217.9,1443.8 L1219,1438.7 L1220.2,1434.8 L1221.4,1432.6 L1222.5,1431.6 L1223.8,1430 L1225.3,1427.5 L1226.9,1424.5 L1228.6,1420.5 L1230.2,1414.7 L1231.7,1407.8 L1233.3,1401.4 L1234.9,1396.1 L1236.5,1391.4 L1238.1,1387.1 L1239.6,1383.4 L1241.1,1380.3 L1242.9,1377.6 L1245.3,1376.6 L1248.1,1376 L1250,1372.9 L1250.4,1364.6 L1250.1,1353.6 L1250,1344.3 L1250.6,1338.5 L1251.5,1334.4 L1252.4,1330.5 L1253.1,1326 L1253.9,1321.8 L1254.8,1318.6 L1255.9,1317.4 L1257.1,1317.3 L1258.3,1316.2 L1259.5,1312.9 L1260.7,1308.6 L1261.9,1304.3 L1263.1,1300.7 L1264.3,1297.1 L1265.5,1292.4 L1266.7,1285.9 L1267.9,1278.3 L1269,1271 L1269.9,1264.3 L1270.7,1258 L1271.4,1251.9 L1272.2,1245.8 L1272.9,1240 L1273.8,1235.2 L1274.9,1231.8 L1276.1,1229.4 L1277.4,1228.1 L1278.6,1228.4 L1279.9,1229.9 L1281,1230.5 L1281.8,1229.7 L1282.6,1228.1 L1283.3,1225.7 L1284.1,1222.2 L1284.8,1217.9 L1285.7,1213.8 L1286.8,1210.3 L1288.1,1207 L1289.3,1204.3 L1290.5,1201.9 L1291.7,1200.1 L1292.9,1199.5 L1294.1,1201.2 L1295.3,1204.2 L1296.4,1206.7 L1297.3,1208.3 L1298.1,1209.3 L1298.8,1209 L1299.6,1206.6 L1300.4,1202.8 L1301.2,1199.5 L1301.9,1197 L1302.7,1194.9 L1303.6,1194.8 L1304.7,1198 L1306,1203.1 L1307.1,1206.7 L1308,1207.2 L1308.7,1206 L1309.5,1204.3 L1310.5,1201.4 L1311.4,1197.9 L1312.4,1196 L1313.2,1196.7 L1314,1199 L1314.8,1201.9 L1315.4,1205.3 L1316,1209.4 L1316.7,1213.8 L1317.4,1218.6 L1318.2,1223.6 L1319,1228.1 L1319.8,1231.8 L1320.5,1235.1 L1321.4,1237.6 L1322.5,1239.2 L1323.8,1240 L1325,1241.2 L1326.2,1243 L1327.4,1245.2 L1328.6,1247.1 L1329.8,1248.6 L1331,1249.8 L1332.1,1251.9 L1333,1255.2 L1333.8,1259.2 L1334.5,1263.8 L1335.3,1269.2 L1336.1,1275.1 L1336.9,1280.5 L1337.7,1285.1 L1338.4,1289.1 L1339.3,1292.4 L1340.4,1294.6 L1341.6,1296.1 L1342.9,1297.1 L1344,1298 L1345.2,1298.4 L1346.4,1298.3 L1347.6,1297.4 L1348.8,1296 L1350,1294.8 L1351.2,1294.1 L1352.4,1293.7 L1353.6,1293.6 L1354.7,1293.3 L1355.8,1293.3 L1356.7,1294.8 L1357.3,1298.3 L1357.8,1303.3 L1358.3,1309 L1358.9,1315.6 L1359.4,1322.9 L1360,1330.5 L1360.6,1338.7 L1361.3,1347.1 L1361.9,1354.3 L1362.5,1359.7 L1363.1,1363.7 L1363.8,1366.2 L1364.7,1366.5 L1365.6,1365.1 L1366.7,1363.8 L1367.8,1362.5 L1369.1,1361.2 L1370.2,1361.4 L1371.1,1364.2 L1371.9,1368.5 L1372.6,1373.3 L1373.2,1378.7 L1373.8,1384.6 L1374.3,1390 L1374.8,1394.3 L1375.2,1398.2 L1375.7,1402.6 L1376.2,1408.4 L1376.8,1414.8 L1377.4,1420.5 L1378.1,1424.7 L1378.9,1428.3 L1379.8,1432.4 L1380.6,1437.7 L1381.3,1443.5 L1382.1,1449 L1382.9,1454.3 L1383.7,1459.4 L1384.5,1463.3 L1385.4,1465.8 L1386.3,1467.2 L1386.9,1468.1" fill="none" stroke="#c07a5e" stroke-width="5" stroke-linejoin="round" stroke-linecap="round"/>
<path d="M1391.7,1449 L1392.3,1451.4 L1393.2,1454.9 L1394,1458.6 L1394.8,1462.5 L1395.6,1466.8 L1396.4,1470.5 L1397.2,1473.1 L1398,1475.2 L1398.8,1477.6 L1399.6,1481.1 L1400.3,1484.9 L1401.2,1487.1 L1402.3,1486.9 L1403.5,1485 L1404.8,1482.4 L1406,1478.1 L1407.1,1472.9 L1408.3,1470.5 L1409.5,1472.6 L1410.7,1477.4 L1411.9,1482.4 L1413.1,1487.1 L1414.3,1492 L1415.5,1496.7 L1416.7,1501 L1417.9,1505 L1419,1508.6 L1420.2,1511.1 L1421.4,1513.2 L1422.6,1515.7 L1423.8,1519.6 L1425,1524 L1426.2,1527.6 L1427.4,1530.2 L1428.6,1531.9 L1429.8,1532.4 L1431,1531 L1432.1,1528.2 L1433.3,1525.2 L1434.5,1522.6 L1435.7,1519.7 L1436.9,1515.7 L1438.1,1509.9 L1439.3,1503 L1440.5,1496.7 L1441.7,1490.8 L1442.9,1485.4 L1444,1482.4 L1445.2,1483.9 L1446.4,1487.8 L1447.6,1489.5 L1448.8,1486.3 L1450,1480.9 L1451.2,1477.6 L1452.4,1479.1 L1453.6,1482.7 L1454.8,1484.8 L1456,1483.5 L1457.1,1480.7 L1458.3,1477.6 L1459.5,1474.1 L1460.7,1470.3 L1461.9,1468.1 L1463.1,1469.2 L1464.3,1471.8 L1465.5,1472.9 L1466.7,1471.1 L1467.9,1467.7 L1469,1463.3 L1469.9,1457.6 L1470.7,1450.8 L1471.4,1444.3 L1472.2,1437.3 L1473,1430.6 L1473.8,1427.6 L1474.6,1431.1 L1475.3,1438.2 L1476.2,1444.3 L1477.3,1447.2 L1478.5,1449 L1479.8,1451.4 L1481,1454.6 L1482.1,1458.3 L1483.3,1463.3 L1484.6,1472 L1485.8,1481.9 L1486.9,1487.1 L1487.8,1484.1 L1488.5,1476.4 L1489.3,1468.1 L1490.1,1460.3 L1490.9,1452 L1491.7,1444.3 L1492.4,1437.2 L1493.2,1430.7 L1494,1425.2 L1495.1,1421.4 L1496.3,1418.7 L1497.6,1415.7 L1499.2,1411.5 L1500.8,1407.1 L1502.4,1403.8 L1503.7,1403 L1504.8,1403.5 L1506,1402.6 L1507.1,1399.2 L1508.3,1394.6 L1509.5,1390 L1510.7,1385.7 L1511.9,1381.5 L1513.1,1378.1 L1514.3,1375.4 L1515.5,1373.4 L1516.7,1373.3 L1517.9,1377.2 L1519,1382.9 L1520.2,1385.2 L1521.4,1381.1 L1522.6,1373.5 L1523.8,1366.2 L1525,1360.2 L1526.2,1354.5 L1527.4,1349.5 L1528.6,1345.6 L1529.8,1342.4 L1531,1340 L1532.1,1338.7 L1533.3,1338.1 L1534.5,1337.6 L1535.7,1336.3 L1536.9,1335 L1538.1,1335.2 L1539.3,1338.8 L1540.5,1343.9 L1541.7,1347.1 L1542.9,1347.3 L1544.1,1345.6 L1545.2,1342.4 L1546.1,1337.1 L1546.8,1330.2 L1547.6,1323.3 L1548.5,1316.8 L1549.5,1310.3 L1550.5,1304.3 L1551.5,1299.2 L1552.6,1294.6 L1553.6,1290 L1554.5,1285.1 L1555.3,1280.1 L1556,1275.7 L1556.5,1271.8 L1556.9,1268.5 L1557.1,1266.2" fill="none" stroke="#c07a5e" stroke-width="5" stroke-linejoin="round" stroke-linecap="round"/>
<path d="M1560.7,1247.1 L1561.6,1246.6 L1562.9,1245.8 L1564.3,1244.8 L1565.8,1243.4 L1567.4,1241.9 L1569,1240 L1570.6,1237.8 L1572.2,1235.3 L1573.8,1232.9 L1575.4,1230.7 L1577.1,1228.4 L1578.6,1225.7 L1579.9,1221.9 L1581,1217.5 L1582.1,1213.8 L1583.4,1211.1 L1584.6,1209.1 L1585.7,1207.9 L1586.6,1207.1 L1587.4,1207.1 L1588.1,1209 L1588.8,1214.2 L1589.4,1221.3 L1590,1228.1 L1590.7,1234.4 L1591.3,1240.4 L1591.9,1244.8 L1592.3,1246.7 L1592.6,1247.1 L1592.9,1247.1" fill="none" stroke="#c07a5e" stroke-width="5" stroke-linejoin="round" stroke-linecap="round"/>
<path d="M1637.5,1371.9 L1638.1,1375.2 L1638.9,1379.9 L1639.9,1383.8 L1641,1386 L1642.2,1387.4 L1643.5,1388.5 L1645,1389.4 L1646.6,1390.1 L1648.3,1390.9 L1649.9,1392.1 L1651.4,1393.5 L1653,1395.7 L1654.6,1399.3 L1656.2,1403.7 L1657.8,1407.6 L1659.4,1410.1 L1661.1,1412.1 L1662.6,1414.8 L1663.9,1419 L1665,1424.1 L1666.2,1429.1 L1667.3,1434 L1668.5,1438.8 L1669.7,1443.4 L1670.9,1447.4 L1672.1,1451.1 L1673.3,1455.3 L1674.5,1460.4 L1675.8,1465.9 L1676.9,1472 L1677.8,1479.6 L1678.5,1487.6 L1679.3,1493.5 L1680.1,1496.6 L1680.9,1497.6 L1681.7,1495.9 L1682.4,1489.6 L1683.1,1480.7 L1684,1474.4 L1685.5,1473.3 L1687.2,1474.8 L1688.8,1476.8 L1690.1,1478.4 L1691.3,1480.5 L1692.4,1484 L1693.2,1489.4 L1693.9,1496.3 L1694.8,1503.1 L1695.9,1509.6 L1697.1,1516.1 L1698.4,1522.1 L1699.6,1527.3 L1700.7,1531.9 L1701.9,1536.5 L1703.1,1541.6 L1704.2,1546.7 L1705.5,1550.8 L1707,1552.9 L1708.7,1553.9 L1710.3,1555.5 L1711.9,1559.6 L1713.4,1564.2 L1714.6,1565.1 L1715.3,1560 L1715.7,1551.1 L1716.2,1541.2 L1716.9,1530.1 L1717.7,1517.9 L1718.6,1507.8 L1719.7,1501.2 L1721,1496.7 L1722.2,1493.5 L1723.4,1491.3 L1724.6,1490.4 L1725.8,1491.1 L1727,1494.8 L1728.2,1500.1 L1729.4,1503.1 L1730.5,1501.2 L1731.7,1497 L1732.9,1493.5 L1734.5,1492 L1736.2,1491.3 L1737.7,1491.1 L1739,1492 L1740.1,1493.4 L1741.3,1493.5 L1742.5,1491.3 L1743.7,1487.8 L1744.9,1484 L1746,1479.8 L1747.2,1475.4 L1748.5,1472 L1750,1470.5 L1751.7,1470.1 L1753.2,1469.7 L1754.5,1468.2 L1755.7,1466.8 L1756.8,1467.3 L1758,1472 L1759.3,1478.7 L1760.4,1481.6 L1761.2,1477.3 L1761.9,1469.4 L1762.8,1462.5 L1763.9,1458.4 L1765.2,1455.4 L1766.3,1453 L1767.4,1450.8 L1768.3,1449.2 L1769,1448.2" fill="none" stroke="#c07a5e" stroke-width="5" stroke-linejoin="round" stroke-linecap="round"/>
<path d="M866.2,1481.2 L867.5,1480.8 L869.4,1480.3 L871.4,1480 L873.4,1479.9 L875.5,1480 L877.4,1481.2 L879.1,1484 L880.6,1487.9 L882.1,1491.9 L883.8,1496.6 L885.4,1501.4 L886.9,1503.8 L888.2,1502.2 L889.3,1498.3 L890.5,1494.3 L891.6,1490.5 L892.8,1486.7 L894,1484.8 L895.5,1486.2 L897.2,1489.4 L898.8,1491.9 L900.4,1492.7 L902,1492.7 L903.6,1491.9 L905.2,1490 L906.8,1487.2 L908.3,1484.8 L909.7,1482.6 L911,1480.6 L912.4,1480 L913.8,1481.8 L915.3,1484.9 L916.7,1487.1 L917.9,1488.2 L919.1,1488.5 L920.2,1487.1 L921.4,1483.4 L922.5,1478.1 L923.8,1472.9 L925.3,1467.9 L926.9,1463 L928.6,1458.6 L930.2,1454.9 L931.8,1451.7 L933.3,1449 L934.6,1447.3 L935.8,1446 L936.9,1444.3 L938.1,1441.6 L939.2,1438.3 L940.5,1434.8 L942,1430.7 L943.6,1426.4 L945.2,1422.9 L946.8,1420.9 L948.3,1419.8 L950,1418.1 L951.9,1415 L953.9,1411.4 L956,1408.6 L957.9,1407.5 L959.8,1407.3 L961.9,1406.7 L964.2,1405.2 L966.6,1403.4 L969,1401.4 L971.6,1399 L974.1,1396.3 L976.2,1394.3 L977.6,1393.9 L978.7,1394.1 L979.8,1393.1 L981,1389.8 L982.1,1385.2 L983.3,1380.5 L984.5,1375.7 L985.7,1370.8 L986.9,1366.2 L988.1,1361.9 L989.4,1357.8 L990.5,1354.3 L991.4,1351.3 L992.3,1348.8 L992.9,1347.1" fill="none" stroke="#ff0000" stroke-width="5.8" stroke-linejoin="round" stroke-linecap="round"/>
<path d="M998.8,1346 L999.7,1343.1 L1001.1,1339.1 L1002.4,1335.2 L1003.6,1331.9 L1004.8,1328.7 L1006,1325.7 L1007.1,1323.2 L1008.2,1320.9 L1009.5,1318.6 L1011.1,1316.2 L1012.7,1313.8 L1014.3,1311.4 L1015.6,1309.2 L1016.7,1307 L1017.9,1304.3 L1019,1300.6 L1020.2,1296.3 L1021.4,1292.4 L1022.8,1288.7 L1024.1,1285.2 L1025,1282.9" fill="none" stroke="#ff0000" stroke-width="5.8" stroke-linejoin="round" stroke-linecap="round"/>
<path d="M1028.6,1278.1 L1030.1,1278 L1032.3,1277.9 L1034.5,1277.6 L1036.6,1277.2 L1038.6,1276.6 L1040.5,1276.2 L1042.2,1275.7 L1043.9,1275.5 L1045.2,1276.2 L1046.2,1278.5 L1046.8,1281.9 L1047.6,1285.2 L1048.6,1288.6 L1049.8,1292 L1051.2,1294.8 L1053,1296.4 L1055.1,1297.4 L1057.1,1298.3 L1059.2,1299.4 L1061.3,1300.4 L1063.1,1301.9 L1064.5,1303.9 L1065.6,1306.4 L1066.7,1309 L1067.9,1312 L1069,1315.3 L1070.2,1318.6 L1071.5,1321.8 L1072.7,1325.1 L1073.8,1328.1 L1074.8,1330.9 L1075.6,1333.5 L1076.2,1335.2" fill="none" stroke="#ff0000" stroke-width="5.8" stroke-linejoin="round" stroke-linecap="round"/>
<path d="M1080.5,1347.1 L1080.8,1348.8 L1081.4,1351.3 L1082.1,1354.3 L1083.2,1357.9 L1084.5,1362 L1085.7,1366.2 L1086.9,1370 L1088.1,1373.8 L1089.3,1378.1 L1090.5,1384 L1091.8,1390.5 L1092.9,1394.8 L1093.7,1394.9 L1094.3,1392.8 L1095.2,1391.9 L1096.6,1393.3 L1098.3,1395.8 L1100,1399 L1101.6,1403.2 L1103.2,1408.1 L1104.8,1413.3 L1106.3,1418.9 L1107.9,1424.7 L1109.5,1430 L1111.1,1434.5 L1112.7,1438.5 L1114.3,1441.9 L1115.9,1444.6 L1117.5,1446.8 L1119,1449 L1120.6,1451.4 L1122.2,1453.8 L1123.8,1456.2 L1125.4,1458.6 L1127,1461 L1128.6,1463.3 L1130.2,1465.4 L1131.7,1467.6 L1133.3,1470.5 L1134.9,1474.8 L1136.5,1479.9 L1138.1,1484.8 L1139.7,1489.1 L1141.3,1493.1 L1142.9,1496.7 L1144.4,1499.5 L1146,1501.9 L1147.6,1503.8 L1149.3,1505.6 L1150.9,1507 L1152.4,1507.4 L1153.7,1506.1 L1154.8,1503.7 L1156,1501.4 L1157.1,1499.5 L1158.2,1497.7 L1159.5,1496.7 L1161,1497.2 L1162.6,1498.5 L1164.3,1499 L1166.2,1497.9 L1168.2,1496 L1170.2,1494.3 L1172.3,1493.5 L1174.3,1493 L1176.2,1491.9 L1177.9,1490.1 L1179.4,1487.7 L1181,1484.8 L1182.5,1480.9 L1184.1,1476.5 L1185.7,1472.9 L1187.3,1470.7 L1188.9,1469.4 L1190.5,1468.1 L1192.1,1466.5 L1193.7,1464.9 L1195.2,1463.3 L1196.7,1461.7 L1198.2,1460.2 L1200,1458.6 L1202.2,1457 L1204.7,1455.4 L1207.1,1453.8 L1209.6,1452.4 L1212.1,1451 L1214.3,1449 L1216,1446.1 L1217.4,1442.7 L1219,1439.5 L1221.3,1437.1 L1223.9,1435 L1226.2,1432.4 L1228,1428.6 L1229.5,1424.3 L1231,1420.5 L1232.5,1417.7 L1234,1415.5 L1235.7,1413.3 L1237.9,1410.9 L1240.4,1408.4 L1242.9,1406.2 L1245.5,1405.1 L1248.1,1404.3 L1250,1401.4 L1250.4,1394.7 L1250.1,1385.9 L1250,1378.1 L1250.5,1372.5 L1251.3,1367.9 L1252.4,1363.8 L1253.8,1360.4 L1255.5,1357.5 L1257.1,1354.3 L1258.7,1350.6 L1260.3,1346.6 L1261.9,1342.4 L1263.5,1338 L1265.1,1333.3 L1266.7,1328.1 L1268.3,1322.1 L1269.8,1315.6 L1271.4,1309 L1273,1302.4 L1274.6,1295.8 L1276.2,1290 L1277.8,1285.5 L1279.4,1281.8 L1281,1278.1 L1282.5,1274 L1284.1,1270 L1285.7,1266.2 L1287.3,1262.7 L1288.9,1259.4 L1290.5,1256.7 L1292.1,1254.6 L1293.7,1253.1 L1295.2,1251.9 L1296.9,1251 L1298.5,1250.4 L1300,1249.5 L1301.2,1248 L1302.2,1246.1 L1303.6,1244.8 L1305.4,1244.3 L1307.5,1244.3 L1309.5,1244 L1311.2,1242.9 L1312.8,1241.6 L1314.3,1241.2 L1315.6,1242.4 L1316.7,1244.6 L1317.9,1247.1 L1319,1250.2 L1320.1,1253.7 L1321.4,1256.7 L1322.9,1258.6 L1324.6,1260 L1326.2,1261.4 L1327.8,1262.9 L1329.5,1264.4 L1331,1266.2 L1332.2,1268.3 L1333.4,1270.7 L1334.5,1273.3 L1335.7,1276.4 L1336.9,1279.8 L1338.1,1282.9 L1339.3,1285.6 L1340.5,1288.1 L1341.7,1290 L1342.8,1291.1 L1344,1291.7 L1345.2,1292.4 L1346.7,1293.6 L1348.4,1294.9 L1350,1296 L1351.7,1296.5 L1353.3,1296.7 L1354.8,1297.1 L1355.9,1297.5 L1356.8,1298 L1357.6,1299.5 L1358.3,1302.7 L1358.9,1306.9 L1359.5,1311.4 L1360.3,1315.9 L1361.1,1320.7 L1361.9,1325.7 L1362.7,1331.4 L1363.4,1337.4 L1364.3,1342.4 L1365.4,1345.5 L1366.6,1347.5 L1367.9,1349.5 L1369,1351.8 L1370.2,1354.1 L1371.4,1356.7 L1372.6,1359.5 L1373.8,1362.6 L1375,1366.2 L1376.2,1370.6 L1377.4,1375.5 L1378.6,1380.5 L1379.8,1385.5 L1381,1390.5 L1382.1,1394.8 L1383.1,1397.7 L1383.8,1399.9 L1384.5,1402.6 L1385.2,1407.1 L1385.8,1412.1 L1386.2,1415.7" fill="none" stroke="#ff0000" stroke-width="5.8" stroke-linejoin="round" stroke-linecap="round"/>
<path d="M1392.9,1425.2 L1393.8,1427.1 L1395.1,1429.7 L1396.4,1432.4 L1397.6,1434.7 L1398.7,1437.1 L1400,1439.5 L1401.5,1442.3 L1403.2,1445.2 L1404.8,1447.9 L1406,1450.3 L1407.1,1452.5 L1408.3,1453.8 L1409.9,1453.1 L1411.6,1451.5 L1413.1,1451.4 L1414.3,1454.3 L1415.4,1458.8 L1416.7,1463.3 L1418.2,1467.4 L1419.8,1471.4 L1421.4,1475.2 L1423,1478.7 L1424.6,1481.9 L1426.2,1484.8 L1427.8,1487.5 L1429.4,1490.1 L1431,1491.9 L1432.6,1493.2 L1434.2,1493.8 L1435.7,1493.1 L1437,1490.4 L1438.1,1486.3 L1439.3,1482.4 L1440.4,1478.9 L1441.6,1475.5 L1442.9,1472.9 L1444.4,1471.6 L1446,1471.1 L1447.6,1470.5 L1449.2,1469.2 L1450.8,1467.8 L1452.4,1466.9 L1454,1467.1 L1455.6,1467.9 L1457.1,1468.1 L1458.7,1467.3 L1460.3,1465.9 L1461.9,1464.5 L1463.5,1463.4 L1465.1,1462.2 L1466.7,1461 L1468.3,1459.5 L1469.9,1458 L1471.4,1456.2 L1472.7,1453.8 L1473.8,1451.2 L1475,1449 L1476.5,1447.7 L1478.1,1446.9 L1479.8,1446.7 L1481.4,1446.8 L1483,1447.5 L1484.5,1449 L1485.8,1452.2 L1487,1456.2 L1488.1,1458.6 L1489.1,1458.6 L1490,1457 L1491,1453.8 L1491.9,1448.2 L1492.9,1440.9 L1494,1434.8 L1495.5,1431 L1497.2,1428.2 L1498.8,1425.2 L1500.4,1421.3 L1502,1417 L1503.6,1413.3 L1505.2,1410.5 L1506.9,1408.1 L1508.3,1406.2 L1509.3,1404.8 L1509.9,1403.8 L1510.7,1402.6 L1511.8,1401 L1513.1,1399.2 L1514.3,1397.1 L1515.5,1394.6 L1516.7,1391.8 L1517.9,1390 L1519,1390 L1520.2,1391 L1521.4,1391.2 L1522.6,1389.9 L1523.8,1387.8 L1525,1385.2 L1526.2,1382.3 L1527.4,1379 L1528.6,1375.7 L1529.7,1372.3 L1530.9,1368.9 L1532.1,1366.2 L1533.6,1364.5 L1535.3,1363.4 L1536.9,1362.6 L1538.5,1362 L1540.1,1361.7 L1541.7,1361.4 L1543.3,1361.5 L1544.9,1361.5 L1546.4,1360.2 L1547.7,1356.8 L1548.9,1352 L1550,1347.1 L1551.2,1342.3 L1552.5,1337.3 L1553.6,1332.9 L1554.5,1329 L1555.4,1325.6 L1556,1323.3" fill="none" stroke="#ff0000" stroke-width="5.8" stroke-linejoin="round" stroke-linecap="round"/>
<path d="M1561.9,1309 L1563.1,1305.9 L1564.9,1301.4 L1566.7,1297.1 L1568.3,1293.7 L1569.8,1290.5 L1571.4,1287.6 L1573,1285.1 L1574.6,1282.9 L1576.2,1280.5 L1577.8,1277.4 L1579.5,1274 L1581,1271 L1582.2,1268.3 L1583.4,1265.9 L1584.5,1263.8 L1585.8,1261.6 L1587,1259.8 L1588.1,1259 L1589,1260.3 L1589.8,1262.8 L1590.5,1265 L1591.2,1266.5 L1591.9,1267.7 L1592.4,1268.6" fill="none" stroke="#ff0000" stroke-width="5.8" stroke-linejoin="round" stroke-linecap="round"/>
<path d="M1638.2,1352.8 L1639,1355.8 L1640,1360.1 L1641.1,1364.7 L1642.2,1369.5 L1643.5,1374.5 L1644.7,1379 L1645.8,1382.5 L1647,1385.5 L1648.3,1388.5 L1649.8,1391.9 L1651.4,1395.3 L1653,1398.1 L1654.6,1399.9 L1656.2,1401.3 L1657.8,1402.9 L1659.4,1405 L1661,1407.4 L1662.6,1410 L1664.2,1413 L1665.8,1416.3 L1667.3,1419.6 L1668.6,1422.7 L1669.8,1425.9 L1670.9,1429.1 L1672.1,1432.2 L1673.3,1435.3 L1674.5,1438.6 L1675.7,1442.5 L1676.9,1446.7 L1678.1,1450.6 L1679.2,1454.3 L1680.4,1457.7 L1681.7,1460.1 L1683.2,1460.7 L1684.8,1460.3 L1686.4,1460.1 L1688.1,1460.7 L1689.7,1461.6 L1691.2,1462.5 L1692.5,1462.9 L1693.6,1463.2 L1694.8,1464.9 L1696,1468.8 L1697.2,1474 L1698.4,1479.2 L1699.6,1484 L1700.7,1488.7 L1701.9,1493.5 L1703.1,1498.5 L1704.3,1503.4 L1705.5,1507.8 L1706.7,1511.4 L1707.9,1514.4 L1709.1,1517.4 L1710.3,1520.7 L1711.5,1524.1 L1712.7,1526.9 L1713.9,1529.7 L1715.1,1532 L1716.2,1531.7 L1717.1,1527 L1717.8,1519.7 L1718.6,1512.6 L1719.7,1506.5 L1720.9,1500.7 L1722.2,1495.9 L1723.7,1492.5 L1725.4,1490.1 L1727,1488.7 L1728.6,1489.1 L1730.2,1490.5 L1731.8,1491.1 L1733.3,1490 L1734.9,1488 L1736.5,1486.4 L1738.1,1485.6 L1739.7,1485 L1741.3,1484 L1742.9,1481.8 L1744.5,1479.2 L1746.1,1476.8 L1747.7,1474.9 L1749.2,1473.2 L1750.8,1472 L1752.4,1471.8 L1754,1472 L1755.6,1472 L1757.2,1471.7 L1758.8,1471.1 L1760.4,1469.7 L1762,1466.7 L1763.6,1463 L1765.2,1460.1 L1766.6,1458.7 L1768,1458.1 L1769,1457.7" fill="none" stroke="#ff0000" stroke-width="5.8" stroke-linejoin="round" stroke-linecap="round"/>
<path d="M866.2,1431.2 L866.9,1432 L867.8,1433.3 L869,1434.8 L870.4,1436.6 L872,1438.7 L873.8,1440.7 L876,1442.3 L878.5,1443.7 L881,1445.5 L883.3,1448.2 L885.7,1451.3 L888.1,1453.8 L890.5,1455.5 L892.9,1456.7 L895.2,1457.4 L897.6,1457.1 L900,1456.3 L902.4,1456.2 L904.8,1457.3 L907.1,1459.1 L909.5,1461 L912,1463 L914.5,1465.2 L916.7,1466.9 L918.4,1467.9 L919.9,1468.3 L921.4,1468.1 L923,1467 L924.6,1465.3 L926.2,1463.3 L927.7,1461 L929.2,1458.5 L931,1456.2 L933.2,1454.6 L935.6,1453.3 L938.1,1451.4 L940.5,1448.5 L942.9,1445.1 L945.2,1441.9 L947.6,1439.3 L950,1437.1 L952.4,1434.8 L954.7,1432.4 L957,1430 L959.5,1427.6 L962.5,1425.3 L965.8,1423 L969,1420.5 L972.3,1417.3 L975.6,1413.9 L978.6,1411 L981.2,1409 L983.6,1407.5 L985.7,1406.2 L987.5,1405.2 L989,1404.3 L990.5,1402.6 L992,1399.8 L993.5,1396.2 L995.2,1392.4 L997.4,1388.5 L999.9,1384.5 L1002.4,1380.5 L1004.8,1376.5 L1007.1,1372.5 L1009.5,1368.6 L1012.2,1364.2 L1014.8,1359.8 L1016.7,1356.7" fill="none" stroke="#ff00ff" stroke-width="5" stroke-linejoin="round" stroke-linecap="round"/>
<path d="M1020.2,1350.7 L1021,1349.4 L1022.2,1347.4 L1023.8,1344.8 L1025.9,1341.1 L1028.4,1336.9 L1031,1332.9 L1033.3,1329.4 L1035.7,1326.1 L1038.1,1323.3 L1040.5,1321 L1042.9,1319.2 L1045.2,1317.9 L1047.6,1317.3 L1050,1317.2 L1052.4,1317.4 L1054.8,1317.6 L1057.1,1318 L1059.5,1318.6 L1061.9,1319.2 L1064.4,1320 L1066.7,1321 L1068.8,1322.1 L1070.9,1323.3 L1072.6,1324.5 L1074.1,1325.8 L1075.4,1327.2 L1076.2,1328.1" fill="none" stroke="#ff00ff" stroke-width="5" stroke-linejoin="round" stroke-linecap="round"/>
<path d="M1082.1,1335.2 L1083.7,1337 L1086,1339.6 L1088.1,1342.4 L1089.8,1345.3 L1091.3,1348.5 L1092.9,1351.9 L1094.4,1355.7 L1096,1359.8 L1097.6,1363.8 L1099.2,1367.9 L1100.8,1371.9 L1102.4,1375.7 L1104,1379.1 L1105.6,1382.2 L1107.1,1385.2 L1108.7,1388.4 L1110.3,1391.6 L1111.9,1394.8 L1113.4,1397.7 L1114.9,1400.6 L1116.7,1403.8 L1118.9,1407.6 L1121.3,1411.6 L1123.8,1415.7 L1126.2,1419.8 L1128.6,1423.8 L1131,1427.6 L1133.3,1431 L1135.7,1434.1 L1138.1,1437.1 L1140.5,1440.3 L1142.9,1443.5 L1145.2,1446.7 L1147.7,1449.9 L1150.2,1453.1 L1152.4,1456.2 L1154.1,1459.2 L1155.5,1462.1 L1157.1,1464.5 L1159.3,1466.2 L1161.8,1467.3 L1164.3,1468.1 L1166.7,1468.8 L1169,1469.2 L1171.4,1469.3 L1173.8,1469.2 L1176.2,1468.8 L1178.6,1468.1 L1181,1466.8 L1183.3,1465.1 L1185.7,1463.3 L1188.1,1461.4 L1190.5,1459.4 L1192.9,1457.4 L1195.2,1455.3 L1197.6,1453.1 L1200,1451.4 L1202.4,1450.4 L1204.8,1449.7 L1207.1,1449 L1209.5,1448.3 L1211.9,1447.6 L1214.3,1446.7 L1216.7,1445.3 L1219,1443.6 L1221.4,1441.9 L1223.8,1440.3 L1226.2,1438.7 L1228.6,1437.1 L1231,1435.5 L1233.3,1433.8 L1235.7,1432.4 L1238.1,1431.5 L1240.5,1430.9 L1242.9,1430 L1245.5,1428.4 L1248.1,1426.6 L1250,1425.2 L1250.4,1425.7 L1249.9,1426.7 L1250,1425.2 L1251.1,1419 L1252.8,1410.3 L1254.8,1402.6 L1257,1397.7 L1259.4,1394 L1261.9,1390 L1264.3,1385.4 L1266.7,1380.5 L1269,1375.7 L1271.4,1371 L1273.8,1366.2 L1276.2,1361.4 L1278.6,1356.7 L1281,1351.9 L1283.3,1347.1 L1285.7,1342.3 L1288.1,1337.4 L1290.5,1332.9 L1292.9,1328.6 L1295.2,1324.7 L1297.6,1321 L1300,1317.5 L1302.4,1314.3 L1304.8,1311.4 L1307.1,1309.1 L1309.5,1307.2 L1311.9,1305.5 L1314.3,1304 L1316.7,1302.7 L1319,1301.9 L1321.4,1301.7 L1323.8,1302.1 L1326.2,1302.6 L1328.6,1303.3 L1331,1304.2 L1333.3,1305.5 L1335.7,1307.2 L1338.1,1309.3 L1340.5,1311.4 L1342.9,1313.5 L1345.2,1315.5 L1347.6,1317.4 L1350,1319 L1352.4,1320.5 L1354.8,1322.1 L1357.1,1323.9 L1359.5,1325.7 L1361.9,1328.1 L1364.3,1331.2 L1366.7,1334.9 L1369,1338.8 L1371.5,1343.1 L1374,1347.7 L1376.2,1351.9 L1378,1355.3 L1379.5,1358.2 L1381,1361.4 L1382.7,1365.7 L1384.5,1370.2 L1385.7,1373.3" fill="none" stroke="#ff00ff" stroke-width="5" stroke-linejoin="round" stroke-linecap="round"/>
<path d="M1390.5,1387.6 L1391.8,1391.8 L1393.6,1397.7 L1395.2,1402.6 L1396.4,1405.1 L1397.5,1406.7 L1398.8,1408.6 L1400.7,1411.6 L1402.9,1415.1 L1404.8,1418.1 L1406,1420.4 L1407.1,1422.4 L1408.3,1424 L1410.2,1425.3 L1412.3,1426.3 L1414.3,1427.6 L1416,1429.3 L1417.5,1431.3 L1419,1433.6 L1420.6,1436.2 L1422.2,1439.1 L1423.8,1441.9 L1425.4,1444.4 L1427,1446.7 L1428.6,1449 L1430.2,1451.6 L1431.7,1454.1 L1433.3,1456.2 L1434.9,1457.9 L1436.4,1459.1 L1438.1,1459.8 L1440,1459.5 L1442,1458.5 L1444,1457.4 L1446,1456.2 L1447.9,1455 L1450,1453.8 L1452.3,1452.9 L1454.7,1452.2 L1457.1,1451.4 L1459.5,1450.6 L1461.9,1449.8 L1464.3,1449 L1466.7,1448.2 L1469,1447.4 L1471.4,1446.7 L1473.8,1446.2 L1476.2,1445.8 L1478.6,1445.5 L1481,1445 L1483.3,1444.6 L1485.7,1444.3 L1488.2,1444.3 L1490.7,1444.4 L1492.9,1444.3 L1494.6,1443.8 L1496.1,1443 L1497.6,1441.9 L1499.2,1440.5 L1500.8,1438.9 L1502.4,1437.1 L1504,1435.2 L1505.6,1433.2 L1507.1,1431.2 L1508.6,1429.3 L1510.1,1427.3 L1511.9,1425.2 L1514.1,1423 L1516.6,1420.7 L1519,1418.1 L1521.5,1415 L1524,1411.6 L1526.2,1408.6 L1528,1406.4 L1529.5,1404.6 L1531,1402.6 L1532.5,1400 L1534,1397.2 L1535.7,1394.8 L1537.9,1392.9 L1540.4,1391.5 L1542.9,1390 L1545.2,1388.6 L1547.6,1387.2 L1550,1385.2 L1552.6,1382.1 L1555.3,1378.4 L1557.1,1375.7" fill="none" stroke="#ff00ff" stroke-width="5" stroke-linejoin="round" stroke-linecap="round"/>
<path d="M1561.9,1366.2 L1563.8,1362.5 L1566.4,1357.2 L1569,1351.9 L1571.4,1347.1 L1573.8,1342.2 L1576.2,1337.6 L1578.5,1333.5 L1580.9,1329.7 L1583.3,1325.7 L1586.3,1321 L1589.5,1316.1 L1591.7,1312.6" fill="none" stroke="#ff00ff" stroke-width="5" stroke-linejoin="round" stroke-linecap="round"/>
<path d="M1638.7,1333.7 L1639.9,1335.4 L1641.5,1337.8 L1643.5,1340.8 L1645.7,1344.5 L1648.2,1348.6 L1650.6,1352.8 L1653,1356.7 L1655.4,1360.7 L1657.8,1364.7 L1660.2,1368.7 L1662.6,1372.6 L1665,1376.6 L1667.4,1380.7 L1669.9,1384.8 L1672.1,1388.5 L1673.9,1391.8 L1675.4,1394.8 L1676.9,1398.1 L1678.5,1402.1 L1680.1,1406.3 L1681.7,1410 L1683.2,1412.8 L1684.7,1415 L1686.4,1417.2 L1688.6,1419.5 L1691.1,1421.8 L1693.6,1424.3 L1696.1,1427.4 L1698.5,1430.8 L1700.7,1433.9 L1702.5,1436.3 L1704,1438.6 L1705.5,1441 L1707.1,1443.9 L1708.7,1447.1 L1710.3,1450.6 L1711.9,1454.6 L1713.6,1459 L1715.1,1462.5 L1716.3,1464.9 L1717.4,1466.5 L1718.6,1467.3 L1720.1,1467.1 L1721.7,1466.1 L1723.4,1464.9 L1725.3,1463.4 L1727.2,1461.7 L1729.4,1460.1 L1731.7,1458.8 L1734.1,1457.7 L1736.5,1456.5 L1738.9,1455.4 L1741.3,1454.2 L1743.7,1453 L1746.1,1451.4 L1748.5,1449.6 L1750.8,1448.2 L1753.2,1447.3 L1755.6,1446.7 L1758,1445.8 L1760.5,1444.3 L1763,1442.4 L1765.2,1441 L1766.8,1440.3 L1768.1,1440 L1769,1439.8" fill="none" stroke="#ff00ff" stroke-width="5" stroke-linejoin="round" stroke-linecap="round"/>
<path d="M866.2,1408.6 L867.5,1410.4 L869.3,1413 L871.4,1415.7 L873.7,1418.5 L876.1,1421.4 L878.6,1424 L881,1426.3 L883.3,1428.2 L885.7,1430 L888.1,1431.6 L890.5,1433.1 L892.9,1434.8 L895.3,1436.7 L897.7,1438.9 L900,1440.7 L902.2,1442.1 L904.3,1443.3 L906,1444.3 L907,1446 L907.7,1447.7 L908.3,1446.7 L909,1440.5 L909.7,1431.7 L910.7,1425.2 L912.2,1423.5 L913.9,1424.1 L915.5,1425.2 L916.7,1426.3 L917.8,1427.9 L919,1430 L920.5,1433.1 L922.2,1436.7 L923.8,1439.5 L925.4,1441 L927,1441.7 L928.6,1441.9 L930.2,1441.6 L931.7,1440.7 L933.3,1439.5 L934.8,1438 L936.3,1436.3 L938.1,1434.8 L940.3,1433.7 L942.8,1432.9 L945.2,1432.4 L947.5,1432.3 L949.8,1432.6 L952.4,1432.4 L955.4,1431.5 L958.6,1430.2 L961.9,1428.8 L965.1,1427.4 L968.3,1425.8 L971.4,1424 L974.6,1422.2 L977.8,1420.2 L981,1418.1 L984.1,1415.8 L987.3,1413.5 L990.5,1411 L993.7,1408.2 L997,1405.3 L1000,1402.6 L1002.6,1400.5 L1004.9,1398.7 L1007.1,1396.7 L1009.5,1394 L1011.9,1391.1 L1014.3,1388.3 L1016.9,1385.6 L1019.6,1383 L1021.4,1381.2" fill="none" stroke="#9400d3" stroke-width="5" stroke-linejoin="round" stroke-linecap="round"/>
<path d="M1028.6,1372.9 L1030.4,1370.3 L1033.1,1366.7 L1035.7,1363.3 L1038.1,1360.7 L1040.5,1358.4 L1042.9,1356.2 L1045.2,1354 L1047.6,1352 L1050,1350.2 L1052.4,1348.8 L1054.8,1347.6 L1057.1,1346.7 L1059.5,1345.9 L1061.9,1345.2 L1064.3,1344.8 L1066.8,1344.5 L1069.2,1344.4 L1071.4,1344.3 L1073.4,1344.1 L1075,1343.9 L1076.2,1343.8" fill="none" stroke="#9400d3" stroke-width="5" stroke-linejoin="round" stroke-linecap="round"/>
<path d="M1082.1,1346.7 L1083.6,1347.8 L1085.8,1349.4 L1088.1,1351.4 L1090.4,1353.9 L1092.8,1356.8 L1095.2,1359.8 L1097.6,1362.8 L1100,1366.1 L1102.4,1369.3 L1104.8,1372.5 L1107.1,1375.6 L1109.5,1378.8 L1111.9,1382 L1114.3,1385.2 L1116.7,1388.3 L1119,1391.6 L1121.4,1394.8 L1123.8,1397.9 L1126.2,1400.7 L1128.6,1403.4 L1131,1406.2 L1133.3,1409.3 L1135.7,1412.5 L1138.1,1415.7 L1140.5,1418.9 L1142.9,1422.2 L1145.2,1425.2 L1147.6,1428.1 L1150,1430.9 L1152.4,1433.6 L1154.8,1436.1 L1157.1,1438.5 L1159.5,1440.7 L1161.9,1442.9 L1164.3,1444.9 L1166.7,1446.7 L1169,1448.1 L1171.4,1449.2 L1173.8,1450.2 L1176.2,1451.2 L1178.6,1452 L1181,1452.6 L1183.3,1452.8 L1185.7,1452.8 L1188.1,1452.6 L1190.5,1452.4 L1192.9,1452 L1195.2,1451.4 L1197.5,1450.7 L1199.8,1449.9 L1202.4,1449 L1205.4,1448.3 L1208.6,1447.5 L1211.9,1446.7 L1215.1,1446 L1218.3,1445.3 L1221.4,1444.3 L1224.6,1442.9 L1227.8,1441.2 L1231,1439.5 L1234.1,1438 L1237.3,1436.4 L1240.5,1434.8 L1244,1432.6 L1247.5,1430.4 L1250,1428.8 L1250.4,1428.9 L1249.6,1429.6 L1250,1428.8 L1252.6,1425.2 L1256.2,1420.2 L1259.5,1415.7 L1262.2,1412.5 L1264.6,1409.7 L1266.7,1407.4 L1268.3,1405.7 L1269.8,1404.5 L1271.4,1402.6 L1273.5,1399.8 L1275.9,1396.3 L1278.6,1392.4 L1281.6,1387.9 L1284.8,1382.9 L1288.1,1378.1 L1291.3,1373.6 L1294.4,1369.2 L1297.6,1365 L1300.8,1360.9 L1304,1356.9 L1307.1,1353.1 L1310.3,1349.3 L1313.5,1345.6 L1316.7,1342.4 L1319.8,1339.6 L1323,1337.2 L1326.2,1335.2 L1329.4,1333.8 L1332.5,1332.9 L1335.7,1332.4 L1338.9,1332.2 L1342.1,1332.3 L1345.2,1332.9 L1348.4,1333.7 L1351.6,1334.9 L1354.8,1336.4 L1357.9,1338.2 L1361.1,1340.2 L1364.3,1342.4 L1367.5,1344.7 L1370.8,1347.2 L1373.8,1349.5 L1376.4,1351.6 L1378.7,1353.6 L1381,1355.5 L1383.2,1357.3 L1385.4,1359 L1386.9,1360.2" fill="none" stroke="#9400d3" stroke-width="5" stroke-linejoin="round" stroke-linecap="round"/>
<path d="M1391.7,1368.6 L1393.2,1371 L1395.3,1374.6 L1397.6,1378.1 L1399.9,1381.3 L1402.3,1384.4 L1404.8,1387.6 L1407.2,1390.9 L1409.7,1394.3 L1411.9,1397.1 L1413.7,1399.3 L1415.2,1400.9 L1416.7,1402.6 L1418.2,1404.5 L1419.8,1406.4 L1421.4,1408.6 L1423.3,1411.2 L1425.4,1414 L1427.4,1416.9 L1429.4,1419.7 L1431.3,1422.5 L1433.3,1425.2 L1435.3,1427.8 L1437.3,1430.2 L1439.3,1432.4 L1441.2,1434.2 L1443.2,1435.8 L1445.2,1437.1 L1447.5,1438.2 L1450,1438.9 L1452.4,1439.5 L1454.8,1440 L1457.1,1440.4 L1459.5,1440.7 L1461.9,1441 L1464.3,1441.3 L1466.7,1441.4 L1469,1441.5 L1471.4,1441.5 L1473.8,1441.4 L1476.2,1441.2 L1478.6,1441 L1481,1440.7 L1483.4,1440.4 L1485.9,1440.1 L1488.1,1440 L1489.9,1440.1 L1491.4,1440.4 L1492.9,1440.7 L1494.6,1441.6 L1496.3,1442.5 L1497.6,1441.9 L1498,1438.6 L1498,1433.7 L1498.8,1430 L1501,1428.5 L1504,1428.1 L1507.1,1427.6 L1510.2,1426.5 L1513.4,1425.3 L1516.7,1424 L1519.8,1422.9 L1523,1421.7 L1526.2,1420.5 L1529.4,1419.3 L1532.5,1418.1 L1535.7,1416.9 L1539,1415.8 L1542.2,1414.6 L1545.2,1413.3 L1548,1411.9 L1550.4,1410.3 L1552.4,1408.6 L1553.6,1406.5 L1554.3,1404.2 L1554.8,1402.6" fill="none" stroke="#9400d3" stroke-width="5" stroke-linejoin="round" stroke-linecap="round"/>
<path d="M1561.9,1392.4 L1563.8,1389.9 L1566.4,1386.4 L1569,1382.9 L1571.4,1379.7 L1573.8,1376.5 L1576.2,1373.3 L1578.5,1370.2 L1580.9,1367.1 L1583.3,1363.8 L1586.3,1359.9 L1589.5,1355.9 L1591.7,1353.1" fill="none" stroke="#9400d3" stroke-width="5" stroke-linejoin="round" stroke-linecap="round"/>
<path d="M1639.9,1344.4 L1641.4,1346.5 L1643.6,1349.6 L1645.9,1352.8 L1648.2,1355.9 L1650.6,1359.1 L1653,1362.3 L1655.4,1365.6 L1657.8,1368.8 L1660.2,1371.9 L1662.6,1374.4 L1665,1376.7 L1667.3,1379 L1669.7,1381.4 L1672.1,1383.8 L1674.5,1386.2 L1676.9,1388.5 L1679.3,1390.9 L1681.7,1393.3 L1684,1395.7 L1686.4,1398.1 L1688.8,1400.5 L1691.2,1402.9 L1693.6,1405.2 L1696,1407.6 L1698.4,1410 L1700.8,1412.4 L1703.1,1414.8 L1705.3,1417.2 L1707.2,1419.6 L1709.1,1421.9 L1710.9,1425.3 L1712.6,1428.7 L1713.9,1429.1 L1714.4,1423.9 L1714.5,1415.8 L1715.1,1410 L1716.3,1409 L1717.9,1410.5 L1719.8,1412.4 L1722,1414.5 L1724.5,1417.1 L1727,1419.6 L1729.4,1421.7 L1731.8,1423.7 L1734.1,1425.5 L1736.5,1427.3 L1738.9,1428.9 L1741.3,1430.3 L1743.7,1431.4 L1746.1,1432.2 L1748.5,1432.7 L1750.8,1432.9 L1753.2,1432.9 L1755.6,1432.7 L1758,1432.3 L1760.5,1431.9 L1762.8,1431.5 L1765.1,1431.3 L1767.4,1431.1 L1769,1431" fill="none" stroke="#9400d3" stroke-width="5" stroke-linejoin="round" stroke-linecap="round"/>
<path d="M866.7,1384.8 L867.8,1385.4 L869.5,1386.3 L871.4,1387.1 L873.5,1387.9 L875.9,1388.6 L878.6,1389.5 L881.6,1390.8 L884.8,1392.2 L888.1,1393.8 L891.5,1395.5 L894.9,1397.3 L897.6,1399 L899.3,1400.6 L900.2,1402.1 L901.2,1403.8 L902.3,1406 L903.5,1408.4 L904.8,1411 L906.2,1413.8 L907.7,1416.7 L909.5,1419.3 L911.6,1421.2 L914,1422.7 L916.7,1424 L919.7,1425.4 L922.9,1426.6 L926.2,1427.6 L929.4,1428.5 L932.5,1429.3 L935.7,1430 L938.9,1430.6 L942.1,1431 L945.2,1431.2 L948.4,1431.1 L951.6,1430.9 L954.8,1430.5 L957.9,1430 L961.1,1429.5 L964.3,1428.8 L967.5,1428.1 L970.6,1427.2 L973.8,1426.4 L977,1425.6 L980.2,1424.8 L983.3,1424 L986.9,1423.2 L990.4,1422.3 L992.9,1421.7" fill="none" stroke="#0000ff" stroke-width="4.8" stroke-linejoin="round" stroke-linecap="round"/>
<path d="M998.8,1420 L1001.5,1419.3 L1005.5,1418.3 L1009.5,1416.9 L1013.6,1415.1 L1017.9,1413 L1021.4,1411 L1023.8,1409.4 L1025.4,1407.9 L1027.4,1406.2 L1029.9,1404 L1032.8,1401.5 L1035.7,1399 L1038.8,1396.8 L1042,1394.6 L1045.2,1392.4 L1048.4,1390.2 L1051.6,1388 L1054.8,1386 L1057.9,1384.2 L1061.1,1382.6 L1064.3,1381.2 L1067.7,1379.8 L1071.1,1378.6 L1073.8,1377.6 L1075.6,1377 L1076.7,1376.6 L1077.4,1376.4" fill="none" stroke="#0000ff" stroke-width="4.8" stroke-linejoin="round" stroke-linecap="round"/>
<path d="M1081,1375.2 L1083.4,1374.7 L1086.9,1373.9 L1090.5,1373.3 L1093.7,1373 L1096.8,1372.8 L1100,1372.9 L1103.2,1373.4 L1106.3,1374.2 L1109.5,1375.2 L1112.7,1376.6 L1115.9,1378.3 L1119,1380 L1122.2,1381.7 L1125.4,1383.5 L1128.6,1385.2 L1131.7,1387.1 L1134.9,1388.9 L1138.1,1390.7 L1141.3,1392.3 L1144.4,1393.8 L1147.6,1395.5 L1150.8,1397.3 L1154,1399.3 L1157.1,1401.4 L1160.3,1403.8 L1163.5,1406.2 L1166.7,1408.6 L1169.8,1410.7 L1173,1412.7 L1176.2,1414.5 L1179.4,1416.2 L1182.5,1417.8 L1185.7,1419.3 L1188.9,1420.6 L1192.1,1421.8 L1195.2,1422.9 L1198.3,1423.8 L1201.4,1424.5 L1204.8,1425.2 L1208.5,1426 L1212.4,1426.6 L1216.7,1427.1 L1221.4,1427.4 L1226.5,1427.6 L1231,1427.6 L1234.5,1427.6 L1237.5,1427.4 L1240.5,1427.1 L1244,1426.4 L1247.5,1425.4 L1250,1425.2 L1250.4,1426.6 L1249.8,1428.8 L1250,1430 L1251.9,1429.4 L1254.5,1427.9 L1257.1,1426.4 L1259.4,1425.3 L1261.7,1424.1 L1264.3,1422.9 L1267.3,1421.4 L1270.5,1419.7 L1273.8,1418.1 L1277,1416.5 L1280.2,1414.9 L1283.3,1413.3 L1286.7,1411.8 L1290,1410.2 L1292.9,1408.6 L1294.6,1406.7 L1295.9,1404.6 L1297.6,1402.6 L1300.4,1400.8 L1303.8,1399.1 L1307.1,1397.1 L1310.3,1394.8 L1313.5,1392.4 L1316.7,1390 L1319.8,1387.9 L1323,1386 L1326.2,1384 L1329.4,1382 L1332.5,1380 L1335.7,1378.1 L1338.9,1376.4 L1342.1,1374.8 L1345.2,1373.3 L1348.4,1372 L1351.6,1370.8 L1354.8,1369.8 L1357.9,1368.8 L1361.1,1368 L1364.3,1367.4 L1367.4,1366.8 L1370.5,1366.4 L1373.8,1366.2 L1378,1366.3 L1382.5,1366.6 L1385.7,1366.9" fill="none" stroke="#0000ff" stroke-width="4.8" stroke-linejoin="round" stroke-linecap="round"/>
<path d="M1391.7,1368.6 L1393.2,1369.5 L1395.3,1370.7 L1397.6,1372.1 L1399.9,1373.6 L1402.3,1375.3 L1404.8,1376.9 L1407.1,1378.5 L1409.3,1380.2 L1411.9,1381.7 L1414.9,1382.9 L1418.2,1384.1 L1421.4,1385.2 L1424.6,1386.4 L1427.8,1387.6 L1431,1388.8 L1434,1390 L1437.1,1391.1 L1440.5,1392.4 L1444.3,1393.6 L1448.3,1394.9 L1452.4,1397.1 L1456.4,1401.1 L1460.5,1405.9 L1464.3,1409.8 L1467.6,1411.6 L1470.7,1412.4 L1473.8,1413.3 L1477.1,1414.9 L1480.3,1416.6 L1483.3,1418.1 L1485.9,1419.4 L1488.2,1420.5 L1490.5,1421.7 L1492.8,1423 L1495.1,1424.3 L1497.6,1425.2 L1500.6,1425.5 L1503.9,1425.5 L1507.1,1425.2 L1510.3,1425 L1513.5,1424.6 L1516.7,1424 L1519.8,1423.3 L1523,1422.5 L1526.2,1421.7 L1529.4,1420.9 L1532.5,1420.1 L1535.7,1419.3 L1538.9,1418.5 L1542.1,1417.7 L1545.2,1416.9 L1548.6,1416.1 L1551.9,1415.3 L1554.8,1414.5 L1556.5,1413.8 L1557.8,1413 L1559.5,1412.1 L1562.3,1411.1 L1565.7,1410 L1569,1408.6 L1572.3,1406.8 L1575.6,1404.7 L1578.6,1402.6 L1581.2,1400.5 L1583.5,1398.4 L1585.7,1396.7 L1588,1395.4 L1590.2,1394.4 L1591.7,1393.8" fill="none" stroke="#0000ff" stroke-width="4.8" stroke-linejoin="round" stroke-linecap="round"/>
<path d="M1637.5,1370.7 L1639.6,1370.2 L1642.7,1369.5 L1645.9,1369 L1649,1368.8 L1652.2,1368.7 L1655.4,1369 L1658.6,1369.7 L1661.8,1370.7 L1665,1371.9 L1668.1,1372.9 L1671.3,1374.1 L1674.5,1375.4 L1677.7,1376.9 L1680.9,1378.5 L1684,1380.2 L1687.2,1382.1 L1690.4,1384 L1693.6,1386.2 L1696.8,1388.4 L1699.9,1390.7 L1703.1,1393.3 L1706.3,1396.4 L1709.5,1399.8 L1712.7,1402.9 L1715.9,1405.3 L1719,1407.5 L1722.2,1410 L1725.4,1413.2 L1728.6,1416.6 L1731.8,1419.6 L1734.9,1421.9 L1738.1,1423.9 L1741.3,1425.5 L1744.5,1426.6 L1747.7,1427.4 L1750.8,1427.9 L1754.1,1428.3 L1757.3,1428.5 L1760.4,1428.6 L1763.6,1428.7 L1766.8,1428.7 L1769,1428.6" fill="none" stroke="#0000ff" stroke-width="4.8" stroke-linejoin="round" stroke-linecap="round"/>
<path d="M866.7,1386 L869.5,1386.8 L873.6,1388 L878.6,1389.5 L884.4,1391.3 L891,1393.3 L897.6,1395.5 L904,1397.8 L910.3,1400.3 L916.7,1402.6 L923,1404.8 L929.4,1406.8 L935.7,1408.6 L942.1,1410.2 L948.4,1411.6 L954.8,1412.9 L961.8,1413.9 L968.9,1414.7 L973.8,1415.2" fill="none" stroke="#0a640a" stroke-width="4.2" stroke-linejoin="round" stroke-linecap="round"/>
<path d="M978.6,1415.7 L982.1,1415.8 L987.2,1415.8 L992.9,1415.7 L999.1,1415.4 L1005.8,1415 L1011.9,1414.5 L1017.2,1413.9 L1021.8,1413.3 L1025,1412.9" fill="none" stroke="#0a640a" stroke-width="4.2" stroke-linejoin="round" stroke-linecap="round"/>
<path d="M1028.6,1412.1 L1031.6,1411.2 L1035.9,1409.9 L1040.5,1408.6 L1045.1,1407.1 L1049.9,1405.6 L1054.8,1404.3 L1059.8,1403.1 L1064.8,1402.2 L1069,1401.4 L1072.2,1401.1 L1074.6,1401 L1076.2,1401" fill="none" stroke="#0a640a" stroke-width="4.2" stroke-linejoin="round" stroke-linecap="round"/>
<path d="M1081,1399 L1084,1397.7 L1088.3,1395.9 L1092.9,1394.3 L1097.4,1393.1 L1102.1,1392.1 L1107.1,1391.4 L1112.5,1391 L1118.2,1390.9 L1123.8,1391 L1129.3,1391.2 L1134.7,1391.7 L1140.5,1392.4 L1146.6,1393.2 L1153.1,1394.3 L1159.5,1395.5 L1166,1397 L1172.4,1398.6 L1178.6,1400.2 L1184.3,1401.6 L1189.8,1402.9 L1195.2,1404.3 L1200.9,1405.9 L1206.5,1407.6 L1211.9,1409 L1216.8,1410.2 L1221.5,1411.2 L1226.2,1412.1 L1231.1,1413 L1236.1,1413.8 L1240.5,1414.5 L1244.4,1414.9 L1247.7,1415.2 L1250,1415.7 L1250.2,1416.9 L1249.3,1418.4 L1250,1419.3 L1253.7,1418.9 L1259,1417.9 L1264.3,1416.9 L1268.9,1416.2 L1273.5,1415.4 L1278.6,1414.5 L1284.6,1413.4 L1291.1,1412.2 L1297.6,1411 L1304.1,1409.8 L1310.5,1408.7 L1316.7,1407.4 L1322.6,1405.9 L1328.2,1404.3 L1333.3,1402.6 L1337.7,1400.8 L1341.4,1398.9 L1345.2,1397.1 L1349.2,1395.6 L1353.2,1394.1 L1357.1,1392.9 L1361.1,1391.8 L1365.1,1390.8 L1369,1390 L1373.3,1389.3 L1377.5,1388.7 L1381,1388.3 L1383.2,1388.1 L1384.7,1388.1 L1385.7,1388.1" fill="none" stroke="#0a640a" stroke-width="4.2" stroke-linejoin="round" stroke-linecap="round"/>
<path d="M1391.7,1387.6 L1395.1,1387.6 L1400,1387.5 L1404.8,1387.6 L1408.7,1387.9 L1412.6,1388.3 L1416.7,1388.8 L1421.3,1389.5 L1426.1,1390.3 L1431,1391.2 L1435.7,1392.3 L1440.5,1393.5 L1445.2,1394.8 L1450,1396 L1454.8,1397.1 L1459.5,1398.3 L1464.3,1399.5 L1469,1400.7 L1473.8,1401.9 L1478.7,1403.3 L1483.5,1404.8 L1488.1,1406.2 L1492.2,1407.5 L1496.1,1408.7 L1500,1409.8 L1504,1410.5 L1507.9,1411 L1511.9,1411.4 L1515.9,1411.9 L1519.8,1412.4 L1523.8,1412.9 L1527.8,1413.2 L1531.7,1413.6 L1535.7,1413.8 L1539.8,1413.9 L1543.8,1413.9 L1547.6,1413.8 L1550.8,1413.7 L1553.7,1413.6 L1557.1,1413.3 L1561.6,1413 L1566.7,1412.7 L1571.4,1412.1 L1575.7,1411.4 L1579.7,1410.5 L1583.3,1409.8 L1586.7,1409.2 L1589.6,1408.8 L1591.7,1408.6" fill="none" stroke="#0a640a" stroke-width="4.2" stroke-linejoin="round" stroke-linecap="round"/>
<path d="M1637.5,1393.8 L1640.9,1392.7 L1645.7,1391.1 L1650.6,1389.7 L1655.3,1388.9 L1660.1,1388.4 L1665,1388.1 L1669.7,1388 L1674.5,1388.3 L1679.3,1388.5 L1684,1388.9 L1688.8,1389.3 L1693.6,1389.7 L1698.4,1390.2 L1703.1,1390.8 L1707.9,1391.4 L1712.7,1392.1 L1717.4,1392.8 L1722.2,1393.8 L1727,1395 L1731.8,1396.5 L1736.5,1398.1 L1741.5,1400 L1746.4,1402.1 L1750.8,1404.1 L1754.5,1405.6 L1757.6,1407 L1760.4,1408.1 L1762.9,1409 L1765.1,1409.6 L1766.6,1410" fill="none" stroke="#0a640a" stroke-width="4.2" stroke-linejoin="round" stroke-linecap="round"/>
<path d="M866.2,1394.8 L871.1,1395.1 L878.2,1395.6 L885.7,1396.2 L893.3,1397 L901.4,1398 L909.5,1399 L917.5,1400.2 L925.4,1401.4 L933.3,1402.6 L941.5,1403.9 L949.7,1405.1 L957.1,1406.2 L963.8,1407 L969.8,1407.7 L973.8,1408.1" fill="none" stroke="#a0564a" stroke-width="4.2" stroke-linejoin="round" stroke-linecap="round"/>
<path d="M978.6,1408.6 L983.2,1408.9 L989.9,1409.4 L997.6,1409.8 L1007.1,1409.9 L1017.6,1409.8 L1025,1409.8" fill="none" stroke="#a0564a" stroke-width="4.2" stroke-linejoin="round" stroke-linecap="round"/>
<path d="M1028.6,1412.1 L1031.6,1411.9 L1035.9,1411.5 L1040.5,1411 L1044.8,1410.2 L1049.4,1409.4 L1054.8,1408.6 L1062.2,1407.7 L1070.4,1406.8 L1076.2,1406.2" fill="none" stroke="#a0564a" stroke-width="4.2" stroke-linejoin="round" stroke-linecap="round"/>
<path d="M1081,1405 L1085.7,1404.4 L1092.6,1403.6 L1100,1402.6 L1107.6,1401.6 L1115.7,1400.4 L1123.8,1399.5 L1131.7,1399 L1139.7,1398.7 L1147.6,1398.6 L1155.6,1398.6 L1163.5,1398.7 L1171.4,1399 L1179.4,1399.7 L1187.3,1400.5 L1195.2,1401.4 L1202.9,1402.3 L1210.6,1403.3 L1219,1404.3 L1230,1405.4 L1241.7,1406.6 L1250,1407.4 L1251.4,1407.5 L1249.4,1407.3 L1250,1407.4 L1256.2,1408.1 L1265,1409 L1273.8,1409.8 L1281.7,1410.2 L1289.7,1410.4 L1297.6,1410.5 L1305.6,1410.4 L1313.5,1410.2 L1321.4,1409.8 L1329.6,1408.9 L1337.8,1407.9 L1345.2,1406.7 L1351.3,1405.4 L1356.6,1403.9 L1361.9,1402.6 L1367.8,1401.5 L1373.7,1400.4 L1378.6,1399.5 L1381.9,1398.9 L1384.2,1398.4 L1385.7,1398.1" fill="none" stroke="#a0564a" stroke-width="4.2" stroke-linejoin="round" stroke-linecap="round"/>
<path d="M1391.7,1397.1 L1397,1396.5 L1404.5,1395.5 L1411.9,1394.8 L1418.3,1394.4 L1424.5,1394.3 L1431,1394.3 L1437.8,1394.4 L1445,1394.8 L1452.4,1395.2 L1460.1,1395.9 L1468.2,1396.7 L1476.2,1397.6 L1484.6,1398.6 L1492.9,1399.7 L1500,1400.7 L1504.9,1401.5 L1508.4,1402.2 L1511.9,1402.9 L1515.4,1403.4 L1519,1403.8 L1523.8,1404.3 L1530.9,1404.9 L1539.2,1405.6 L1547.6,1406.2 L1555.7,1406.5 L1563.8,1406.6 L1571.4,1406.7 L1579.2,1406.7 L1586.6,1406.7 L1591.7,1406.7" fill="none" stroke="#a0564a" stroke-width="4.2" stroke-linejoin="round" stroke-linecap="round"/>
<path d="M1637.5,1401.7 L1641.9,1401.1 L1648.4,1400.3 L1655.4,1399.3 L1662.9,1398.1 L1671.1,1396.8 L1679.3,1395.7 L1687.2,1394.8 L1695.2,1394.2 L1703.1,1393.8 L1711.1,1393.8 L1719,1394.1 L1727,1394.5 L1735.2,1395.2 L1743.5,1396 L1750.8,1396.9 L1757.3,1397.8 L1762.8,1398.7 L1766.6,1399.3" fill="none" stroke="#a0564a" stroke-width="4.2" stroke-linejoin="round" stroke-linecap="round"/>
<path d="M866.7,1403.8 L973.8,1402.6" fill="none" stroke="#807a0c" stroke-width="5.2" stroke-linejoin="round" stroke-linecap="round"/>
<path d="M976.2,1401.4 L1025,1403.3" fill="none" stroke="#807a0c" stroke-width="5.2" stroke-linejoin="round" stroke-linecap="round"/>
<path d="M1028.6,1405.7 L1076.2,1405.7" fill="none" stroke="#807a0c" stroke-width="5.2" stroke-linejoin="round" stroke-linecap="round"/>
<path d="M1081,1405.2 L1095.4,1404.5 L1116,1403.5 L1135.7,1402.6 L1151.4,1402 L1166.3,1401.6 L1183.3,1401.4 L1206.6,1401.7 L1232,1402.2 L1250,1402.6 L1252.3,1402.9 L1247.2,1403.1 L1250,1403.3 L1268.8,1403.7 L1295.5,1404 L1321.4,1404.3 L1345.8,1404.4 L1369.3,1404.3 L1385.7,1404.3" fill="none" stroke="#807a0c" stroke-width="5.2" stroke-linejoin="round" stroke-linecap="round"/>
<path d="M1391.7,1404.3 L1408.5,1404 L1433.3,1403.5 L1464.3,1403.3 L1507.4,1403.5 L1556.6,1404 L1591.7,1404.3" fill="none" stroke="#807a0c" stroke-width="5.2" stroke-linejoin="round" stroke-linecap="round"/>
<path d="M1637.5,1403.3 L1649,1403.1 L1665.1,1402.8 L1679.3,1402.4 L1688.6,1401.9 L1696,1401.4 L1703.1,1401 L1711.3,1400.7 L1719.1,1400.6 L1724.6,1400.5" fill="none" stroke="#807a0c" stroke-width="5.2" stroke-linejoin="round" stroke-linecap="round"/>
<path d="M1727,1401 L1766.6,1400.5" fill="none" stroke="#807a0c" stroke-width="5.2" stroke-linejoin="round" stroke-linecap="round"/>
</g>
<rect x="152.4" y="866" width="1896.6" height="805" fill="none" stroke="#2e2e2e" stroke-width="2.0"/>
<line x1="152.4" y1="1581.6" x2="158.4" y2="1581.6" stroke="#333" stroke-width="1.2"/>
<line x1="2043" y1="1581.6" x2="2049" y2="1581.6" stroke="#333" stroke-width="1.2"/>
<text x="140" y="1599.1" font-size="52" text-anchor="end" font-family="Liberation Serif, serif" fill="#000">-10</text>
<line x1="152.4" y1="1492.1" x2="158.4" y2="1492.1" stroke="#333" stroke-width="1.2"/>
<line x1="2043" y1="1492.1" x2="2049" y2="1492.1" stroke="#333" stroke-width="1.2"/>
<text x="140" y="1509.6" font-size="52" text-anchor="end" font-family="Liberation Serif, serif" fill="#000">-5</text>
<line x1="152.4" y1="1402.7" x2="158.4" y2="1402.7" stroke="#333" stroke-width="1.2"/>
<line x1="2043" y1="1402.7" x2="2049" y2="1402.7" stroke="#333" stroke-width="1.2"/>
<text x="140" y="1420.2" font-size="52" text-anchor="end" font-family="Liberation Serif, serif" fill="#000">0</text>
<line x1="152.4" y1="1313.2" x2="158.4" y2="1313.2" stroke="#333" stroke-width="1.2"/>
<line x1="2043" y1="1313.2" x2="2049" y2="1313.2" stroke="#333" stroke-width="1.2"/>
<text x="140" y="1330.7" font-size="52" text-anchor="end" font-family="Liberation Serif, serif" fill="#000">5</text>
<line x1="152.4" y1="1223.8" x2="158.4" y2="1223.8" stroke="#333" stroke-width="1.2"/>
<line x1="2043" y1="1223.8" x2="2049" y2="1223.8" stroke="#333" stroke-width="1.2"/>
<text x="140" y="1241.3" font-size="52" text-anchor="end" font-family="Liberation Serif, serif" fill="#000">10</text>
<line x1="152.4" y1="1134.3" x2="158.4" y2="1134.3" stroke="#333" stroke-width="1.2"/>
<line x1="2043" y1="1134.3" x2="2049" y2="1134.3" stroke="#333" stroke-width="1.2"/>
<text x="140" y="1151.8" font-size="52" text-anchor="end" font-family="Liberation Serif, serif" fill="#000">15</text>
<line x1="152.4" y1="1044.9" x2="158.4" y2="1044.9" stroke="#333" stroke-width="1.2"/>
<line x1="2043" y1="1044.9" x2="2049" y2="1044.9" stroke="#333" stroke-width="1.2"/>
<text x="140" y="1062.4" font-size="52" text-anchor="end" font-family="Liberation Serif, serif" fill="#000">20</text>
<line x1="152.4" y1="955.4" x2="158.4" y2="955.4" stroke="#333" stroke-width="1.2"/>
<line x1="2043" y1="955.4" x2="2049" y2="955.4" stroke="#333" stroke-width="1.2"/>
<text x="140" y="972.9" font-size="52" text-anchor="end" font-family="Liberation Serif, serif" fill="#000">25</text>
<text x="140" y="883.5" font-size="52" text-anchor="end" font-family="Liberation Serif, serif" fill="#000">30</text>
<line x1="222.9" y1="1666" x2="222.9" y2="1671" stroke="#333" stroke-width="1.2"/>
<line x1="293.6" y1="1662" x2="293.6" y2="1671" stroke="#333" stroke-width="1.2"/>
<line x1="363.6" y1="1666" x2="363.6" y2="1671" stroke="#333" stroke-width="1.2"/>
<line x1="433.5" y1="1666" x2="433.5" y2="1671" stroke="#333" stroke-width="1.2"/>
<line x1="504.2" y1="1666" x2="504.2" y2="1671" stroke="#333" stroke-width="1.2"/>
<line x1="575" y1="1662" x2="575" y2="1671" stroke="#333" stroke-width="1.2"/>
<line x1="644.2" y1="1666" x2="644.2" y2="1671" stroke="#333" stroke-width="1.2"/>
<line x1="714.1" y1="1666" x2="714.1" y2="1671" stroke="#333" stroke-width="1.2"/>
<line x1="784.8" y1="1666" x2="784.8" y2="1671" stroke="#333" stroke-width="1.2"/>
<line x1="855.6" y1="1662" x2="855.6" y2="1671" stroke="#333" stroke-width="1.2"/>
<line x1="924.7" y1="1666" x2="924.7" y2="1671" stroke="#333" stroke-width="1.2"/>
<line x1="994.7" y1="1666" x2="994.7" y2="1671" stroke="#333" stroke-width="1.2"/>
<line x1="1065.4" y1="1666" x2="1065.4" y2="1671" stroke="#333" stroke-width="1.2"/>
<line x1="1136.2" y1="1662" x2="1136.2" y2="1671" stroke="#333" stroke-width="1.2"/>
<line x1="1205.3" y1="1666" x2="1205.3" y2="1671" stroke="#333" stroke-width="1.2"/>
<line x1="1275.3" y1="1666" x2="1275.3" y2="1671" stroke="#333" stroke-width="1.2"/>
<line x1="1346" y1="1666" x2="1346" y2="1671" stroke="#333" stroke-width="1.2"/>
<line x1="1416.7" y1="1662" x2="1416.7" y2="1671" stroke="#333" stroke-width="1.2"/>
<line x1="1486.7" y1="1666" x2="1486.7" y2="1671" stroke="#333" stroke-width="1.2"/>
<line x1="1556.7" y1="1666" x2="1556.7" y2="1671" stroke="#333" stroke-width="1.2"/>
<line x1="1627.4" y1="1666" x2="1627.4" y2="1671" stroke="#333" stroke-width="1.2"/>
<line x1="1698.1" y1="1662" x2="1698.1" y2="1671" stroke="#333" stroke-width="1.2"/>
<line x1="1767.3" y1="1666" x2="1767.3" y2="1671" stroke="#333" stroke-width="1.2"/>
<line x1="1837.2" y1="1666" x2="1837.2" y2="1671" stroke="#333" stroke-width="1.2"/>
<line x1="1908" y1="1666" x2="1908" y2="1671" stroke="#333" stroke-width="1.2"/>
<line x1="1978.7" y1="1662" x2="1978.7" y2="1671" stroke="#333" stroke-width="1.2"/>
<text transform="translate(57,438.8) rotate(-90)" font-size="48.5" text-anchor="middle" font-family="Liberation Serif, serif" fill="#000">Temperature anomaly (K)</text>
<text transform="translate(57,1269.5) rotate(-90)" font-size="48.5" text-anchor="middle" font-family="Liberation Serif, serif" fill="#000">Temperature anomaly (K)</text>
<text x="285.6" y="1711.5" font-size="50" text-anchor="middle" font-family="Liberation Serif, serif" fill="#000">2016/01</text>
<text x="567" y="1711.5" font-size="50" text-anchor="middle" font-family="Liberation Serif, serif" fill="#000">2017/01</text>
<text x="847.6" y="1711.5" font-size="50" text-anchor="middle" font-family="Liberation Serif, serif" fill="#000">2018/01</text>
<text x="1128.2" y="1711.5" font-size="50" text-anchor="middle" font-family="Liberation Serif, serif" fill="#000">2019/01</text>
<text x="1408.7" y="1711.5" font-size="50" text-anchor="middle" font-family="Liberation Serif, serif" fill="#000">2020/01</text>
<text x="1690.1" y="1711.5" font-size="50" text-anchor="middle" font-family="Liberation Serif, serif" fill="#000">2021/01</text>
<text x="1050" y="1759" font-size="49" text-anchor="middle" font-family="Liberation Serif, serif" fill="#000">Time</text>
<text x="190" y="104.5" font-size="58" text-anchor="start" font-family="Liberation Sans, sans-serif" font-weight="bold" fill="#000">CTS</text>
<text x="186" y="934.5" font-size="58" text-anchor="start" font-family="Liberation Sans, sans-serif" font-weight="bold" fill="#000">HRR</text>
<text x="186" y="811" font-size="70" text-anchor="start" font-family="Liberation Sans, sans-serif" fill="#000">(a)</text>
<text x="186.5" y="1634.2" font-size="70" text-anchor="start" font-family="Liberation Sans, sans-serif" fill="#000">(b)</text>
<text x="1951.5" y="101.6" font-size="51" text-anchor="middle" font-family="Liberation Sans, sans-serif" font-weight="bold" fill="#b9fcc0" style="font-kerning:none">SAT</text>
<text x="1847.5" y="174.5" font-size="51" text-anchor="middle" font-family="Liberation Sans, sans-serif" font-weight="bold" fill="#f7c98b" style="font-kerning:none">GST</text>
<text x="1950" y="247.3" font-size="49.8" text-anchor="middle" font-family="Liberation Sans, sans-serif" font-weight="bold" fill="#bd7354" style="font-kerning:none">0.5 m</text>
<text x="1847" y="320.2" font-size="49.8" text-anchor="middle" font-family="Liberation Sans, sans-serif" font-weight="bold" fill="#ff0000" style="font-kerning:none">1.0 m</text>
<text x="1950" y="393.1" font-size="49.8" text-anchor="middle" font-family="Liberation Sans, sans-serif" font-weight="bold" fill="#ff00ff" style="font-kerning:none">2.0 m</text>
<text x="1847" y="466.1" font-size="49.8" text-anchor="middle" font-family="Liberation Sans, sans-serif" font-weight="bold" fill="#9400d3" style="font-kerning:none">3.0 m</text>
<text x="1950" y="539" font-size="49.8" text-anchor="middle" font-family="Liberation Sans, sans-serif" font-weight="bold" fill="#0000ff" style="font-kerning:none">5.0 m</text>
<text x="1847" y="611.9" font-size="49.8" text-anchor="middle" font-family="Liberation Sans, sans-serif" font-weight="bold" fill="#0a640a" style="font-kerning:none">7.5 m</text>
<text x="1951" y="684.8" font-size="49.8" text-anchor="middle" font-family="Liberation Sans, sans-serif" font-weight="bold" fill="#a0564a" style="font-kerning:none">10.0 m</text>
<text x="1847" y="757.8" font-size="49.8" text-anchor="middle" font-family="Liberation Sans, sans-serif" font-weight="bold" fill="#807a0c" style="font-kerning:none">15.0 m</text>
<text x="1950" y="830.7" font-size="49.8" text-anchor="middle" font-family="Liberation Sans, sans-serif" font-weight="bold" fill="#000000" style="font-kerning:none">20.0 m</text>
<text x="1951.5" y="932.8" font-size="51" text-anchor="middle" font-family="Liberation Sans, sans-serif" font-weight="bold" fill="#b9fcc0" style="font-kerning:none">SAT</text>
<text x="1847.5" y="1005.7" font-size="51" text-anchor="middle" font-family="Liberation Sans, sans-serif" font-weight="bold" fill="#f7c98b" style="font-kerning:none">GST</text>
<text x="1950" y="1078.5" font-size="49.8" text-anchor="middle" font-family="Liberation Sans, sans-serif" font-weight="bold" fill="#bd7354" style="font-kerning:none">0.5 m</text>
<text x="1847" y="1151.4" font-size="49.8" text-anchor="middle" font-family="Liberation Sans, sans-serif" font-weight="bold" fill="#ff0000" style="font-kerning:none">1.0 m</text>
<text x="1950" y="1224.3" font-size="49.8" text-anchor="middle" font-family="Liberation Sans, sans-serif" font-weight="bold" fill="#ff00ff" style="font-kerning:none">2.0 m</text>
<text x="1847" y="1297.3" font-size="49.8" text-anchor="middle" font-family="Liberation Sans, sans-serif" font-weight="bold" fill="#9400d3" style="font-kerning:none">3.0 m</text>
<text x="1950" y="1370.2" font-size="49.8" text-anchor="middle" font-family="Liberation Sans, sans-serif" font-weight="bold" fill="#0000ff" style="font-kerning:none">5.0 m</text>
<text x="1847" y="1443.1" font-size="49.8" text-anchor="middle" font-family="Liberation Sans, sans-serif" font-weight="bold" fill="#0a640a" style="font-kerning:none">7.5 m</text>
<text x="1951" y="1516" font-size="49.8" text-anchor="middle" font-family="Liberation Sans, sans-serif" font-weight="bold" fill="#a0564a" style="font-kerning:none">10.0 m</text>
<text x="1847" y="1589" font-size="49.8" text-anchor="middle" font-family="Liberation Sans, sans-serif" font-weight="bold" fill="#807a0c" style="font-kerning:none">15.0 m</text>
<text x="1950" y="1661.9" font-size="49.8" text-anchor="middle" font-family="Liberation Sans, sans-serif" font-weight="bold" fill="#000000" style="font-kerning:none">20.0 m</text>
<line x1="359.8" y1="1807.3" x2="359.8" y2="2557.3" stroke="#dedede" stroke-width="1.2" stroke-dasharray="2,4"/>
<line x1="544.3" y1="1807.3" x2="544.3" y2="2557.3" stroke="#dedede" stroke-width="1.2" stroke-dasharray="2,4"/>
<line x1="728.9" y1="1807.3" x2="728.9" y2="2557.3" stroke="#dedede" stroke-width="1.2" stroke-dasharray="2,4"/>
<line x1="913.4" y1="1807.3" x2="913.4" y2="2557.3" stroke="#dedede" stroke-width="1.2" stroke-dasharray="2,4"/>
<g id="data_cl">
<clipPath id="clip_cl"><rect x="175.6" y="1800" width="858.4" height="775"/></clipPath><g clip-path="url(#clip_cl)">
<path d="M175.2,2415.5 L177.9,2402.4 L180.5,2388 L183.1,2397.2 L185.7,2410.3 L188.3,2415.5 L191,2405 L192.3,2389.3 L194.1,2405 L195.7,2389.3 L196.7,2407.6 L197.8,2365.7 L198.8,2336.9 L200.9,2329.1 L203.5,2323.8 L206.1,2317.3 L208,2300.2 L209.8,2281.9 L211.4,2274.1 L212.4,2287.2 L213.5,2297.6 L214.5,2281.9 L216.1,2297.6 L217.1,2280.6 L218.5,2308.1 L220.3,2339.5 L222.4,2365.7 L224,2380.1 L226.3,2380.9 L227.6,2365.7 L229.2,2355.2 L230.8,2365.7 L232.9,2371 L235,2372.3 L237.1,2373.6 L239.1,2361.8 L241.2,2357.9 L242.8,2344.8 L244.4,2333 L247,2333.8 L249.1,2342.2 L251.2,2355.2 L253.3,2371 L254.9,2384.1 L257.5,2386.7 L258.5,2365.7 L259.6,2329.1 L261.1,2297.6 L262.7,2281.9 L264.3,2292.4 L265.3,2280.6 L266.4,2292.4 L268,2281.9 L269.5,2272.7 L272.7,2270.1 L274.2,2287.2 L276.1,2308.1 L277.9,2326.4 L280,2352.6 L282.1,2378.8 L283.7,2391.9 L285.2,2381.4 L286.3,2373.6 L287.9,2386.7 L290,2391.9 L291.5,2390.6 L293.1,2381.4 L295.7,2371 L297.3,2376.2 L298.9,2384.1 L301,2383.5 L303.6,2380.1 L305.7,2363.1 L307.8,2355.2 L309.3,2352.6 L310.9,2360.5 L313,2344.8 L314.6,2355.2 L316.1,2371 L318.8,2376.2 L319.8,2360.5 L320.9,2329.1 L322.4,2297.6 L324.5,2271.4 L326.6,2259.6 L329.2,2257 L331.9,2251 L334.5,2255.7 L337.1,2263.6 L339.2,2279.3 L340.8,2302.9 L341.8,2329.1 L342.9,2352.6 L344.4,2378.8 L346.5,2397.2 L348.6,2407.6 L350.7,2418.1 L352.8,2414.2 L354.4,2412.3 L356.5,2416.8 L358.6,2415.5 L361.2,2418.1 L363.3,2420.2 L364.3,2407.6 L365.9,2389.3 L367.5,2374.9 L369.1,2381.4 L371.2,2388 L372.2,2377.5 L373.8,2391.9 L375.3,2406.3 L377.4,2402.4 L380.1,2403.7 L381.6,2391.9 L383.7,2365.7 L385.3,2344.8 L387.9,2342.2 L390.5,2335.6 L393.2,2334.3 L395.8,2326.4 L397.3,2336.9 L399.4,2350 L401.5,2365.7 L403.1,2384.1 L404.7,2402.4 L406.8,2418.1 L408.9,2426 L411,2432.5 L413.6,2433.8 L416.2,2437.8 L418.8,2441.7 L421.4,2446.9 L425.4,2444.3 L428.8,2445.6 L431.9,2444.3 L434.5,2445.6 L437.2,2440.4 L439.8,2443 L442.4,2437.8 L444.5,2432.5 L447.1,2431.2 L449.2,2427.3 L452.3,2426 L454.4,2436.4 L456.8,2440.4 L459.4,2437.8 L462,2444.3 L464.7,2452.2 L467.3,2461.3 L469.9,2453.5 L472.5,2456.1 L475.1,2457.4 L477,2470.5 L479.1,2491.4 L481.2,2507.2 L483.3,2515 L485.3,2509.8 L487.4,2516.3 L489.5,2520.3 L491.6,2522.9 L492.7,2501.9 L493.7,2484.9 L495.8,2488.8 L497.4,2509.8 L499.5,2508.5 L501.6,2507.2 L503.2,2491.4 L505.3,2470.5 L507.3,2463.9 L509.4,2462.6 L511.5,2452.2 L513.6,2435.1 L516.3,2435.1 L518.3,2441.7 L521,2446.9 L523.6,2449.5 L526.2,2462.6 L528.8,2463.9 L531.4,2467.9 L534.1,2469.2 L536.7,2467.9 L539.8,2465.3 L543,2467.9 L546.1,2470.5 L549.3,2474.4 L551.4,2467.9 L554,2454.8 L556.1,2457.4 L558.2,2465.3 L560.3,2470.5 L561.8,2460 L563.9,2444.3 L566,2428.6 L568.1,2428.6 L570.2,2431.2 L572.3,2427.3 L574.9,2426 L577.5,2422 L579.6,2418.1 L581.7,2420.7 L583.8,2419.4 L585.9,2407.6 L588,2398.5 L590.6,2401.1 L593.3,2403.7 L595.9,2405 L598.5,2402.4 L600.1,2397.2 L602.6,2391.9 L604.7,2393.2 L606.8,2402.4 L609.4,2412.9 L612,2420.7 L614.7,2428.6 L616.8,2435.1 L618.9,2428.6 L621,2436.4 L623.6,2444.3 L626.2,2445.6 L628.3,2458.7 L631.4,2459.5 L633.5,2450.8 L636.1,2450.8 L639.3,2449 L643.2,2446.9 L647.1,2444.3 L649.2,2440.4 L651.1,2446.9 L653.7,2448.2 L656.3,2453.5 L658.9,2457.4 L661.6,2454.8 L665.5,2457.4 L669.4,2461.3 L673.3,2465.3 L677.3,2467.9 L679.9,2463.9 L682.5,2470.5 L685.1,2473.1 L689.1,2471.8 L693,2470.5 L695.6,2474.4 L698,2467.9 L699.5,2454.8 L701.1,2437.8 L703.7,2435.1 L705.8,2433.8 L707.4,2457.4 L710,2475.7 L713.1,2484.9 L716.6,2483.6 L719.2,2484.1 L722.6,2479.7 L725.7,2477 L727.3,2478.3 L728.9,2463.9 L730.4,2470.5 L732.5,2478.3 L734.9,2479.7 L738.8,2474.4 L741.4,2477 L744.1,2482.3 L748,2483.6 L751.9,2483.6 L754.5,2479.7 L757.2,2475.7 L761.1,2467.9 L765,2460 L769.7,2448.2 L772.9,2446.9 L776.8,2444.3 L780.7,2441.7 L784.7,2437 L788.6,2443 L791.2,2445.6 L794.3,2444.3 L797.7,2441.7 L801.2,2439.1 L804.3,2433.8 L808.2,2426 L811.6,2420.7 L814.2,2412.9 L817.4,2408.9 L821.3,2406.3 L825.2,2405.5 L829.2,2405 L833.1,2398.5 L836.2,2390.6 L838.9,2390.6 L842.3,2393.2 L845.7,2395.1 L848.8,2391.9 L851.4,2393.2 L855.4,2397.2 L859.3,2399.8 L863.2,2399.8 L867.2,2401.1 L871.1,2403.7 L873.7,2402.4 L877.6,2394.5 L881.6,2386.7 L884.2,2380.1 L888.1,2373.6 L891.3,2369.7 L893.3,2368.3 L895.4,2371 L898.1,2377.5 L900.7,2377.5 L903.3,2382.8 L906.4,2386.7 L909.1,2388 L912.2,2389.3 L915.3,2391.9 L918.5,2397.2 L921.6,2402.4 L924.8,2407.6 L927.4,2408.9 L930.5,2407.6 L933.2,2407.6 L935.3,2408.9 L937.3,2394.5 L939.4,2391.9 L941.5,2365.7 L943.6,2352.6 L945.7,2334.3 L947.3,2313.3 L948.9,2302.9 L950.4,2302.9 L951.5,2318.6 L952.5,2334.3 L954.6,2342.2 L956.7,2350 L958.3,2355.2 L959.9,2381.4 L961.4,2390.6 L964.1,2393.2 L966.7,2407.6 L968.8,2412.9 L970.9,2411.6 L973.5,2416.8 L976.1,2415.5 L978.7,2418.1 L980.3,2422 L982.4,2412.9 L984.5,2408.9 L986.6,2395.8 L988.2,2389.3 L989.7,2402.4 L991.8,2391.9 L993.9,2389.3 L996,2381.4 L997.6,2339.5 L999.2,2302.9 L1000.7,2276.7 L1002.8,2261 L1004.9,2249.2 L1006.5,2245.8 L1008.6,2250.5 L1011.2,2249.2 L1013.8,2258.3 L1016.4,2276.7 L1018,2313.3 L1019.6,2352.6 L1021.2,2374.9 L1022.7,2347.4 L1024.8,2355.2 L1026.9,2360.5 L1029,2368.3 L1030.6,2339.5 L1032.2,2368.3 L1033.7,2382.8" fill="none" stroke="#1e8fff" stroke-width="3.2" stroke-linejoin="round" stroke-linecap="butt"/>
<path d="M175.2,2444.3 L180.5,2449.5 L185.7,2454.8 L191,2458.7 L196.2,2462.1 L198.8,2454.8 L201.4,2448.2 L205.4,2440.4 L208.8,2435.1 L209.8,2418.1 L211.4,2409.7 L213,2415.5 L215,2418.1 L216.6,2418.6 L218.2,2443 L222.4,2443 L243.3,2443 L246,2444.3 L253.8,2446.4 L260.4,2446.4 L263.8,2443 L265.6,2436.4 L266.9,2426 L270.1,2426 L271.6,2405 L272.7,2378.8 L274.8,2372.3 L277.4,2367.8 L279,2378.8 L280.5,2397.2 L282.6,2418.1 L285.2,2431.2 L289.2,2436.4 L293.1,2439.1 L297,2440.4 L301,2441.7 L306.2,2443 L312.7,2443 L316.7,2445.6 L319.3,2446.9 L322.4,2444.3 L327.2,2441.7 L329.8,2431.2 L331.9,2424.7 L332.9,2391.9 L334,2365.7 L336.6,2356.6 L339.2,2360.5 L340.8,2365.7 L341.8,2381.4 L343.4,2402.4 L345.5,2418.1 L348.1,2428.6 L352,2435.1 L357.3,2439.1 L362.5,2441.2 L369.1,2443 L375.6,2445.6 L380.8,2448.2 L384.8,2445.6 L388.7,2443 L390.5,2428.6 L393.2,2433.8 L394.7,2418.1 L396.3,2384.1 L397.9,2371 L398.9,2365.7 L400.5,2373.6 L402.1,2384.1 L403.6,2402.4 L405.7,2411.6 L409.7,2418.1 L413.6,2423.3 L417.5,2431.2 L421.4,2436.4 L426.7,2438.5 L431.9,2439.1 L452.9,2439.1 L456,2436.4 L459.4,2429.9 L462,2425.4 L464.7,2433.8 L468.6,2435.9 L473.8,2437.8 L477.8,2439.1 L481.7,2440.4 L485.6,2444.3 L489.5,2449.5 L494.8,2453.5 L500,2457.4 L503.9,2458.7 L507.9,2452.2 L511.8,2445.6 L515.7,2442.2 L519.7,2441.2 L544.5,2441.2 L548.5,2443 L552.4,2446.9 L556.3,2450.8 L560.3,2452.7 L564.2,2452.2 L568.1,2448.2 L572,2444.3 L576,2442.2 L579.9,2441.7 L600.1,2441.7 L626.2,2440.4 L678.6,2440.4 L683.8,2439.1 L704.8,2439.1 L765,2439.1 L767.6,2437 L783.3,2437 L799.1,2435.9 L809.5,2434.3 L825.2,2434.3 L829.2,2435.9 L854.1,2435.9 L858,2433.8 L927.4,2433.8 L931.3,2432.5 L966.7,2432.5 L970.6,2433.8 L977.2,2432.5 L982.4,2434.3 L987.6,2432.5 L992.9,2433.8 L1008.6,2432.8 L1013.8,2434.3 L1024.3,2432.8 L1029.5,2433.8 L1033.7,2433.3" fill="none" stroke="#0a0ae6" stroke-width="3.6" stroke-linejoin="round" stroke-linecap="butt"/>
<path d="M175.8,2099.9 L177.9,2098.6 L180.5,2072.4 L183.1,2067.2 L184.4,2114.3 L186.2,2166.7 L188.3,2173.2 L191,2161.4 L193,2130 L195.1,2098.6 L197.5,2099.9 L199.3,2103.8 L201.4,2114.3 L203.5,2101.2 L205.4,2072.4 L208,2038.3 L209.8,2037 L213.2,2051.4 L217.1,2061.9 L221.1,2088.1 L225,2127.4 L228.9,2166.7 L232.9,2198.1 L236.8,2223 L239.4,2224.3 L242,2232.2 L246,2234.8 L249.9,2242.6 L252.5,2246.6 L255.1,2232.2 L257.7,2216.4 L260.4,2219.1 L262.2,2192.9 L264.3,2153.6 L265.6,2132.6 L268.2,2132.6 L270.8,2116.9 L273.5,2102.5 L275.3,2102.5 L277.9,2097.3 L280.5,2094.7 L282.6,2127.4 L285.2,2166.7 L288.4,2198.1 L291.8,2208.6 L295.7,2219.1 L299.6,2215.1 L303.6,2216.4 L306.7,2211.2 L310.1,2219.1 L312.7,2224.3 L315.4,2192.9 L318,2161.4 L320.6,2135.3 L324.5,2122.2 L327.2,2111.7 L329.8,2101.2 L332.4,2084.2 L336.3,2072.4 L339.7,2064.5 L342.3,2075 L345,2101.2 L348.1,2140.5 L350.2,2171.9 L352,2187.6 L356,2188.9 L359.1,2200.7 L362.5,2203.4 L366.4,2216.4 L370.4,2211.2 L373,2216.4 L375.6,2221.7 L378.2,2192.9 L380.8,2140.5 L383.5,2101.2 L386.9,2075 L390,2061.9 L392.6,2051.4 L394.7,2047.5 L396.3,2060.6 L398.4,2046.2 L401,2042.3 L403.6,2052.8 L406.2,2047.5 L408.3,2075 L411,2114.3 L414.9,2130 L418.8,2135.3 L421.4,2161.4 L425.4,2187.6 L429.3,2208.6 L431.9,2224.3 L434.5,2225.6 L437.7,2216.4 L441.1,2179.8 L443.7,2140.5 L446.3,2116.9 L448.9,2101.2 L452.3,2096 L455,2109.1 L457.6,2140.5 L459.4,2212.5 L462.8,2211.2 L465.4,2148.3 L467.3,2187.6 L469.9,2208.6 L472.5,2215.1 L475.1,2217.8 L478.5,2213.8 L481.7,2216.4 L485.6,2225.6 L489.5,2233.5 L492.7,2234.8 L496.1,2230.9 L498.7,2192.9 L502.1,2161.4 L505.3,2135.3 L509.2,2114.3 L511.8,2090.7 L514.4,2086.8 L517,2072.4 L521,2052.8 L524.1,2054.1 L526.7,2067.2 L530.1,2109.1 L534.1,2148.3 L537.2,2148.3 L540.6,2166.7 L544.5,2192.9 L548.5,2208.6 L551.9,2195.5 L555,2206 L557.6,2215.1 L561.6,2200.7 L564.2,2153.6 L566.8,2077.6 L569.4,2067.2 L573.4,2059.3 L577.3,2039.7 L579.9,2044.9 L583.3,2030.5 L585.9,2037 L589.1,2061.9 L593,2088.1 L596.9,2111.7 L599.5,2111.7 L600,2109.1 L602.6,2127.4 L605.8,2137.9 L608.9,2137.9 L611,2161.4 L613.6,2179.8 L616.2,2185 L618.9,2200.7 L621,2208.6 L622.5,2208.6 L624.1,2179.8 L626.2,2114.3 L628.8,2082.9 L632,2056.7 L635.4,2046.2 L638.8,2033.1 L641.9,2022.6 L644.5,2014.8 L647.1,2023.9 L649.8,2035.7 L652.4,2075 L655,2101.2 L657.1,2118.2 L660.2,2109.1 L662.9,2119.5 L665,2120.8 L667.1,2151 L668.6,2164.1 L670.2,2151 L673.3,2154.9 L676,2157.5 L678.1,2164.1 L680.1,2162.8 L682.2,2171.9 L683.8,2166.7 L685.4,2140.5 L687,2101.2 L688,2069.8 L690.1,2069.8 L692.2,2048.8 L695.3,2030.5 L698.5,2022.6 L702.1,2022.6 L704.8,2017.4 L706.3,2006.9 L709,2012.2 L711.6,2017.4 L714.2,2048.8 L716.8,2077.6 L718.4,2096 L720.5,2082.9 L723.1,2081.6 L725.7,2096 L728.3,2114.3 L731,2135.3 L733.6,2149.7 L736.2,2145.7 L739.3,2140.5 L742.7,2148.3 L744.6,2153.6 L746.7,2140.5 L748.8,2101.2 L751.9,2075 L755.1,2043.6 L758.2,2027.9 L761.3,2023.9 L765,2023.9 L767.6,2026.6 L770.2,2023.9 L772.9,2022.6 L775.5,2048.8 L778.1,2061.9 L781.2,2077.6 L784.4,2082.9 L787,2101.2 L789.1,2127.4 L791.7,2153.6 L793.8,2169.3 L795.4,2185 L797,2153.6 L800.1,2154.9 L802.7,2162.8 L805.3,2151 L808,2148.3 L809.5,2101.2 L811.1,2084.2 L813.2,2093.3 L814.8,2103.8 L816.3,2088.1 L818.4,2061.9 L821.1,2043.6 L824.2,2030.5 L826.8,2027.9 L829.4,2021.3 L832.1,2023.9 L833.6,2017.4 L835.2,2035.7 L836.8,2075 L838.3,2127.4 L840.4,2166.7 L842,2182.4 L844.6,2174.5 L846.7,2171.9 L848.8,2140.5 L852,2127.4 L854.1,2137.9 L856.7,2132.6 L859.3,2148.3 L861.9,2135.3 L864,2148.3 L866.1,2166.7 L867.7,2174.5 L869.8,2140.5 L871.9,2101.2 L874.5,2072.4 L877.6,2059.3 L880.8,2046.2 L883.9,2047.5 L887.1,2039.7 L890.2,2030.5 L893.3,2026.6 L896,2025.2 L898.1,2035.7 L900.2,2067.2 L902.3,2101.2 L903.8,2127.4 L906.4,2119.5 L909.1,2115.6 L911.7,2119.5 L914.3,2145.7 L916.4,2166.7 L918.5,2127.4 L920.1,2140.5 L922.2,2158.8 L924.3,2154.9 L926.3,2187.6 L929,2179.8 L931.1,2177.2 L932.6,2140.5 L934.2,2096 L937.9,2088.1 L940.5,2077.6 L944.2,2061.9 L947.3,2051.4 L949.9,2043.6 L952.5,2038.3 L955.7,2046.2 L958.3,2061.9 L960.9,2082.9 L964.1,2109.1 L966.7,2130 L969.3,2145.7 L971.9,2161.4 L974,2171.9 L976.1,2160.1 L978.2,2160.1 L980.3,2192.9 L982.4,2216.4 L984,2192.9 L985.5,2171.9 L987.6,2198.1 L990.3,2213.8 L992.9,2226.9 L995,2208.6 L998.1,2187.6 L1001.8,2166.7 L1004.4,2156.2 L1006.5,2156.2 L1008.6,2140.5 L1011.2,2131.3 L1013.8,2132.6 L1016.4,2133.9 L1018.5,2140.5 L1020.6,2161.4 L1023.3,2187.6 L1026.4,2213.8 L1029.5,2229.5 L1032.7,2242.6 L1034.8,2247.9" fill="none" stroke="#fa8072" stroke-width="3.0" stroke-linejoin="round" stroke-linecap="butt"/>
<path d="M175.2,2168 L179.2,2178.5 L183.1,2175.9 L185.7,2179.8 L188.3,2191.6 L191,2195.5 L193.6,2200.7 L194.9,2187.6 L196.2,2164.1 L198.8,2143.1 L201.4,2132.6 L202.7,2098.6 L205.4,2027.9 L208.8,1980.7 L211.4,1963.7 L214.5,1970.2 L217.1,1988.6 L219.8,2009.5 L222.4,2048.8 L226.3,2114.3 L230.2,2151 L234.2,2177.2 L238.1,2200.7 L243.3,2221.7 L247.3,2232.2 L251.2,2226.9 L255.1,2208.6 L259.1,2182.4 L263,2140.5 L265.6,2061.9 L268.2,1993.8 L270.8,1944.1 L273.5,1920.5 L276.1,1920.5 L278.7,1928.3 L281.3,1957.2 L283.9,2009.5 L286.6,2061.9 L289.2,2114.3 L293.1,2153.6 L297,2185 L301,2203.4 L306.2,2213.8 L311.4,2229.5 L314.1,2230.9 L316.7,2228.2 L319.3,2192.9 L321.9,2127.4 L324.5,2075 L327.2,2009.5 L329.8,1946.7 L331.9,1902.1 L334.5,1886.4 L337.1,1881.2 L339.7,1891.7 L341.6,1931 L344.2,1996.4 L346.8,2061.9 L350.7,2119.5 L354.7,2161.4 L359.9,2187.6 L365.1,2206 L370.4,2224.3 L374.3,2230.9 L375.6,2232.2 L378.2,2224.3 L380.8,2192.9 L383.5,2140.5 L386.1,2075 L388.7,2009.5 L391.3,1931 L393.2,1873.3 L394.7,1910 L397.3,1899.5 L401,1900.8 L403.1,1931 L405.7,1983.3 L408.9,2035.7 L412.3,2088.1 L414.9,2114.3 L418.8,2135.3 L422.8,2164.1 L426.7,2187.6 L431.9,2208.6 L435.8,2219.1 L439.8,2213.8 L441.9,2187.6 L444.5,2127.4 L447.1,2061.9 L450.3,2035.7 L452.3,2022.6 L454.2,2061.9 L457.6,2085.5 L459.4,2145.7 L462,2148.3 L464.7,2106.4 L467.3,2122.2 L470.7,2161.4 L473.8,2187.6 L477.8,2203.4 L481.7,2216.4 L486.9,2232.2 L490.8,2243.9 L496.1,2251.8 L498.7,2253.1 L501.3,2245.3 L503.9,2219.1 L506.6,2166.7 L509.2,2114.3 L511.8,2075 L514.4,2035.7 L516.3,1988.6 L518.9,1970.2 L521.5,1965 L524.1,1972.9 L526.2,1999.1 L528.8,2035.7 L531.4,2075 L534.1,2114.3 L536.7,2143.1 L539.3,2151 L541.9,2171.9 L545.9,2192.9 L549.8,2208.6 L555,2221.7 L557.6,2232.2 L560.3,2236.1 L563.4,2229.5 L565.5,2198.1 L568.1,2151 L570.7,2098.6 L573.4,2051.4 L576,2001.7 L578.1,1972.9 L580.7,1975.5 L582.8,1968.9 L585.1,1996.4 L587.8,2030.5 L591.7,2061.9 L595.6,2109.1 L599.5,2140.5 L600,2140.5 L603.9,2171.9 L607.9,2192.9 L611.8,2208.6 L615.7,2219.1 L618.9,2225.6 L621.5,2229.5 L624.1,2224.3 L626.2,2203.4 L628.3,2166.7 L630.4,2114.3 L632.5,2061.9 L634.6,2022.6 L636.7,1988.6 L638.8,1965 L641.4,1954.5 L643.5,1949.3 L645.6,1949.3 L647.1,1978.1 L649.8,2009.5 L652.4,2051.4 L655,2088.1 L657.6,2114.3 L660.8,2143.1 L664.2,2166.7 L667.6,2182.4 L671.2,2192.9 L676,2203.4 L679.9,2209.9 L683.3,2211.2 L685.9,2207.3 L688,2192.9 L690.1,2166.7 L692.2,2127.4 L694.3,2075 L696.4,2022.6 L698.5,1970.2 L700.6,1933.6 L702.7,1931 L704.8,1920.5 L706.9,1920.5 L709,1936.2 L711.6,1957.2 L714.2,2009.5 L716.8,2051.4 L719.4,2082.9 L723.1,2109.1 L727,2130 L731,2151 L734.9,2166.7 L738.8,2182.4 L742,2190.3 L745.4,2198.1 L748,2187.6 L750.6,2166.7 L752.4,2127.4 L754.5,2075 L756.6,2022.6 L758.7,1970.2 L760.8,1925.7 L762.9,1894.3 L765,1885.1 L767.6,1889.1 L769.7,1910 L772.3,1936.2 L774.4,1978.1 L777.1,2022.6 L779.7,2061.9 L782.3,2101.2 L784.9,2127.4 L788.6,2151 L792.5,2169.3 L796.4,2182.4 L800.4,2191.6 L803.8,2195.5 L806.9,2192.9 L809,2182.4 L811.1,2153.6 L812.7,2114.3 L814.2,2109.1 L816.3,2114.3 L819,2088.1 L820.5,2022.6 L822.6,1957.2 L824.7,1910 L826.8,1891.7 L828.4,1885.1 L830,1885.1 L831.5,1910 L833.1,1931 L834.7,1934.9 L836.2,1983.3 L838.3,2035.7 L841,2088.1 L843.6,2127.4 L846.2,2153.6 L849.3,2171.9 L853,2187.6 L856.7,2203.4 L860.6,2216.4 L864.5,2226.9 L867.7,2232.2 L870.3,2224.3 L872.4,2192.9 L874.5,2140.5 L876.6,2088.1 L878.7,2035.7 L880.8,1983.3 L882.9,1944.1 L885.5,1916.6 L888.1,1911.3 L890.2,1923.1 L892.3,1944.1 L895.4,1978.1 L898.1,2022.6 L900.7,2075 L903.3,2114.3 L906.4,2140.5 L910.4,2164.1 L914.3,2182.4 L917.4,2195.5 L920.8,2203.4 L924.8,2213.8 L928.7,2220.4 L931.3,2213.8 L933.9,2192.9 L935.8,2153.6 L937.9,2101.2 L940,2048.8 L942.1,1996.4 L944.2,1936.2 L946.8,1917.9 L949.4,1899.5 L951.5,1894.3 L953.6,1895.6 L955.2,1917.9 L957.3,1957.2 L959.4,2004.3 L961.4,2048.8 L964.1,2088.1 L966.7,2119.5 L969.8,2148.3 L973.2,2161.4 L977.2,2169.3 L981.1,2177.2 L984.5,2185 L987.6,2195.5 L990.8,2203.4 L993.4,2187.6 L996,2153.6 L998.1,2101.2 L1000.7,2035.7 L1003.4,1970.2 L1006,1949.3 L1008.1,1904.8 L1010.2,1870.7 L1011.7,1860.2 L1013.3,1870.7 L1015.4,1899.5 L1017.5,1920.5 L1019.6,1944.1 L1021.7,1996.4 L1024.3,2048.8 L1027.4,2101.2 L1030.9,2153.6 L1034.3,2187.6 L1036.1,2190.3" fill="none" stroke="#ff0000" stroke-width="3.8" stroke-linejoin="round" stroke-linecap="butt"/>
<path d="M175.2,2552.2 L196.2,2551.7 L198.8,2558.2 L206.7,2559.5 L211.9,2555.6 L217.1,2553 L232.9,2550.4 L244.6,2548.5 L248.6,2550.4 L257.7,2550.4 L260.4,2558.2 L268.2,2559.5 L274.8,2554.3 L282.6,2552.2 L301,2551.2 L319.3,2552.2 L324.5,2555.6 L332.4,2554.3 L342.9,2551.7 L358.6,2550.4 L365.1,2547.8 L374.3,2550.4 L379.5,2550.4 L383.5,2556.9 L392.6,2560.9 L397.9,2555.6 L405.7,2552.2 L431.9,2551.2 L458.1,2551.7 L484.3,2551.7 L510.5,2552.2 L536.7,2551.7 L555,2550.4 L562.9,2548.5 L569.4,2551.2 L572,2546.4 L574.7,2538.6 L576.5,2522.9 L578.6,2496.7 L580.7,2475.7 L582.8,2461.3 L585.4,2457.4 L587.8,2458.7 L591.7,2452.2 L595.6,2444.3 L599.5,2423.3 L602.7,2424.7 L604.8,2405 L606.9,2381.4 L608.4,2365.7 L610,2355.2 L614.7,2323.8 L616.8,2310.7 L618.9,2297.6 L621,2287.2 L623,2279.3 L625.1,2277.2 L628.3,2277.2 L630.9,2279.3 L633.5,2289.8 L635.6,2302.9 L637.2,2318.6 L638.8,2331.7 L639.8,2302.9 L640.9,2284.5 L642.4,2313.4 L644,2284.5 L645.6,2281.9 L647.1,2306.8 L652.4,2302.9 L660.2,2296.3 L668.1,2289.8 L676,2284 L678.6,2276.7 L681.2,2281.9 L683.8,2279.3 L686.4,2278 L689.1,2276.7 L691.7,2284.5 L694.3,2289.8 L696.4,2297.6 L698,2279.3 L701.1,2284.5 L703.7,2289.8 L707.4,2285.9 L712.6,2284.5 L720.5,2285.1 L728.3,2284 L736.2,2285.9 L744.1,2287.2 L749.3,2288.5 L754.5,2291.1 L758.5,2295 L760.3,2271.5 L762.4,2232.2 L765,2192.9 L767.6,2161.4 L770.2,2127.4 L772.9,2101.2 L775,2090.7 L777.1,2101.2 L779.2,2088.1 L781.8,2075 L784.4,2061.9 L787,2051.4 L789.1,2046.2 L791.2,2022.6 L793.8,1996.4 L796.4,1970.2 L799.1,1944.1 L801.7,1910 L803.8,1886.4 L805.3,1870.7 L808,1868.1 L811.6,1861.6 L814.2,1856.3 L817.4,1856.3 L818.4,1873.3 L819.5,1891.7 L821.1,1904.8 L823.2,1915.2 L825.2,1923.1 L827.3,1931 L829.4,1941.4 L831.5,1954.5 L833.6,1962.4 L835.2,1967.6 L837.3,1965 L839.9,1963.7 L842.5,1970.2 L844.6,1979.4 L847.2,1974.2 L849.9,1972.9 L852.5,1974.2 L855.1,1978.1 L857.7,1983.3 L860.3,1989.9 L862.4,1993.8 L864.5,2003 L866.6,1991.2 L868.7,1995.1 L870.8,1987.3 L874.5,1991.2 L877.1,1999.1 L878.7,2009.5 L880.3,2044.9 L881.8,2027.9 L882.9,2001.7 L885.5,2006.9 L888.1,2012.2 L890.7,2017.4 L893.3,2022.6 L896,2009.5 L898.6,2020 L901.2,2023.9 L904.9,2022.6 L908,2027.9 L911.2,2035.7 L914.3,2043.6 L918.2,2050.1 L922.2,2055.4 L924.8,2056.7 L927.4,2051.4 L931.3,2047.5 L934.7,2051.4 L937.9,2055.4 L940.5,2060.6 L944.4,2061.9 L947,2065.8 L949.7,2061.9 L952.3,2071.1 L955.2,2067.2 L957.8,2060.6 L961.4,2061.9 L965.4,2063.2 L969.3,2061.9 L973.2,2063.2 L977.2,2064.5 L981.4,2067.7 L986.3,2067.2 L990.3,2068.5 L994.2,2069.8 L996.8,2075 L998.6,2081.6 L1003.4,2081.6 L1007.3,2080.3 L1011.2,2084.2 L1015.1,2088.1 L1017,2090.7 L1020.4,2085.5 L1024.3,2085.5 L1028.2,2084.2 L1030.9,2086.8 L1034.3,2089.4" fill="none" stroke="#ffb3bd" stroke-width="6.4" stroke-linejoin="round" stroke-linecap="butt"/>
</g>
</g>
<rect x="175" y="1805.3" width="859.6" height="754" fill="none" stroke="#2e2e2e" stroke-width="1.3"/>
<line x1="175" y1="2483.9" x2="181" y2="2483.9" stroke="#333" stroke-width="1.2"/>
<line x1="1028.6" y1="2483.9" x2="1034.6" y2="2483.9" stroke="#333" stroke-width="1.2"/>
<line x1="175" y1="2408.5" x2="181" y2="2408.5" stroke="#333" stroke-width="1.2"/>
<line x1="1028.6" y1="2408.5" x2="1034.6" y2="2408.5" stroke="#333" stroke-width="1.2"/>
<line x1="175" y1="2333.1" x2="181" y2="2333.1" stroke="#333" stroke-width="1.2"/>
<line x1="1028.6" y1="2333.1" x2="1034.6" y2="2333.1" stroke="#333" stroke-width="1.2"/>
<line x1="175" y1="2257.7" x2="181" y2="2257.7" stroke="#333" stroke-width="1.2"/>
<line x1="1028.6" y1="2257.7" x2="1034.6" y2="2257.7" stroke="#333" stroke-width="1.2"/>
<line x1="175" y1="2182.3" x2="181" y2="2182.3" stroke="#333" stroke-width="1.2"/>
<line x1="1028.6" y1="2182.3" x2="1034.6" y2="2182.3" stroke="#333" stroke-width="1.2"/>
<line x1="175" y1="2106.9" x2="181" y2="2106.9" stroke="#333" stroke-width="1.2"/>
<line x1="1028.6" y1="2106.9" x2="1034.6" y2="2106.9" stroke="#333" stroke-width="1.2"/>
<line x1="175" y1="2031.5" x2="181" y2="2031.5" stroke="#333" stroke-width="1.2"/>
<line x1="1028.6" y1="2031.5" x2="1034.6" y2="2031.5" stroke="#333" stroke-width="1.2"/>
<line x1="175" y1="1956.1" x2="181" y2="1956.1" stroke="#333" stroke-width="1.2"/>
<line x1="1028.6" y1="1956.1" x2="1034.6" y2="1956.1" stroke="#333" stroke-width="1.2"/>
<line x1="175" y1="1880.7" x2="181" y2="1880.7" stroke="#333" stroke-width="1.2"/>
<line x1="1028.6" y1="1880.7" x2="1034.6" y2="1880.7" stroke="#333" stroke-width="1.2"/>
<line x1="359.8" y1="2551.3" x2="359.8" y2="2559.3" stroke="#333" stroke-width="1.2"/>
<line x1="359.8" y1="1805.3" x2="359.8" y2="1811.3" stroke="#333" stroke-width="1.2"/>
<line x1="544.3" y1="2551.3" x2="544.3" y2="2559.3" stroke="#333" stroke-width="1.2"/>
<line x1="544.3" y1="1805.3" x2="544.3" y2="1811.3" stroke="#333" stroke-width="1.2"/>
<line x1="728.9" y1="2551.3" x2="728.9" y2="2559.3" stroke="#333" stroke-width="1.2"/>
<line x1="728.9" y1="1805.3" x2="728.9" y2="1811.3" stroke="#333" stroke-width="1.2"/>
<line x1="913.4" y1="2551.3" x2="913.4" y2="2559.3" stroke="#333" stroke-width="1.2"/>
<line x1="913.4" y1="1805.3" x2="913.4" y2="1811.3" stroke="#333" stroke-width="1.2"/>
<text x="175.2" y="2600" font-size="50" text-anchor="middle" font-family="Liberation Serif, serif" fill="#000">13</text>
<text x="359.8" y="2600" font-size="50" text-anchor="middle" font-family="Liberation Serif, serif" fill="#000">16</text>
<text x="544.3" y="2600" font-size="50" text-anchor="middle" font-family="Liberation Serif, serif" fill="#000">19</text>
<text x="728.9" y="2600" font-size="50" text-anchor="middle" font-family="Liberation Serif, serif" fill="#000">22</text>
<text x="913.4" y="2600" font-size="50" text-anchor="middle" font-family="Liberation Serif, serif" fill="#000">25</text>
<line x1="1237.1" y1="1807.3" x2="1237.1" y2="2557.3" stroke="#dedede" stroke-width="1.2" stroke-dasharray="2,4"/>
<line x1="1418.5" y1="1807.3" x2="1418.5" y2="2557.3" stroke="#dedede" stroke-width="1.2" stroke-dasharray="2,4"/>
<line x1="1599.9" y1="1807.3" x2="1599.9" y2="2557.3" stroke="#dedede" stroke-width="1.2" stroke-dasharray="2,4"/>
<line x1="1781.3" y1="1807.3" x2="1781.3" y2="2557.3" stroke="#dedede" stroke-width="1.2" stroke-dasharray="2,4"/>
<g id="data_cr">
<clipPath id="clip_cr"><rect x="1056.0" y="1800" width="843.0" height="775"/></clipPath><g clip-path="url(#clip_cr)">
<path d="M1055.6,2381.3 L1060.2,2383.9 L1065.4,2386.5 L1071.8,2388.2 L1078.2,2389 L1083.3,2389.8 L1085.8,2385.2 L1088.4,2372.4 L1091,2359.6 L1093.5,2351.9 L1096.1,2349.9 L1098.6,2351.9 L1101.2,2357 L1105,2364.7 L1108.9,2370.3 L1114,2374.4 L1119.1,2377.5 L1124.2,2379.5 L1129.3,2381.3 L1134.5,2382.6 L1139.6,2383.4 L1142.7,2381.3 L1144.7,2367.3 L1147.3,2346.8 L1149.8,2331.4 L1152.4,2325 L1156,2321.2 L1158.8,2323.7 L1161.3,2330.1 L1164.7,2340.4 L1167.7,2349.3 L1171.6,2357 L1175.4,2362.1 L1180.5,2367.3 L1185.7,2371.1 L1190.8,2374.4 L1195.9,2377.5 L1201,2379.5 L1203.6,2377.5 L1205.6,2367.3 L1207.7,2351.9 L1210.2,2336.5 L1212.8,2330.1 L1216.4,2325.8 L1219.4,2328.9 L1222,2336.5 L1225.3,2346.8 L1229.2,2355.7 L1233,2361.6 L1238.1,2366.7 L1243.2,2371.1 L1248.4,2374.4 L1253.5,2377.5 L1258.6,2380.1 L1262.4,2380.6 L1265,2374.9 L1267,2362.1 L1269.1,2346.8 L1271.7,2337.8 L1274.7,2334 L1277.3,2332.7 L1280.4,2336 L1283.4,2344.2 L1286.8,2351.9 L1290.6,2357 L1295.7,2363.4 L1300.8,2368.5 L1306,2372.4 L1311.1,2376.2 L1316.2,2378 L1321.3,2378.8 L1324.4,2376.2 L1326.9,2368.5 L1329.5,2359.6 L1332.8,2349.3 L1336.2,2340.4 L1338.2,2337.8 L1340.8,2341.7 L1343.3,2349.3 L1346.4,2357 L1350,2363.4 L1354.1,2368.5 L1358.4,2372.9 L1363.5,2377.5 L1368.7,2380.6 L1373.8,2383.1 L1378.9,2384.7 L1385.3,2385.2 L1387.9,2382.6 L1390.4,2372.4 L1393,2362.1 L1396,2355.7 L1399.4,2353.2 L1402.7,2354.5 L1405.8,2358.3 L1409.6,2364.7 L1413.5,2369.8 L1418.6,2374.9 L1423.7,2378.8 L1428.8,2382.1 L1433.9,2384.7 L1439,2386.5 L1444.2,2387.2 L1447.2,2385.2 L1450.6,2380.6 L1454.4,2378.8 L1459.5,2378 L1465.9,2378.8 L1472.3,2377 L1475,2377 L1480.1,2374.9 L1485.2,2375.5 L1490.4,2372.9 L1495.5,2371.9 L1500.6,2371.1 L1504.4,2366 L1508.3,2358.3 L1512.1,2348.1 L1514.7,2345.5 L1517.2,2346.3 L1520.6,2344.2 L1523.6,2346.8 L1527.5,2351.9 L1531.3,2355 L1536.4,2359.6 L1541.5,2365.2 L1546.7,2369.3 L1551.8,2372.4 L1556.4,2374.9 L1559.5,2376.2 L1562,2372.4 L1564.6,2364.7 L1566.6,2354.5 L1568.7,2341.7 L1571.2,2327.6 L1574.3,2319.9 L1577.4,2318.6 L1579.9,2322.5 L1582.5,2331.4 L1585.6,2341.7 L1588.9,2351.9 L1592.7,2360.9 L1596.6,2366.7 L1601.7,2370.3 L1606.8,2372.4 L1613.2,2373.7 L1618.3,2374.4 L1623.5,2374.9 L1626,2372.4 L1628.6,2367.3 L1631.1,2358.3 L1634.2,2351.4 L1637.8,2346.8 L1641.4,2344.2 L1645.2,2345.5 L1649,2347.3 L1654.2,2349.9 L1659.3,2351.9 L1664.4,2353.2 L1669.5,2353.2 L1674.6,2352.4 L1679.8,2354 L1683.6,2351.9 L1686.9,2345.5 L1690,2339.1 L1693.1,2332.7 L1696.4,2327.6 L1699.7,2324.3 L1703.3,2324.5 L1707.9,2326.8 L1713,2329.4 L1718.2,2331.4 L1724.6,2333.5 L1731,2335.5 L1736.1,2336 L1741.7,2336 L1745,2330.1 L1748.4,2323.7 L1751.4,2318.6 L1754.5,2311 L1757.8,2304.6 L1761.2,2301.2 L1764.2,2300.2 L1767.3,2302 L1770.6,2307.1 L1774.5,2312.2 L1778.3,2317.4 L1782.1,2319.1 L1786,2320.2 L1789.8,2322.5 L1794.9,2325 L1798.8,2328.4 L1802.1,2331.4 L1804.7,2332.7 L1807.2,2325 L1809.3,2311 L1811.3,2295.6 L1813.4,2282.8 L1815.9,2275.1 L1819.3,2272.6 L1822.1,2275.1 L1824.6,2282.8 L1827.7,2294.3 L1830.8,2303.3 L1834.6,2313.5 L1838.5,2323.7 L1842.3,2334 L1846.1,2342.9 L1850,2349.9 L1853.8,2355.7 L1858.9,2360.9 L1863.5,2364.2 L1867.1,2366.7 L1869.2,2354.5 L1871.2,2339.1 L1873.3,2321.2 L1875.8,2303.3 L1878.9,2291.8 L1882,2289.2 L1884.5,2293 L1887.1,2300.7 L1890.2,2312.2 L1893.5,2323.7 L1896.8,2334 L1899.9,2341.2" fill="none" stroke="#1e8fff" stroke-width="3.2" stroke-linejoin="round" stroke-linecap="butt"/>
<path d="M1055.6,2402.6 L1060.2,2403.6 L1065.4,2405.7 L1070.5,2406.9 L1075.6,2408.2 L1082,2408.2 L1087.1,2406.9 L1089.7,2403.1 L1092.2,2396.7 L1095.6,2393.4 L1098.6,2395.4 L1102.5,2397 L1107.6,2398 L1114,2399.5 L1121.7,2400 L1129.3,2400.5 L1135.7,2401.8 L1140.9,2401.8 L1144.2,2399.3 L1146.7,2390.3 L1149.8,2377.5 L1152.9,2368.5 L1156,2365.2 L1158.5,2364.7 L1161.1,2368.5 L1164.2,2374.4 L1167.7,2379.5 L1171.6,2383.1 L1175.4,2385.7 L1180.5,2389 L1185.7,2391.6 L1190.8,2392.9 L1195.9,2395.4 L1203.6,2395.4 L1206.6,2390.3 L1209.2,2382.6 L1211.8,2373.7 L1214.3,2367.3 L1216.9,2364.2 L1218.9,2363.4 L1221.5,2367.3 L1224.6,2372.4 L1227.9,2377.5 L1231.7,2381.3 L1235.6,2383.9 L1239.4,2387.2 L1244.5,2390.3 L1249.6,2392.3 L1254.8,2394.9 L1259.9,2395.9 L1266.3,2395.4 L1268.8,2390.3 L1271.4,2382.6 L1274,2374.9 L1276.5,2369.8 L1279.1,2368 L1281.6,2371.1 L1285,2376.2 L1288.5,2379.5 L1292.6,2382.6 L1297,2386.5 L1302.1,2389 L1307.2,2391.6 L1312.3,2392.9 L1318.2,2394.9 L1322.6,2392.9 L1325.9,2389 L1329,2381.3 L1331.5,2372.4 L1334.1,2364.7 L1336.7,2360.1 L1339.2,2360.9 L1341.8,2366 L1344.9,2372.4 L1348.2,2377.5 L1352,2382.1 L1355.9,2386.5 L1360.2,2389.8 L1364.8,2392.9 L1369.9,2395.9 L1375.1,2398.5 L1380.2,2400.5 L1385.3,2400.5 L1388.4,2396.7 L1391.7,2390.3 L1395,2383.9 L1398.1,2380.1 L1401.2,2378.8 L1404.5,2380.6 L1408.3,2383.1 L1412.2,2386.5 L1416.5,2390.3 L1421.1,2392.9 L1426.2,2395.9 L1431.4,2398 L1436.5,2400.5 L1445.4,2400.5 L1448,2398 L1450.6,2395.4 L1454.4,2394.9 L1468.5,2394.9 L1472.3,2393.9 L1475,2394.1 L1480.1,2393.4 L1485.2,2392.3 L1490.4,2391.6 L1495.5,2389 L1500.6,2387.7 L1504.4,2383.9 L1508.3,2377.5 L1512.1,2370.3 L1516,2366.7 L1519.8,2365.2 L1523.1,2366 L1526.2,2368.5 L1530,2371.1 L1533.9,2375.5 L1539,2379.5 L1544.1,2383.1 L1549.2,2385.7 L1554.3,2387.7 L1559.5,2389 L1562.5,2386.5 L1565.9,2381.3 L1568.4,2373.7 L1571,2364.7 L1573.5,2357 L1576.1,2354 L1579.4,2354 L1582,2358.3 L1585.1,2366 L1588.9,2373.7 L1592.7,2378.8 L1596.6,2382.6 L1600.4,2385.2 L1605.5,2386.7 L1610.7,2388.2 L1615.8,2389 L1622.2,2389 L1626,2387.7 L1629.1,2383.9 L1631.6,2377.5 L1634.2,2371.1 L1637.5,2366 L1640.9,2361.6 L1643.9,2359.6 L1647.8,2360.9 L1651.6,2363.4 L1655.4,2366 L1660.6,2367.3 L1669.5,2367.8 L1679.8,2367.8 L1683.6,2364.7 L1687.4,2359.6 L1691.3,2354.5 L1695.1,2348.1 L1699,2342.9 L1702.3,2341.7 L1706.6,2342.9 L1710.5,2344.2 L1715.6,2345.5 L1720.7,2346.8 L1724.6,2348.1 L1741.2,2348.1 L1745,2342.9 L1748.9,2337.8 L1752.7,2332.7 L1756,2326.3 L1759.1,2321.2 L1762.2,2317.4 L1764.7,2316.6 L1768.1,2319.9 L1771.9,2323.7 L1775.7,2328.9 L1779.6,2331.9 L1783.4,2334 L1787.3,2334.5 L1791.1,2337.1 L1794.9,2339.1 L1798.8,2342.9 L1802.6,2346.8 L1805.7,2344.2 L1809,2337.8 L1812.3,2330.1 L1815.4,2322.5 L1818.5,2318.1 L1821.8,2316.6 L1825.1,2318.6 L1828.2,2323.7 L1832.1,2331.4 L1835.9,2339.6 L1839.7,2348.1 L1843.6,2355.7 L1847.4,2362.1 L1851.2,2367.8 L1855.1,2372.4 L1858.9,2375.5 L1862.8,2378 L1866.6,2380.1 L1869.7,2377.5 L1872.2,2369.8 L1874.8,2358.3 L1877.4,2346.8 L1879.9,2339.1 L1882.5,2336 L1885.8,2336.5 L1888.4,2341.7 L1891.7,2349.3 L1894.8,2355.7 L1897.8,2360.9 L1899.9,2362.7" fill="none" stroke="#0a0ae6" stroke-width="3.6" stroke-linejoin="round" stroke-linecap="butt"/>
<path d="M1055.1,1960 L1059,1976.6 L1064.1,1984.3 L1069.2,1994.5 L1073,2000.9 L1076.9,1994.5 L1080.2,1979.2 L1082.8,1958.7 L1085.3,1928 L1087.9,1897.3 L1090.4,1871.7 L1093,1851.2 L1095.6,1841 L1098.6,1846.1 L1101.2,1861.4 L1104.3,1887 L1107.6,1917.7 L1111.4,1943.3 L1115.3,1968.9 L1119.1,1989.4 L1122.9,2009.9 L1126.8,2025.2 L1130.6,2034.2 L1134,2035.5 L1136.5,2027.8 L1139.1,2004.8 L1141.6,1974 L1144.2,1943.3 L1146.7,1912.6 L1149.3,1881.9 L1151.9,1856.3 L1154.4,1842.2 L1156.2,1835.8 L1158.8,1842.2 L1161.3,1861.4 L1164.2,1887 L1167.2,1917.7 L1170.8,1948.5 L1174.9,1976.6 L1178.7,1997.1 L1182.6,2015 L1186.4,2030.4 L1190.3,2041.9 L1193.3,2044.4 L1195.9,2040.6 L1198.5,2025.2 L1201,1999.6 L1203.6,1966.4 L1206.1,1933.1 L1208.7,1897.3 L1211.2,1861.4 L1213.8,1830.7 L1216.4,1817.4 L1218.9,1825.6 L1221.5,1846.1 L1224,1874.2 L1227.1,1907.5 L1230.4,1938.2 L1234.3,1966.4 L1238.1,1989.4 L1242,2009.9 L1245.8,2025.2 L1249.6,2038 L1253.5,2041.9 L1256,2038 L1258.6,2020.1 L1261.2,1992 L1263.7,1958.7 L1266.3,1922.9 L1268.8,1887 L1271.4,1856.3 L1274,1835.8 L1277,1832 L1279.8,1837.1 L1282.4,1856.3 L1285.5,1884.5 L1288.8,1915.2 L1292.1,1943.3 L1295.7,1966.4 L1299.8,1986.8 L1303.4,2004.8 L1307.2,2017.6 L1311.1,2024 L1314.9,2025.2 L1317.5,2017.6 L1320,1997.1 L1322.6,1966.4 L1325.1,1933.1 L1327.7,1897.3 L1330.3,1866.5 L1332.8,1844.8 L1334.6,1838.4 L1336.7,1839.7 L1338.7,1858.9 L1341.3,1881.9 L1344.3,1902.4 L1347.7,1928 L1351.5,1956.1 L1355.3,1979.2 L1359.2,1999.6 L1363,2015 L1366.9,2030.4 L1370.7,2040.6 L1374.5,2044.4 L1377.1,2038 L1379.7,2017.6 L1382.2,1989.4 L1384.8,1958.7 L1387.3,1928 L1390.4,1907.5 L1394.3,1892.1 L1397.6,1883.2 L1400.1,1889.6 L1403.2,1902.4 L1406.3,1912.6 L1409.6,1933.1 L1413.5,1958.7 L1417.3,1981.7 L1421.1,2002.2 L1425,2020.1 L1428.8,2035.5 L1432.6,2044.4 L1436,2047 L1438.5,2038 L1441.1,2017.6 L1443.7,1989.4 L1446.2,1953.6 L1448.8,1917.7 L1451.3,1881.9 L1453.9,1856.3 L1456.4,1838.4 L1459,1835.3 L1461.6,1838.4 L1464.1,1861.4 L1467.2,1887 L1470.3,1917.7 L1473.9,1948.5 L1475,1953.6 L1478.8,1971.5 L1482.7,1992 L1486.5,2009.9 L1490.4,2025.2 L1493.4,2032.9 L1496.8,2036.8 L1499.3,2027.8 L1501.9,2004.8 L1504.4,1968.9 L1507,1928 L1509.6,1887 L1512.1,1851.2 L1514.7,1828.2 L1517.2,1819.2 L1519,1816.6 L1521.6,1823 L1524.1,1835.8 L1527.5,1861.4 L1530.8,1897.3 L1533.9,1928 L1537.2,1953.6 L1540.5,1971.5 L1544.1,1984.3 L1547.9,1999.6 L1551.8,2012.4 L1555.6,2018.8 L1558.4,2015 L1561,1999.6 L1563.6,1974 L1566.1,1938.2 L1568.7,1897.3 L1571.2,1861.4 L1573.8,1833.3 L1576.4,1817.9 L1579.2,1811.5 L1582,1819.2 L1584.5,1835.8 L1587.6,1861.4 L1590.7,1889.6 L1594.3,1915.2 L1597.9,1938.2 L1601.7,1958.7 L1605.5,1976.6 L1609.4,1992 L1613.2,2007.3 L1616.8,2015 L1619.6,2012.4 L1622.2,1999.6 L1624.7,1974 L1627.3,1943.3 L1629.9,1902.4 L1632.4,1864 L1635,1833.3 L1637.5,1815.4 L1640.1,1809.7 L1642.9,1815.4 L1645.5,1828.2 L1648.5,1851.2 L1651.6,1881.9 L1654.7,1912.6 L1658,1938.2 L1661.3,1958.7 L1665.7,1974 L1669.5,1986.8 L1672.6,1994.5 L1675.9,2004.8 L1679,2008.6 L1682.3,2006 L1684.9,1994.5 L1686.9,1979.2 L1688.5,1966.4 L1690.5,1956.1 L1692.6,1933.1 L1694.6,1912.6 L1696.7,1899.8 L1698.7,1893.4 L1700.2,1890.1 L1702.8,1896 L1705.4,1912.6 L1708.4,1935.7 L1711.8,1958.7 L1715.6,1979.2 L1719.4,1999.6 L1723.3,2017.6 L1727.1,2034.2 L1731,2045.7 L1734.8,2056 L1738.6,2058.5 L1741.2,2050.8 L1743.7,2032.9 L1746.3,2004.8 L1748.9,1971.5 L1751.4,1935.7 L1754,1902.4 L1756.5,1876.8 L1758.6,1866.5 L1761.2,1863.5 L1763.7,1866.5 L1766.3,1876.8 L1768.8,1897.3 L1771.9,1922.9 L1775.2,1948.5 L1778.6,1974 L1782.1,1994.5 L1786,2012.4 L1789.8,2027.8 L1793.7,2040.6 L1797,2048.3 L1799.5,2049.6 L1802.1,2043.2 L1804.7,2022.7 L1807.2,1994.5 L1809.8,1958.7 L1812.3,1922.9 L1814.9,1887 L1817.5,1864 L1820,1853.7 L1822.1,1848.6 L1824.6,1855 L1827.7,1869.1 L1830.3,1889.6 L1833.3,1920.3 L1836.4,1948.5 L1839.7,1966.4 L1843.6,1980.4 L1847.4,1993.2 L1851.2,2004.8 L1855.1,2012.4 L1857.6,2020.1 L1860.2,2025.2 L1862.8,2025.2 L1865.3,2016.3 L1867.9,1997.1 L1870.4,1974 L1873,1943.3 L1875.6,1907.5 L1878.1,1874.2 L1880.2,1848.6 L1882.5,1837.9 L1885,1846.1 L1887.6,1866.5 L1890.7,1897.3 L1893.7,1928 L1896.8,1958.7 L1899.9,1979.2" fill="none" stroke="#fa8072" stroke-width="3.0" stroke-linejoin="round" stroke-linecap="butt"/>
<path d="M1055.1,1994.5 L1059,2006 L1064.1,2012.4 L1069.2,2021.4 L1073,2027.3 L1076.9,2017.6 L1080.7,2004.8 L1083.3,1989.4 L1085.8,1958.7 L1088.4,1928 L1091,1902.4 L1093.5,1888.3 L1096.1,1883.2 L1098.6,1897.3 L1101.2,1907.5 L1103.7,1928 L1107.6,1953.6 L1111.4,1974 L1115.3,1994.5 L1119.1,2012.4 L1122.9,2027.8 L1126.8,2040.6 L1130.6,2049.6 L1134,2049.6 L1136.5,2045.7 L1139.1,2030.4 L1141.6,2004.8 L1144.2,1979.2 L1146.7,1953.6 L1149.3,1922.9 L1151.9,1897.3 L1154.4,1888.3 L1156.5,1884 L1158.5,1894.7 L1161.1,1907.5 L1163.6,1922.9 L1166.5,1948.5 L1170.3,1974 L1174.1,1997.1 L1178,2015 L1181.8,2030.4 L1185.7,2043.2 L1189.5,2053.4 L1192.1,2057.2 L1194.6,2058 L1197.2,2053.4 L1199.7,2035.5 L1202.3,2009.9 L1204.9,1979.2 L1207.4,1948.5 L1210,1915.2 L1212.5,1887 L1214.3,1871.7 L1216.9,1867.8 L1218.9,1881.9 L1221.5,1897.3 L1224,1915.2 L1227.1,1938.2 L1230.4,1963.8 L1234.3,1989.4 L1238.1,2009.9 L1242,2025.2 L1245.8,2040.6 L1249.6,2052.1 L1252.7,2054.7 L1254.8,2055.4 L1256.8,2048.3 L1259.4,2030.4 L1261.9,2004.8 L1264.5,1974 L1267,1943.3 L1269.6,1912.6 L1272.2,1887 L1274.7,1874.2 L1277.8,1871.7 L1280.4,1881.9 L1282.9,1894.7 L1286,1910.1 L1289.3,1935.7 L1292.6,1958.7 L1296.2,1979.2 L1300.3,1999.6 L1303.9,2015 L1307.5,2025.2 L1311.1,2031.6 L1314.9,2034.2 L1317.5,2029.1 L1320,2009.9 L1322.6,1984.3 L1325.1,1953.6 L1327.7,1922.9 L1330.3,1897.3 L1332.8,1876.8 L1335.4,1872.9 L1337.2,1884.5 L1339.2,1902.4 L1341.8,1912.6 L1344.9,1925.4 L1348.2,1948.5 L1352,1974 L1355.9,1994.5 L1359.7,2012.4 L1363.5,2027.8 L1367.4,2040.6 L1371.2,2049.6 L1375.1,2049.6 L1377.6,2043.2 L1380.2,2025.2 L1382.7,1999.6 L1385.3,1974 L1387.9,1948.5 L1391.7,1930.5 L1395,1913.9 L1398.1,1911.3 L1400.7,1917.7 L1403.2,1925.4 L1406.3,1933.1 L1409.6,1953.6 L1413.5,1974 L1417.3,1994.5 L1421.1,2012.4 L1425,2027.8 L1428.8,2040.6 L1432.6,2049.6 L1436,2051.3 L1438.5,2043.2 L1441.1,2025.2 L1443.7,1999.6 L1446.2,1968.9 L1448.8,1938.2 L1451.3,1907.5 L1453.9,1881.9 L1456.4,1871.7 L1458.8,1867.1 L1461.1,1876.8 L1463.6,1892.1 L1466.7,1912.6 L1469.8,1938.2 L1473.6,1963.8 L1475,1963.8 L1478.8,1979.2 L1482.7,1999.6 L1486.5,2017.6 L1490.4,2030.4 L1493.4,2036.8 L1496.8,2039.3 L1499.3,2030.4 L1501.9,2009.9 L1504.4,1979.2 L1507,1943.3 L1509.6,1907.5 L1512.1,1876.8 L1514.7,1856.3 L1517.2,1849.9 L1519.8,1847.4 L1522.4,1861.4 L1525.7,1876.8 L1528.7,1902.4 L1531.8,1928 L1535.1,1951 L1538.5,1968.9 L1541.5,1981.7 L1545.4,1994.5 L1549.2,2007.3 L1553.1,2017.6 L1556.4,2020.1 L1559,2015 L1561.5,1999.6 L1564.1,1974 L1566.6,1943.3 L1569.2,1907.5 L1571.7,1876.8 L1574.3,1856.3 L1576.9,1846.1 L1579.4,1842.2 L1582,1853.7 L1585.1,1866.5 L1588.1,1887 L1591.5,1910.1 L1595.3,1930.5 L1599.1,1951 L1603,1968.9 L1606.8,1984.3 L1610.7,1999.6 L1614.5,2012.4 L1617.3,2016.3 L1619.9,2012.4 L1622.4,1999.6 L1625,1974 L1627.5,1943.3 L1630.1,1907.5 L1632.7,1874.2 L1635.2,1848.6 L1637.8,1839.7 L1640.1,1835.8 L1642.6,1847.4 L1645.2,1858.9 L1648.5,1876.8 L1651.6,1902.4 L1654.7,1928 L1658,1948.5 L1661.3,1963.8 L1665.7,1976.6 L1669.5,1989.4 L1672.6,1994.5 L1675.9,2002.2 L1678.5,2006 L1681.8,2003.5 L1684.4,1994.5 L1686.4,1979.2 L1688,1966.4 L1690,1958.7 L1692,1938.2 L1694.1,1917.7 L1696.1,1904.9 L1698.2,1902.4 L1700.7,1902.4 L1703.3,1915.2 L1705.9,1933.1 L1709.2,1953.6 L1712.5,1971.5 L1716.1,1989.4 L1719.7,2007.3 L1723.3,2022.7 L1727.1,2038 L1731,2048.3 L1734.8,2057.2 L1738.6,2059.8 L1741.2,2052.1 L1743.7,2035.5 L1746.3,2009.9 L1748.9,1979.2 L1751.4,1948.5 L1754,1920.3 L1756.5,1904.9 L1759.1,1903.7 L1761.2,1902.4 L1763.7,1912.6 L1766.8,1922.9 L1769.3,1938.2 L1772.4,1958.7 L1775.7,1979.2 L1779.1,1997.1 L1782.7,2015 L1786.2,2027.8 L1789.8,2038 L1793.7,2048.3 L1797,2054.7 L1799.5,2055.4 L1802.1,2048.3 L1804.7,2030.4 L1807.2,2004.8 L1809.8,1974 L1812.3,1943.3 L1814.9,1915.2 L1817.5,1901.1 L1820,1898.5 L1822.1,1893.4 L1824.4,1902.4 L1827.7,1912.6 L1830.3,1928 L1833.3,1948.5 L1836.4,1966.4 L1839.7,1979.2 L1843.6,1990.7 L1847.4,2002.2 L1851.2,2012.4 L1854.3,2017.6 L1856.9,2027.8 L1860.2,2032.9 L1862.8,2031.6 L1865.3,2022.7 L1867.9,2004.8 L1870.4,1984.3 L1873,1958.7 L1875.6,1928 L1878.1,1902.4 L1880.2,1883.2 L1882.7,1878.1 L1885.3,1892.1 L1888.4,1912.6 L1891.7,1935.7 L1894.8,1958.7 L1897.8,1979.2 L1899.9,1988.1" fill="none" stroke="#ff0000" stroke-width="3.8" stroke-linejoin="round" stroke-linecap="butt"/>
<path d="M1056,2559.7 L1899.3,2559.7" fill="none" stroke="#ffb3bd" stroke-width="6.4" stroke-linejoin="round" stroke-linecap="butt"/>
</g>
</g>
<rect x="1055" y="1805.3" width="844.5" height="754" fill="none" stroke="#2e2e2e" stroke-width="1.3"/>
<line x1="1055" y1="2483.9" x2="1061" y2="2483.9" stroke="#333" stroke-width="1.2"/>
<line x1="1893.5" y1="2483.9" x2="1899.5" y2="2483.9" stroke="#333" stroke-width="1.2"/>
<line x1="1055" y1="2408.5" x2="1061" y2="2408.5" stroke="#333" stroke-width="1.2"/>
<line x1="1893.5" y1="2408.5" x2="1899.5" y2="2408.5" stroke="#333" stroke-width="1.2"/>
<line x1="1055" y1="2333.1" x2="1061" y2="2333.1" stroke="#333" stroke-width="1.2"/>
<line x1="1893.5" y1="2333.1" x2="1899.5" y2="2333.1" stroke="#333" stroke-width="1.2"/>
<line x1="1055" y1="2257.7" x2="1061" y2="2257.7" stroke="#333" stroke-width="1.2"/>
<line x1="1893.5" y1="2257.7" x2="1899.5" y2="2257.7" stroke="#333" stroke-width="1.2"/>
<line x1="1055" y1="2182.3" x2="1061" y2="2182.3" stroke="#333" stroke-width="1.2"/>
<line x1="1893.5" y1="2182.3" x2="1899.5" y2="2182.3" stroke="#333" stroke-width="1.2"/>
<line x1="1055" y1="2106.9" x2="1061" y2="2106.9" stroke="#333" stroke-width="1.2"/>
<line x1="1893.5" y1="2106.9" x2="1899.5" y2="2106.9" stroke="#333" stroke-width="1.2"/>
<line x1="1055" y1="2031.5" x2="1061" y2="2031.5" stroke="#333" stroke-width="1.2"/>
<line x1="1893.5" y1="2031.5" x2="1899.5" y2="2031.5" stroke="#333" stroke-width="1.2"/>
<line x1="1055" y1="1956.1" x2="1061" y2="1956.1" stroke="#333" stroke-width="1.2"/>
<line x1="1893.5" y1="1956.1" x2="1899.5" y2="1956.1" stroke="#333" stroke-width="1.2"/>
<line x1="1055" y1="1880.7" x2="1061" y2="1880.7" stroke="#333" stroke-width="1.2"/>
<line x1="1893.5" y1="1880.7" x2="1899.5" y2="1880.7" stroke="#333" stroke-width="1.2"/>
<line x1="1237.1" y1="2551.3" x2="1237.1" y2="2559.3" stroke="#333" stroke-width="1.2"/>
<line x1="1237.1" y1="1805.3" x2="1237.1" y2="1811.3" stroke="#333" stroke-width="1.2"/>
<line x1="1418.5" y1="2551.3" x2="1418.5" y2="2559.3" stroke="#333" stroke-width="1.2"/>
<line x1="1418.5" y1="1805.3" x2="1418.5" y2="1811.3" stroke="#333" stroke-width="1.2"/>
<line x1="1599.9" y1="2551.3" x2="1599.9" y2="2559.3" stroke="#333" stroke-width="1.2"/>
<line x1="1599.9" y1="1805.3" x2="1599.9" y2="1811.3" stroke="#333" stroke-width="1.2"/>
<line x1="1781.3" y1="2551.3" x2="1781.3" y2="2559.3" stroke="#333" stroke-width="1.2"/>
<line x1="1781.3" y1="1805.3" x2="1781.3" y2="1811.3" stroke="#333" stroke-width="1.2"/>
<text x="1055.7" y="2600" font-size="50" text-anchor="middle" font-family="Liberation Serif, serif" fill="#000">13</text>
<text x="1237.1" y="2600" font-size="50" text-anchor="middle" font-family="Liberation Serif, serif" fill="#000">16</text>
<text x="1418.5" y="2600" font-size="50" text-anchor="middle" font-family="Liberation Serif, serif" fill="#000">19</text>
<text x="1599.9" y="2600" font-size="50" text-anchor="middle" font-family="Liberation Serif, serif" fill="#000">22</text>
<text x="1781.3" y="2600" font-size="50" text-anchor="middle" font-family="Liberation Serif, serif" fill="#000">25</text>
<text x="160.5" y="2501.4" font-size="52" text-anchor="end" font-family="Liberation Serif, serif" fill="#000">-5</text>
<text x="160.5" y="2426" font-size="52" text-anchor="end" font-family="Liberation Serif, serif" fill="#000">0</text>
<text x="160.5" y="2350.6" font-size="52" text-anchor="end" font-family="Liberation Serif, serif" fill="#000">5</text>
<text x="160.5" y="2275.2" font-size="52" text-anchor="end" font-family="Liberation Serif, serif" fill="#000">10</text>
<text x="160.5" y="2199.8" font-size="52" text-anchor="end" font-family="Liberation Serif, serif" fill="#000">15</text>
<text x="160.5" y="2124.4" font-size="52" text-anchor="end" font-family="Liberation Serif, serif" fill="#000">20</text>
<text x="160.5" y="2049" font-size="52" text-anchor="end" font-family="Liberation Serif, serif" fill="#000">25</text>
<text x="160.5" y="1973.6" font-size="52" text-anchor="end" font-family="Liberation Serif, serif" fill="#000">30</text>
<text x="160.5" y="1898.2" font-size="52" text-anchor="end" font-family="Liberation Serif, serif" fill="#000">35</text>
<text x="1912.5" y="2576.3" font-size="50" text-anchor="start" font-family="Liberation Serif, serif" fill="#000">0.0</text>
<text x="1912.5" y="2425.5" font-size="50" text-anchor="start" font-family="Liberation Serif, serif" fill="#000">0.1</text>
<text x="1912.5" y="2274.7" font-size="50" text-anchor="start" font-family="Liberation Serif, serif" fill="#000">0.2</text>
<text x="1912.5" y="2123.9" font-size="50" text-anchor="start" font-family="Liberation Serif, serif" fill="#000">0.3</text>
<text x="1912.5" y="1973.1" font-size="50" text-anchor="start" font-family="Liberation Serif, serif" fill="#000">0.4</text>
<text x="1912.5" y="1822.3" font-size="50" text-anchor="start" font-family="Liberation Serif, serif" fill="#000">0.5</text>
<text transform="translate(61,2184.3) rotate(-90)" font-size="51" text-anchor="middle" font-family="Liberation Serif, serif" fill="#000">Temperature (<tspan dy="-24" font-size="36">o</tspan><tspan dy="24">C)</tspan></text>
<text transform="translate(2034,2183.8) rotate(-90)" font-size="50" text-anchor="middle" font-family="Liberation Serif, serif" fill="#000">Snow depth (m)</text>
<text x="1022" y="2656.5" font-size="50" text-anchor="middle" font-family="Liberation Serif, serif" fill="#000">Day of 2019</text>
<text x="1014" y="2552" font-size="54" text-anchor="end" font-family="Liberation Serif, serif" fill="#000">CTS</text>
<text x="1882.5" y="2552" font-size="54" text-anchor="end" font-family="Liberation Serif, serif" fill="#000">HRR</text>
<text x="186.5" y="2520.3" font-size="70" text-anchor="start" font-family="Liberation Sans, sans-serif" fill="#000">(c)</text>
<text x="1117.5" y="2191.5" font-size="50.4" text-anchor="start" font-family="Liberation Serif, serif" fill="#000">January:</text>
<text x="1117.5" y="2250.5" font-size="50.4" text-anchor="start" font-family="Liberation Serif, serif" fill="#000">July:</text>
<text x="1327" y="2191.5" font-size="50.4" text-anchor="start" font-family="Liberation Serif, serif" fill="#1e8fff">SAT</text>
<text x="1465.5" y="2191.5" font-size="50.4" text-anchor="start" font-family="Liberation Serif, serif" fill="#0000e6">GST</text>
<text x="1603" y="2191.5" font-size="50.4" text-anchor="start" font-family="Liberation Serif, serif" fill="#ffb6c1">SNOW</text>
<text x="1327" y="2250.5" font-size="50.4" text-anchor="start" font-family="Liberation Serif, serif" fill="#fa8072">SAT</text>
<text x="1465.5" y="2250.5" font-size="50.4" text-anchor="start" font-family="Liberation Serif, serif" fill="#ff0000">GST</text>
</svg>
</body></html>
